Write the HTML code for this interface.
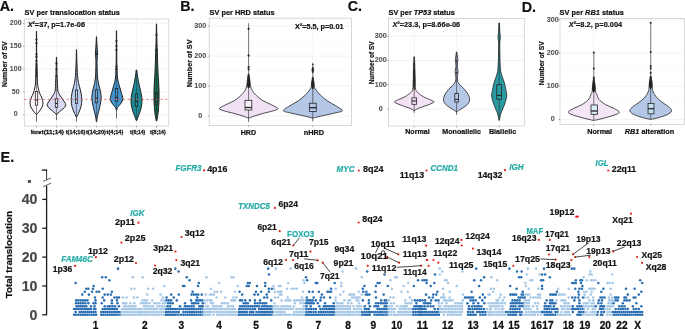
<!DOCTYPE html>
<html><head><meta charset="utf-8"><style>
html,body{margin:0;padding:0;background:#fff;width:685px;height:329px;overflow:hidden}
svg{display:block;font-family:"Liberation Sans",sans-serif;will-change:transform}
</style></head><body>
<svg width="685" height="329" viewBox="0 0 685 329">
<rect width="685" height="329" fill="#fff"/>
<text x="-0.30" y="11.40" font-size="14.3" font-weight="bold" fill="#111" stroke="#111" stroke-width="0.2" >A.</text>
<text x="180.30" y="10.90" font-size="14.3" font-weight="bold" fill="#111" stroke="#111" stroke-width="0.2" >B.</text>
<text x="347.80" y="10.90" font-size="14.3" font-weight="bold" fill="#111" stroke="#111" stroke-width="0.2" >C.</text>
<text x="521.80" y="11.50" font-size="14.3" font-weight="bold" fill="#111" stroke="#111" stroke-width="0.2" >D.</text>
<text x="0.60" y="162.00" font-size="14.3" font-weight="bold" fill="#111" stroke="#111" stroke-width="0.2" >E.</text>
<text x="24.60" y="14.70" font-size="7.3" font-weight="bold" fill="#111" stroke="#111" stroke-width="0.2" textLength="95.20" lengthAdjust="spacingAndGlyphs" >SV per translocation status</text>
<rect x="24.30" y="19.00" width="144.50" height="107.10" fill="#fff" stroke="none" stroke-width="1" />
<line x1="24.30" y1="103.29" x2="168.80" y2="103.29" stroke="#f4f4f4" stroke-width="0.4" />
<line x1="24.30" y1="80.46" x2="168.80" y2="80.46" stroke="#f4f4f4" stroke-width="0.4" />
<line x1="24.30" y1="57.64" x2="168.80" y2="57.64" stroke="#f4f4f4" stroke-width="0.4" />
<line x1="24.30" y1="34.81" x2="168.80" y2="34.81" stroke="#f4f4f4" stroke-width="0.4" />
<line x1="24.30" y1="114.70" x2="168.80" y2="114.70" stroke="#ebebeb" stroke-width="0.6" />
<line x1="24.30" y1="91.88" x2="168.80" y2="91.88" stroke="#ebebeb" stroke-width="0.6" />
<line x1="24.30" y1="69.05" x2="168.80" y2="69.05" stroke="#ebebeb" stroke-width="0.6" />
<line x1="24.30" y1="46.22" x2="168.80" y2="46.22" stroke="#ebebeb" stroke-width="0.6" />
<line x1="24.30" y1="23.40" x2="168.80" y2="23.40" stroke="#ebebeb" stroke-width="0.6" />
<line x1="36.50" y1="19.00" x2="36.50" y2="126.10" stroke="#ebebeb" stroke-width="0.6" />
<line x1="56.50" y1="19.00" x2="56.50" y2="126.10" stroke="#ebebeb" stroke-width="0.6" />
<line x1="76.50" y1="19.00" x2="76.50" y2="126.10" stroke="#ebebeb" stroke-width="0.6" />
<line x1="96.50" y1="19.00" x2="96.50" y2="126.10" stroke="#ebebeb" stroke-width="0.6" />
<line x1="116.50" y1="19.00" x2="116.50" y2="126.10" stroke="#ebebeb" stroke-width="0.6" />
<line x1="136.50" y1="19.00" x2="136.50" y2="126.10" stroke="#ebebeb" stroke-width="0.6" />
<line x1="156.50" y1="19.00" x2="156.50" y2="126.10" stroke="#ebebeb" stroke-width="0.6" />
<rect x="24.30" y="19.00" width="144.50" height="107.10" fill="none" stroke="#cfcfcf" stroke-width="0.8" />
<line x1="22.90" y1="114.70" x2="24.30" y2="114.70" stroke="#555" stroke-width="0.5" />
<text x="15.70" y="116.40" font-size="7.0" font-weight="bold" fill="#4d4d4d" stroke="#4d4d4d" stroke-width="0.05" text-anchor="middle" >0</text>
<line x1="22.90" y1="91.88" x2="24.30" y2="91.88" stroke="#555" stroke-width="0.5" />
<text x="15.70" y="93.58" font-size="7.0" font-weight="bold" fill="#4d4d4d" stroke="#4d4d4d" stroke-width="0.05" text-anchor="middle" >50</text>
<line x1="22.90" y1="69.05" x2="24.30" y2="69.05" stroke="#555" stroke-width="0.5" />
<text x="15.70" y="70.75" font-size="7.0" font-weight="bold" fill="#4d4d4d" stroke="#4d4d4d" stroke-width="0.05" text-anchor="middle" >100</text>
<line x1="22.90" y1="46.22" x2="24.30" y2="46.22" stroke="#555" stroke-width="0.5" />
<text x="15.70" y="47.92" font-size="7.0" font-weight="bold" fill="#4d4d4d" stroke="#4d4d4d" stroke-width="0.05" text-anchor="middle" >150</text>
<line x1="22.90" y1="23.40" x2="24.30" y2="23.40" stroke="#555" stroke-width="0.5" />
<text x="15.70" y="25.10" font-size="7.0" font-weight="bold" fill="#4d4d4d" stroke="#4d4d4d" stroke-width="0.05" text-anchor="middle" >200</text>
<line x1="36.50" y1="126.10" x2="36.50" y2="127.50" stroke="#555" stroke-width="0.5" />
<line x1="56.50" y1="126.10" x2="56.50" y2="127.50" stroke="#555" stroke-width="0.5" />
<line x1="76.50" y1="126.10" x2="76.50" y2="127.50" stroke="#555" stroke-width="0.5" />
<line x1="96.50" y1="126.10" x2="96.50" y2="127.50" stroke="#555" stroke-width="0.5" />
<line x1="116.50" y1="126.10" x2="116.50" y2="127.50" stroke="#555" stroke-width="0.5" />
<line x1="136.50" y1="126.10" x2="136.50" y2="127.50" stroke="#555" stroke-width="0.5" />
<line x1="156.50" y1="126.10" x2="156.50" y2="127.50" stroke="#555" stroke-width="0.5" />
<line x1="36.50" y1="113.30" x2="36.50" y2="121.60" stroke="#2b2b2b" stroke-width="0.7" />
<path d="M36.60,31.30 C36.62,36.08 36.63,53.55 36.70,60.00 C36.77,66.45 36.90,67.00 37.00,70.00 C37.10,73.00 37.20,75.67 37.30,78.00 C37.40,80.33 37.45,82.33 37.60,84.00 C37.75,85.67 37.87,86.50 38.20,88.00 C38.53,89.50 39.00,91.33 39.60,93.00 C40.20,94.67 41.23,96.37 41.80,98.00 C42.37,99.63 42.95,101.30 43.00,102.80 C43.05,104.30 42.68,105.63 42.10,107.00 C41.52,108.37 40.37,109.78 39.50,111.00 C38.63,112.22 37.33,113.75 36.90,114.30 L36.10,114.30 C35.67,113.75 34.37,112.22 33.50,111.00 C32.63,109.78 31.48,108.37 30.90,107.00 C30.32,105.63 29.95,104.30 30.00,102.80 C30.05,101.30 30.63,99.63 31.20,98.00 C31.77,96.37 32.80,94.67 33.40,93.00 C34.00,91.33 34.47,89.50 34.80,88.00 C35.13,86.50 35.25,85.67 35.40,84.00 C35.55,82.33 35.60,80.33 35.70,78.00 C35.80,75.67 35.90,73.00 36.00,70.00 C36.10,67.00 36.23,66.45 36.30,60.00 C36.37,53.55 36.38,36.08 36.40,31.30 Z" fill="#fdf6fd" stroke="#222" stroke-width="1.0" stroke-linejoin="round"/>
<line x1="36.50" y1="31.30" x2="36.50" y2="114.30" stroke="#2b2b2b" stroke-width="0.5" />
<rect x="35.30" y="91.50" width="2.40" height="13.70" fill="#fdf6fd" stroke="#262626" stroke-width="0.8" />
<line x1="35.30" y1="100.00" x2="37.70" y2="100.00" stroke="#262626" stroke-width="1.1" />
<line x1="56.50" y1="113.50" x2="56.50" y2="120.00" stroke="#2b2b2b" stroke-width="0.7" />
<path d="M56.60,57.00 C56.65,59.50 56.78,68.17 56.90,72.00 C57.02,75.83 57.18,77.60 57.30,80.00 C57.42,82.40 57.50,84.57 57.60,86.40 C57.70,88.23 57.65,89.73 57.90,91.00 C58.15,92.27 58.45,92.83 59.10,94.00 C59.75,95.17 60.90,96.67 61.80,98.00 C62.70,99.33 63.83,100.88 64.50,102.00 C65.17,103.12 65.80,103.78 65.80,104.70 C65.80,105.62 65.30,106.53 64.50,107.50 C63.70,108.47 62.08,109.58 61.00,110.50 C59.92,111.42 58.68,112.33 58.00,113.00 C57.32,113.67 57.08,114.25 56.90,114.50 L56.10,114.50 C55.92,114.25 55.68,113.67 55.00,113.00 C54.32,112.33 53.08,111.42 52.00,110.50 C50.92,109.58 49.30,108.47 48.50,107.50 C47.70,106.53 47.20,105.62 47.20,104.70 C47.20,103.78 47.83,103.12 48.50,102.00 C49.17,100.88 50.30,99.33 51.20,98.00 C52.10,96.67 53.25,95.17 53.90,94.00 C54.55,92.83 54.85,92.27 55.10,91.00 C55.35,89.73 55.30,88.23 55.40,86.40 C55.50,84.57 55.58,82.40 55.70,80.00 C55.82,77.60 55.98,75.83 56.10,72.00 C56.22,68.17 56.35,59.50 56.40,57.00 Z" fill="#d9d9f3" stroke="#222" stroke-width="1.0" stroke-linejoin="round"/>
<line x1="56.50" y1="57.00" x2="56.50" y2="114.50" stroke="#2b2b2b" stroke-width="0.5" />
<rect x="55.30" y="98.70" width="2.40" height="8.70" fill="#d9d9f3" stroke="#262626" stroke-width="0.8" />
<line x1="55.30" y1="103.40" x2="57.70" y2="103.40" stroke="#262626" stroke-width="1.1" />
<line x1="76.50" y1="115.80" x2="76.50" y2="121.50" stroke="#2b2b2b" stroke-width="0.7" />
<path d="M76.60,49.70 C76.63,51.42 76.70,56.62 76.80,60.00 C76.90,63.38 77.00,66.67 77.20,70.00 C77.40,73.33 77.62,77.22 78.00,80.00 C78.38,82.78 78.98,84.47 79.50,86.70 C80.02,88.93 80.72,91.18 81.10,93.40 C81.48,95.62 81.82,97.78 81.80,100.00 C81.78,102.22 81.47,104.70 81.00,106.70 C80.53,108.70 79.68,110.32 79.00,112.00 C78.32,113.68 77.25,116.00 76.90,116.80 L76.10,116.80 C75.75,116.00 74.68,113.68 74.00,112.00 C73.32,110.32 72.47,108.70 72.00,106.70 C71.53,104.70 71.22,102.22 71.20,100.00 C71.18,97.78 71.52,95.62 71.90,93.40 C72.28,91.18 72.98,88.93 73.50,86.70 C74.02,84.47 74.62,82.78 75.00,80.00 C75.38,77.22 75.60,73.33 75.80,70.00 C76.00,66.67 76.10,63.38 76.20,60.00 C76.30,56.62 76.37,51.42 76.40,49.70 Z" fill="#b8ccee" stroke="#222" stroke-width="1.0" stroke-linejoin="round"/>
<line x1="76.50" y1="49.70" x2="76.50" y2="116.80" stroke="#2b2b2b" stroke-width="0.5" />
<rect x="75.40" y="90.00" width="2.20" height="13.40" fill="#b8ccee" stroke="#262626" stroke-width="0.8" />
<line x1="75.40" y1="99.40" x2="77.60" y2="99.40" stroke="#262626" stroke-width="1.1" />
<path d="M96.60,36.70 C96.67,38.08 96.83,42.12 97.00,45.00 C97.17,47.88 97.58,51.50 97.60,54.00 C97.62,56.50 97.17,57.33 97.10,60.00 C97.03,62.67 97.12,67.00 97.20,70.00 C97.28,73.00 97.37,75.67 97.60,78.00 C97.83,80.33 98.18,82.00 98.60,84.00 C99.02,86.00 99.67,87.83 100.10,90.00 C100.53,92.17 101.13,94.83 101.20,97.00 C101.27,99.17 100.87,100.83 100.50,103.00 C100.13,105.17 99.50,107.83 99.00,110.00 C98.50,112.17 97.88,114.07 97.50,116.00 C97.12,117.93 96.83,120.67 96.70,121.60 L96.30,121.60 C96.17,120.67 95.88,117.93 95.50,116.00 C95.12,114.07 94.50,112.17 94.00,110.00 C93.50,107.83 92.87,105.17 92.50,103.00 C92.13,100.83 91.73,99.17 91.80,97.00 C91.87,94.83 92.47,92.17 92.90,90.00 C93.33,87.83 93.98,86.00 94.40,84.00 C94.82,82.00 95.17,80.33 95.40,78.00 C95.63,75.67 95.72,73.00 95.80,70.00 C95.88,67.00 95.97,62.67 95.90,60.00 C95.83,57.33 95.38,56.50 95.40,54.00 C95.42,51.50 95.83,47.88 96.00,45.00 C96.17,42.12 96.33,38.08 96.40,36.70 Z" fill="#6aa7da" stroke="#222" stroke-width="1.0" stroke-linejoin="round"/>
<line x1="96.50" y1="36.70" x2="96.50" y2="121.60" stroke="#2b2b2b" stroke-width="0.5" />
<rect x="95.30" y="89.70" width="2.40" height="13.10" fill="#6aa7da" stroke="#262626" stroke-width="0.8" />
<line x1="95.30" y1="98.00" x2="97.70" y2="98.00" stroke="#262626" stroke-width="1.1" />
<line x1="116.50" y1="109.00" x2="116.50" y2="118.40" stroke="#2b2b2b" stroke-width="0.7" />
<path d="M116.60,30.80 C116.63,35.67 116.72,53.47 116.80,60.00 C116.88,66.53 116.98,67.00 117.10,70.00 C117.22,73.00 117.17,75.50 117.50,78.00 C117.83,80.50 118.50,82.67 119.10,85.00 C119.70,87.33 120.48,89.72 121.10,92.00 C121.72,94.28 122.80,96.87 122.80,98.70 C122.80,100.53 121.98,101.50 121.10,103.00 C120.22,104.50 118.20,106.53 117.50,107.70 C116.80,108.87 117.00,109.62 116.90,110.00 L116.10,110.00 C116.00,109.62 116.20,108.87 115.50,107.70 C114.80,106.53 112.78,104.50 111.90,103.00 C111.02,101.50 110.20,100.53 110.20,98.70 C110.20,96.87 111.28,94.28 111.90,92.00 C112.52,89.72 113.30,87.33 113.90,85.00 C114.50,82.67 115.17,80.50 115.50,78.00 C115.83,75.50 115.78,73.00 115.90,70.00 C116.02,67.00 116.12,66.53 116.20,60.00 C116.28,53.47 116.37,35.67 116.40,30.80 Z" fill="#3f96cf" stroke="#222" stroke-width="1.0" stroke-linejoin="round"/>
<line x1="116.50" y1="30.80" x2="116.50" y2="110.00" stroke="#2b2b2b" stroke-width="0.5" />
<rect x="115.30" y="88.50" width="2.40" height="13.00" fill="#3f96cf" stroke="#262626" stroke-width="0.8" />
<line x1="115.30" y1="97.50" x2="117.70" y2="97.50" stroke="#262626" stroke-width="1.1" />
<path d="M136.80,70.00 C136.92,71.00 137.22,74.00 137.50,76.00 C137.78,78.00 138.10,80.00 138.50,82.00 C138.90,84.00 139.45,86.00 139.90,88.00 C140.35,90.00 140.85,92.00 141.20,94.00 C141.55,96.00 141.95,98.00 142.00,100.00 C142.05,102.00 141.85,104.00 141.50,106.00 C141.15,108.00 140.48,110.17 139.90,112.00 C139.32,113.83 138.52,115.58 138.00,117.00 C137.48,118.42 137.00,119.92 136.80,120.50 L136.20,120.50 C136.00,119.92 135.52,118.42 135.00,117.00 C134.48,115.58 133.68,113.83 133.10,112.00 C132.52,110.17 131.85,108.00 131.50,106.00 C131.15,104.00 130.95,102.00 131.00,100.00 C131.05,98.00 131.45,96.00 131.80,94.00 C132.15,92.00 132.65,90.00 133.10,88.00 C133.55,86.00 134.10,84.00 134.50,82.00 C134.90,80.00 135.22,78.00 135.50,76.00 C135.78,74.00 136.08,71.00 136.20,70.00 Z" fill="#1b8a96" stroke="#222" stroke-width="1.0" stroke-linejoin="round"/>
<line x1="136.50" y1="70.00" x2="136.50" y2="120.50" stroke="#2b2b2b" stroke-width="0.5" />
<rect x="135.30" y="94.00" width="2.40" height="12.50" fill="#1b8a96" stroke="#262626" stroke-width="0.8" />
<line x1="135.30" y1="101.50" x2="137.70" y2="101.50" stroke="#262626" stroke-width="1.1" />
<path d="M156.60,23.90 C156.65,26.58 156.77,34.82 156.90,40.00 C157.03,45.18 157.23,50.00 157.40,55.00 C157.57,60.00 157.72,65.83 157.90,70.00 C158.08,74.17 158.32,76.67 158.50,80.00 C158.68,83.33 158.92,86.67 159.00,90.00 C159.08,93.33 159.10,96.67 159.00,100.00 C158.90,103.33 158.65,107.17 158.40,110.00 C158.15,112.83 157.77,115.18 157.50,117.00 C157.23,118.82 156.92,120.25 156.80,120.90 L156.20,120.90 C156.08,120.25 155.77,118.82 155.50,117.00 C155.23,115.18 154.85,112.83 154.60,110.00 C154.35,107.17 154.10,103.33 154.00,100.00 C153.90,96.67 153.92,93.33 154.00,90.00 C154.08,86.67 154.32,83.33 154.50,80.00 C154.68,76.67 154.92,74.17 155.10,70.00 C155.28,65.83 155.43,60.00 155.60,55.00 C155.77,50.00 155.97,45.18 156.10,40.00 C156.23,34.82 156.35,26.58 156.40,23.90 Z" fill="#136b51" stroke="#222" stroke-width="1.0" stroke-linejoin="round"/>
<line x1="156.50" y1="23.90" x2="156.50" y2="120.90" stroke="#2b2b2b" stroke-width="0.5" />
<rect x="155.60" y="93.00" width="1.80" height="11.50" fill="#136b51" stroke="#262626" stroke-width="0.8" />
<line x1="155.60" y1="99.50" x2="157.40" y2="99.50" stroke="#262626" stroke-width="1.1" />
<circle cx="36.50" cy="39.60" r="1.1" fill="#222"/>
<circle cx="36.50" cy="43.20" r="1.1" fill="#222"/>
<circle cx="36.50" cy="54.30" r="1.1" fill="#222"/>
<circle cx="36.50" cy="56.80" r="1.1" fill="#222"/>
<circle cx="36.50" cy="61.10" r="1.1" fill="#222"/>
<circle cx="36.50" cy="64.00" r="1.1" fill="#222"/>
<circle cx="36.50" cy="66.00" r="1.1" fill="#222"/>
<circle cx="36.50" cy="68.00" r="1.1" fill="#222"/>
<circle cx="36.50" cy="70.00" r="1.1" fill="#222"/>
<circle cx="36.50" cy="72.00" r="1.1" fill="#222"/>
<circle cx="36.50" cy="74.00" r="1.1" fill="#222"/>
<circle cx="36.50" cy="76.00" r="1.1" fill="#222"/>
<circle cx="56.50" cy="63.40" r="1.1" fill="#222"/>
<circle cx="56.50" cy="69.30" r="1.1" fill="#222"/>
<circle cx="56.50" cy="76.00" r="1.1" fill="#222"/>
<circle cx="96.50" cy="54.20" r="1.1" fill="#222"/>
<circle cx="116.50" cy="41.10" r="1.1" fill="#222"/>
<circle cx="116.50" cy="46.00" r="1.1" fill="#222"/>
<circle cx="116.50" cy="50.00" r="1.1" fill="#222"/>
<circle cx="116.50" cy="66.50" r="1.1" fill="#222"/>
<circle cx="116.50" cy="69.00" r="1.1" fill="#222"/>
<circle cx="156.50" cy="35.00" r="1.1" fill="#222"/>
<circle cx="156.50" cy="50.00" r="1.1" fill="#222"/>
<line x1="24.30" y1="99.40" x2="168.60" y2="99.40" stroke="#e05050" stroke-width="0.8" stroke-dasharray="2.1,2.6"/>
<text x="27.70" y="27.00" font-size="7.3" font-weight="bold" fill="#111" stroke="#111" stroke-width="0.2" textLength="57.30" lengthAdjust="spacingAndGlyphs" ><tspan font-style="italic">X</tspan><tspan font-size="4" dy="-2.6">2</tspan><tspan dy="2.6">=37, p=1.7e-06</tspan></text>
<text x="30.80" y="134.30" font-size="5.7" font-weight="bold" fill="#1a1a1a" stroke="#1a1a1a" stroke-width="0.3" textLength="10.20" lengthAdjust="spacingAndGlyphs" >None</text>
<text x="41.60" y="134.30" font-size="5.7" font-weight="bold" fill="#1a1a1a" stroke="#1a1a1a" stroke-width="0.3" textLength="22.40" lengthAdjust="spacingAndGlyphs" >t(11;14)</text>
<text x="65.80" y="134.30" font-size="5.7" font-weight="bold" fill="#1a1a1a" stroke="#1a1a1a" stroke-width="0.3" textLength="19.50" lengthAdjust="spacingAndGlyphs" >t(14;16)</text>
<text x="86.00" y="134.30" font-size="5.7" font-weight="bold" fill="#1a1a1a" stroke="#1a1a1a" stroke-width="0.3" textLength="20.00" lengthAdjust="spacingAndGlyphs" >t(14;20)</text>
<text x="106.60" y="134.30" font-size="5.7" font-weight="bold" fill="#1a1a1a" stroke="#1a1a1a" stroke-width="0.3" textLength="16.70" lengthAdjust="spacingAndGlyphs" >t(4;14)</text>
<text x="130.10" y="134.30" font-size="5.7" font-weight="bold" fill="#1a1a1a" stroke="#1a1a1a" stroke-width="0.3" textLength="15.20" lengthAdjust="spacingAndGlyphs" >t(6;14)</text>
<text x="150.10" y="134.30" font-size="5.7" font-weight="bold" fill="#1a1a1a" stroke="#1a1a1a" stroke-width="0.3" textLength="15.60" lengthAdjust="spacingAndGlyphs" >t(8;14)</text>
<text transform="translate(6.80,64.25) rotate(-90)" x="-22.85" y="0" font-size="7.1" font-weight="bold" fill="#111" stroke="#111" stroke-width="0.2" textLength="45.70" lengthAdjust="spacingAndGlyphs">Number of SV</text>
<text x="209.60" y="14.70" font-size="7.3" font-weight="bold" fill="#111" stroke="#111" stroke-width="0.2" textLength="65.00" lengthAdjust="spacingAndGlyphs" >SV per HRD status</text>
<rect x="209.20" y="18.20" width="142.40" height="107.40" fill="#fff" stroke="none" stroke-width="1" />
<line x1="209.20" y1="101.10" x2="351.60" y2="101.10" stroke="#f4f4f4" stroke-width="0.4" />
<line x1="209.20" y1="71.10" x2="351.60" y2="71.10" stroke="#f4f4f4" stroke-width="0.4" />
<line x1="209.20" y1="41.10" x2="351.60" y2="41.10" stroke="#f4f4f4" stroke-width="0.4" />
<line x1="209.20" y1="116.10" x2="351.60" y2="116.10" stroke="#ebebeb" stroke-width="0.6" />
<line x1="209.20" y1="86.10" x2="351.60" y2="86.10" stroke="#ebebeb" stroke-width="0.6" />
<line x1="209.20" y1="56.10" x2="351.60" y2="56.10" stroke="#ebebeb" stroke-width="0.6" />
<line x1="209.20" y1="26.10" x2="351.60" y2="26.10" stroke="#ebebeb" stroke-width="0.6" />
<line x1="248.60" y1="18.20" x2="248.60" y2="125.60" stroke="#ebebeb" stroke-width="0.6" />
<line x1="312.80" y1="18.20" x2="312.80" y2="125.60" stroke="#ebebeb" stroke-width="0.6" />
<rect x="209.20" y="18.20" width="142.40" height="107.40" fill="none" stroke="#cfcfcf" stroke-width="0.8" />
<line x1="207.80" y1="116.10" x2="209.20" y2="116.10" stroke="#555" stroke-width="0.5" />
<text x="200.30" y="117.80" font-size="7.2" font-weight="bold" fill="#4d4d4d" stroke="#4d4d4d" stroke-width="0.05" text-anchor="middle" >0</text>
<line x1="207.80" y1="86.10" x2="209.20" y2="86.10" stroke="#555" stroke-width="0.5" />
<text x="200.30" y="87.80" font-size="7.2" font-weight="bold" fill="#4d4d4d" stroke="#4d4d4d" stroke-width="0.05" text-anchor="middle" >100</text>
<line x1="207.80" y1="56.10" x2="209.20" y2="56.10" stroke="#555" stroke-width="0.5" />
<text x="200.30" y="57.80" font-size="7.2" font-weight="bold" fill="#4d4d4d" stroke="#4d4d4d" stroke-width="0.05" text-anchor="middle" >200</text>
<line x1="207.80" y1="26.10" x2="209.20" y2="26.10" stroke="#555" stroke-width="0.5" />
<text x="200.30" y="27.80" font-size="7.2" font-weight="bold" fill="#4d4d4d" stroke="#4d4d4d" stroke-width="0.05" text-anchor="middle" >300</text>
<line x1="248.60" y1="125.60" x2="248.60" y2="127.00" stroke="#555" stroke-width="0.5" />
<line x1="312.80" y1="125.60" x2="312.80" y2="127.00" stroke="#555" stroke-width="0.5" />
<path d="M248.90,74.00 C249.02,74.67 249.35,76.08 249.60,78.00 C249.85,79.92 249.97,83.43 250.40,85.50 C250.83,87.57 251.30,88.82 252.20,90.40 C253.10,91.98 254.02,93.28 255.80,95.00 C257.58,96.72 260.27,99.07 262.90,100.70 C265.53,102.33 269.10,103.48 271.60,104.80 C274.10,106.12 277.73,107.57 277.90,108.60 C278.07,109.63 274.98,110.22 272.60,111.00 C270.22,111.78 266.52,112.50 263.60,113.30 C260.68,114.10 257.47,115.03 255.10,115.80 C252.73,116.57 250.35,117.55 249.40,117.90 L247.80,117.90 C246.85,117.55 244.47,116.57 242.10,115.80 C239.73,115.03 236.52,114.10 233.60,113.30 C230.68,112.50 226.98,111.78 224.60,111.00 C222.22,110.22 219.13,109.63 219.30,108.60 C219.47,107.57 223.10,106.12 225.60,104.80 C228.10,103.48 231.67,102.33 234.30,100.70 C236.93,99.07 239.62,96.72 241.40,95.00 C243.18,93.28 244.10,91.98 245.00,90.40 C245.90,88.82 246.37,87.57 246.80,85.50 C247.23,83.43 247.35,79.92 247.60,78.00 C247.85,76.08 248.18,74.67 248.30,74.00 Z" fill="#f0e2f4" stroke="#222" stroke-width="0.8" stroke-linejoin="round"/>
<line x1="248.60" y1="117.00" x2="248.60" y2="121.90" stroke="#2b2b2b" stroke-width="0.7" />
<line x1="248.60" y1="23.30" x2="248.60" y2="117.00" stroke="#333" stroke-width="0.65" />
<path d="M248.90,74.00 C249.02,74.83 249.38,77.17 249.60,79.00 C249.82,80.83 250.27,83.50 250.20,85.00 C250.13,86.50 249.37,87.50 249.20,88.00 L248.00,88.00 C247.83,87.50 247.07,86.50 247.00,85.00 C246.93,83.50 247.38,80.83 247.60,79.00 C247.82,77.17 248.18,74.83 248.30,74.00 Z" fill="#222" stroke="#222" stroke-width="0.3" stroke-linejoin="round"/>
<rect x="245.00" y="100.30" width="6.80" height="9.70" fill="#f5eff7" stroke="#262626" stroke-width="0.8" />
<line x1="245.00" y1="107.50" x2="251.80" y2="107.50" stroke="#262626" stroke-width="1.3" />
<circle cx="248.60" cy="28.80" r="1.1" fill="#222"/>
<circle cx="248.60" cy="55.60" r="1.1" fill="#222"/>
<circle cx="248.60" cy="67.00" r="1.1" fill="#222"/>
<circle cx="248.60" cy="69.30" r="1.1" fill="#222"/>
<path d="M313.10,77.00 C313.20,77.83 313.47,80.28 313.70,82.00 C313.93,83.72 314.05,85.90 314.50,87.30 C314.95,88.70 315.43,89.12 316.40,90.40 C317.37,91.68 318.52,93.28 320.30,95.00 C322.08,96.72 324.52,98.90 327.10,100.70 C329.68,102.50 333.27,104.15 335.80,105.80 C338.33,107.45 342.30,109.43 342.30,110.60 C342.30,111.77 338.38,112.10 335.80,112.80 C333.22,113.50 329.72,114.15 326.80,114.80 C323.88,115.45 320.50,116.17 318.30,116.70 C316.10,117.23 314.38,117.78 313.60,118.00 L312.00,118.00 C311.22,117.78 309.50,117.23 307.30,116.70 C305.10,116.17 301.72,115.45 298.80,114.80 C295.88,114.15 292.38,113.50 289.80,112.80 C287.22,112.10 283.30,111.77 283.30,110.60 C283.30,109.43 287.27,107.45 289.80,105.80 C292.33,104.15 295.92,102.50 298.50,100.70 C301.08,98.90 303.52,96.72 305.30,95.00 C307.08,93.28 308.23,91.68 309.20,90.40 C310.17,89.12 310.65,88.70 311.10,87.30 C311.55,85.90 311.67,83.72 311.90,82.00 C312.13,80.28 312.40,77.83 312.50,77.00 Z" fill="#b4c7e7" stroke="#222" stroke-width="0.8" stroke-linejoin="round"/>
<line x1="312.80" y1="117.00" x2="312.80" y2="121.40" stroke="#2b2b2b" stroke-width="0.7" />
<line x1="312.80" y1="62.70" x2="312.80" y2="117.00" stroke="#333" stroke-width="0.65" />
<path d="M313.10,67.00 C313.22,67.50 313.80,69.00 313.80,70.00 C313.80,71.00 313.22,72.50 313.10,73.00 L312.50,73.00 C312.38,72.50 311.80,71.00 311.80,70.00 C311.80,69.00 312.38,67.50 312.50,67.00 Z" fill="#222" stroke="#222" stroke-width="0.4" stroke-linejoin="round"/>
<path d="M313.10,78.00 C313.28,79.00 314.17,82.17 314.20,84.00 C314.23,85.83 313.45,88.17 313.30,89.00 L312.30,89.00 C312.15,88.17 311.37,85.83 311.40,84.00 C311.43,82.17 312.32,79.00 312.50,78.00 Z" fill="#222" stroke="#222" stroke-width="0.4" stroke-linejoin="round"/>
<rect x="309.35" y="103.20" width="6.90" height="8.30" fill="#b4c7e7" stroke="#262626" stroke-width="0.8" />
<line x1="309.35" y1="107.70" x2="316.25" y2="107.70" stroke="#262626" stroke-width="1.3" />
<circle cx="312.80" cy="64.50" r="0.8" fill="#222"/>
<text x="295.10" y="28.50" font-size="7.3" font-weight="bold" fill="#111" stroke="#111" stroke-width="0.2" textLength="48.40" lengthAdjust="spacingAndGlyphs" >X<tspan font-size="4" dy="-2.6">2</tspan><tspan dy="2.6">=5.5, p=0.01</tspan></text>
<text x="240.70" y="134.80" font-size="7.1" font-weight="bold" fill="#111" stroke="#111" stroke-width="0.2" textLength="15.40" lengthAdjust="spacingAndGlyphs" >HRD</text>
<text x="303.70" y="134.80" font-size="7.1" font-weight="bold" fill="#111" stroke="#111" stroke-width="0.2" textLength="20.40" lengthAdjust="spacingAndGlyphs" >nHRD</text>
<text transform="translate(192.30,63.40) rotate(-90)" x="-23.90" y="0" font-size="7.5" font-weight="bold" fill="#111" stroke="#111" stroke-width="0.2" textLength="47.80" lengthAdjust="spacingAndGlyphs">Number of SV</text>
<text x="388.60" y="14.50" font-size="7.3" font-weight="bold" fill="#111" stroke="#111" stroke-width="0.2" textLength="66.20" lengthAdjust="spacingAndGlyphs" >SV per <tspan font-style="italic">TP53</tspan> status</text>
<rect x="388.50" y="18.40" width="135.80" height="107.60" fill="#fff" stroke="none" stroke-width="1" />
<line x1="388.50" y1="121.25" x2="524.30" y2="121.25" stroke="#f4f4f4" stroke-width="0.4" />
<line x1="388.50" y1="96.95" x2="524.30" y2="96.95" stroke="#f4f4f4" stroke-width="0.4" />
<line x1="388.50" y1="72.65" x2="524.30" y2="72.65" stroke="#f4f4f4" stroke-width="0.4" />
<line x1="388.50" y1="48.35" x2="524.30" y2="48.35" stroke="#f4f4f4" stroke-width="0.4" />
<line x1="388.50" y1="24.05" x2="524.30" y2="24.05" stroke="#f4f4f4" stroke-width="0.4" />
<line x1="388.50" y1="109.10" x2="524.30" y2="109.10" stroke="#ebebeb" stroke-width="0.6" />
<line x1="388.50" y1="84.80" x2="524.30" y2="84.80" stroke="#ebebeb" stroke-width="0.6" />
<line x1="388.50" y1="60.50" x2="524.30" y2="60.50" stroke="#ebebeb" stroke-width="0.6" />
<line x1="388.50" y1="36.20" x2="524.30" y2="36.20" stroke="#ebebeb" stroke-width="0.6" />
<line x1="414.20" y1="18.40" x2="414.20" y2="126.00" stroke="#ebebeb" stroke-width="0.6" />
<line x1="456.50" y1="18.40" x2="456.50" y2="126.00" stroke="#ebebeb" stroke-width="0.6" />
<line x1="499.20" y1="18.40" x2="499.20" y2="126.00" stroke="#ebebeb" stroke-width="0.6" />
<rect x="388.50" y="18.40" width="135.80" height="107.60" fill="none" stroke="#cfcfcf" stroke-width="0.8" />
<line x1="387.10" y1="109.10" x2="388.50" y2="109.10" stroke="#555" stroke-width="0.5" />
<text x="380.80" y="110.80" font-size="7.2" font-weight="bold" fill="#4d4d4d" stroke="#4d4d4d" stroke-width="0.05" text-anchor="middle" >0</text>
<line x1="387.10" y1="84.80" x2="388.50" y2="84.80" stroke="#555" stroke-width="0.5" />
<text x="380.80" y="86.50" font-size="7.2" font-weight="bold" fill="#4d4d4d" stroke="#4d4d4d" stroke-width="0.05" text-anchor="middle" >100</text>
<line x1="387.10" y1="60.50" x2="388.50" y2="60.50" stroke="#555" stroke-width="0.5" />
<text x="380.80" y="62.20" font-size="7.2" font-weight="bold" fill="#4d4d4d" stroke="#4d4d4d" stroke-width="0.05" text-anchor="middle" >200</text>
<line x1="387.10" y1="36.20" x2="388.50" y2="36.20" stroke="#555" stroke-width="0.5" />
<text x="380.80" y="37.90" font-size="7.2" font-weight="bold" fill="#4d4d4d" stroke="#4d4d4d" stroke-width="0.05" text-anchor="middle" >300</text>
<line x1="414.20" y1="126.00" x2="414.20" y2="127.40" stroke="#555" stroke-width="0.5" />
<line x1="456.50" y1="126.00" x2="456.50" y2="127.40" stroke="#555" stroke-width="0.5" />
<line x1="499.20" y1="126.00" x2="499.20" y2="127.40" stroke="#555" stroke-width="0.5" />
<path d="M414.50,70.00 C414.58,71.67 414.80,76.77 415.00,80.00 C415.20,83.23 415.25,87.30 415.70,89.40 C416.15,91.50 416.40,91.37 417.70,92.60 C419.00,93.83 421.25,95.53 423.50,96.80 C425.75,98.07 429.50,99.28 431.20,100.20 C432.90,101.12 434.58,101.38 433.70,102.30 C432.82,103.22 428.53,104.67 425.90,105.70 C423.27,106.73 419.77,107.72 417.90,108.50 C416.03,109.28 415.23,110.08 414.70,110.40 L413.70,110.40 C413.17,110.08 412.37,109.28 410.50,108.50 C408.63,107.72 405.13,106.73 402.50,105.70 C399.87,104.67 395.58,103.22 394.70,102.30 C393.82,101.38 395.50,101.12 397.20,100.20 C398.90,99.28 402.65,98.07 404.90,96.80 C407.15,95.53 409.40,93.83 410.70,92.60 C412.00,91.37 412.25,91.50 412.70,89.40 C413.15,87.30 413.20,83.23 413.40,80.00 C413.60,76.77 413.82,71.67 413.90,70.00 Z" fill="#f3e2f5" stroke="#222" stroke-width="0.8" stroke-linejoin="round"/>
<path d="M414.50,58.00 C414.58,59.00 414.87,60.33 415.00,64.00 C415.13,67.67 415.35,75.77 415.30,80.00 C415.25,84.23 414.80,87.83 414.70,89.40 L413.70,89.40 C413.60,87.83 413.15,84.23 413.10,80.00 C413.05,75.77 413.27,67.67 413.40,64.00 C413.53,60.33 413.82,59.00 413.90,58.00 Z" fill="#222" stroke="#222" stroke-width="0.3" stroke-linejoin="round"/>
<line x1="414.20" y1="110.00" x2="414.20" y2="112.80" stroke="#2b2b2b" stroke-width="0.7" />
<line x1="414.20" y1="56.10" x2="414.20" y2="111.00" stroke="#333" stroke-width="0.65" />
<rect x="411.90" y="97.90" width="4.70" height="6.40" fill="#f3e2f5" stroke="#262626" stroke-width="0.8" />
<line x1="411.90" y1="101.00" x2="416.60" y2="101.00" stroke="#262626" stroke-width="1.1" />
<circle cx="414.20" cy="58.00" r="0.9" fill="#2b2b2b"/>
<circle cx="414.20" cy="64.00" r="0.9" fill="#2b2b2b"/>
<circle cx="414.20" cy="70.00" r="0.9" fill="#2b2b2b"/>
<circle cx="414.20" cy="74.00" r="0.9" fill="#2b2b2b"/>
<circle cx="414.20" cy="78.00" r="0.9" fill="#2b2b2b"/>
<circle cx="414.20" cy="82.00" r="0.9" fill="#2b2b2b"/>
<circle cx="414.20" cy="85.00" r="0.9" fill="#2b2b2b"/>
<path d="M456.90,52.00 C456.97,52.67 457.13,54.73 457.30,56.00 C457.47,57.27 457.92,57.93 457.90,59.60 C457.88,61.27 457.17,64.05 457.20,66.00 C457.23,67.95 458.08,69.35 458.10,71.30 C458.12,73.25 457.33,75.93 457.30,77.70 C457.27,79.47 457.43,80.67 457.90,81.90 C458.37,83.13 458.98,83.85 460.10,85.10 C461.22,86.35 463.23,87.80 464.60,89.40 C465.97,91.00 467.45,92.93 468.30,94.70 C469.15,96.47 469.82,98.40 469.70,100.00 C469.58,101.60 468.62,103.07 467.60,104.30 C466.58,105.53 465.10,106.35 463.60,107.40 C462.10,108.45 459.70,109.87 458.60,110.60 C457.50,111.33 457.27,111.60 457.00,111.80 L456.20,111.80 C455.93,111.60 455.70,111.33 454.60,110.60 C453.50,109.87 451.10,108.45 449.60,107.40 C448.10,106.35 446.62,105.53 445.60,104.30 C444.58,103.07 443.62,101.60 443.50,100.00 C443.38,98.40 444.05,96.47 444.90,94.70 C445.75,92.93 447.23,91.00 448.60,89.40 C449.97,87.80 451.98,86.35 453.10,85.10 C454.22,83.85 454.83,83.13 455.30,81.90 C455.77,80.67 455.93,79.47 455.90,77.70 C455.87,75.93 455.08,73.25 455.10,71.30 C455.12,69.35 455.97,67.95 456.00,66.00 C456.03,64.05 455.32,61.27 455.30,59.60 C455.28,57.93 455.73,57.27 455.90,56.00 C456.07,54.73 456.23,52.67 456.30,52.00 Z" fill="#b4c7e7" stroke="#222" stroke-width="0.8" stroke-linejoin="round"/>
<line x1="456.60" y1="111.00" x2="456.60" y2="114.90" stroke="#2b2b2b" stroke-width="0.7" />
<line x1="456.60" y1="52.00" x2="456.60" y2="111.00" stroke="#2b2b2b" stroke-width="0.6" />
<rect x="454.80" y="93.60" width="3.80" height="8.50" fill="#b4c7e7" stroke="#262626" stroke-width="0.8" />
<line x1="454.80" y1="99.40" x2="458.60" y2="99.40" stroke="#262626" stroke-width="1.1" />
<circle cx="456.50" cy="60.80" r="0.9" fill="#2b2b2b"/>
<circle cx="456.50" cy="72.90" r="0.9" fill="#2b2b2b"/>
<path d="M499.50,23.00 C499.55,24.50 499.65,29.58 499.80,32.00 C499.95,34.42 500.40,35.67 500.40,37.50 C500.40,39.33 499.88,40.08 499.80,43.00 C499.72,45.92 499.83,51.33 499.90,55.00 C499.97,58.67 500.05,62.22 500.20,65.00 C500.35,67.78 500.47,69.78 500.80,71.70 C501.13,73.62 501.60,74.62 502.20,76.50 C502.80,78.38 503.73,80.55 504.40,83.00 C505.07,85.45 505.82,89.03 506.20,91.20 C506.58,93.37 506.87,94.10 506.70,96.00 C506.53,97.90 505.87,100.43 505.20,102.60 C504.53,104.77 503.45,107.10 502.70,109.00 C501.95,110.90 501.25,112.10 500.70,114.00 C500.15,115.90 499.62,119.33 499.40,120.40 L499.00,120.40 C498.78,119.33 498.25,115.90 497.70,114.00 C497.15,112.10 496.45,110.90 495.70,109.00 C494.95,107.10 493.87,104.77 493.20,102.60 C492.53,100.43 491.87,97.90 491.70,96.00 C491.53,94.10 491.82,93.37 492.20,91.20 C492.58,89.03 493.33,85.45 494.00,83.00 C494.67,80.55 495.60,78.38 496.20,76.50 C496.80,74.62 497.27,73.62 497.60,71.70 C497.93,69.78 498.05,67.78 498.20,65.00 C498.35,62.22 498.43,58.67 498.50,55.00 C498.57,51.33 498.68,45.92 498.60,43.00 C498.52,40.08 498.00,39.33 498.00,37.50 C498.00,35.67 498.45,34.42 498.60,32.00 C498.75,29.58 498.85,24.50 498.90,23.00 Z" fill="#2a9aa2" stroke="#222" stroke-width="0.8" stroke-linejoin="round"/>
<line x1="499.20" y1="23.20" x2="499.20" y2="119.00" stroke="#2b2b2b" stroke-width="0.6" />
<rect x="496.80" y="84.70" width="4.60" height="14.60" fill="#2a9aa2" stroke="#262626" stroke-width="0.8" />
<line x1="496.80" y1="95.40" x2="501.40" y2="95.40" stroke="#262626" stroke-width="1.1" />
<text x="392.60" y="26.80" font-size="7.3" font-weight="bold" fill="#111" stroke="#111" stroke-width="0.15" textLength="67.60" lengthAdjust="spacingAndGlyphs" ><tspan font-style="italic">X</tspan><tspan font-size="4" dy="-2.6">2</tspan><tspan dy="2.6">=23.3, p=8.66e-06</tspan></text>
<ellipse cx="448.0" cy="25.0" rx="2.3" ry="2.0" fill="#6a6a6a"/>
<text x="405.20" y="134.20" font-size="7.1" font-weight="bold" fill="#111" stroke="#111" stroke-width="0.2" textLength="24.50" lengthAdjust="spacingAndGlyphs" >Normal</text>
<text x="442.30" y="134.20" font-size="7.1" font-weight="bold" fill="#111" stroke="#111" stroke-width="0.2" textLength="38.70" lengthAdjust="spacingAndGlyphs" >Monoallelic</text>
<text x="488.90" y="134.20" font-size="7.1" font-weight="bold" fill="#111" stroke="#111" stroke-width="0.2" textLength="27.30" lengthAdjust="spacingAndGlyphs" >Biallelic</text>
<text transform="translate(373.80,62.90) rotate(-90)" x="-21.45" y="0" font-size="7.0" font-weight="bold" fill="#111" stroke="#111" stroke-width="0.2" textLength="42.90" lengthAdjust="spacingAndGlyphs">Number of SV</text>
<text x="559.60" y="14.70" font-size="7.3" font-weight="bold" fill="#111" stroke="#111" stroke-width="0.2" textLength="64.20" lengthAdjust="spacingAndGlyphs" >SV per <tspan font-style="italic">RB1</tspan> status</text>
<rect x="560.00" y="18.40" width="124.40" height="106.00" fill="#fff" stroke="none" stroke-width="1" />
<line x1="560.00" y1="102.89" x2="684.40" y2="102.89" stroke="#f4f4f4" stroke-width="0.4" />
<line x1="560.00" y1="69.66" x2="684.40" y2="69.66" stroke="#f4f4f4" stroke-width="0.4" />
<line x1="560.00" y1="36.42" x2="684.40" y2="36.42" stroke="#f4f4f4" stroke-width="0.4" />
<line x1="560.00" y1="119.50" x2="684.40" y2="119.50" stroke="#ebebeb" stroke-width="0.6" />
<line x1="560.00" y1="86.27" x2="684.40" y2="86.27" stroke="#ebebeb" stroke-width="0.6" />
<line x1="560.00" y1="53.04" x2="684.40" y2="53.04" stroke="#ebebeb" stroke-width="0.6" />
<line x1="560.00" y1="19.81" x2="684.40" y2="19.81" stroke="#ebebeb" stroke-width="0.6" />
<line x1="593.60" y1="18.40" x2="593.60" y2="124.40" stroke="#ebebeb" stroke-width="0.6" />
<line x1="650.80" y1="18.40" x2="650.80" y2="124.40" stroke="#ebebeb" stroke-width="0.6" />
<rect x="560.00" y="18.40" width="124.40" height="106.00" fill="none" stroke="#cfcfcf" stroke-width="0.8" />
<line x1="558.60" y1="119.50" x2="560.00" y2="119.50" stroke="#555" stroke-width="0.5" />
<text x="552.80" y="121.20" font-size="7.2" font-weight="bold" fill="#4d4d4d" stroke="#4d4d4d" stroke-width="0.05" text-anchor="middle" >0</text>
<line x1="558.60" y1="86.27" x2="560.00" y2="86.27" stroke="#555" stroke-width="0.5" />
<text x="552.80" y="87.97" font-size="7.2" font-weight="bold" fill="#4d4d4d" stroke="#4d4d4d" stroke-width="0.05" text-anchor="middle" >100</text>
<line x1="558.60" y1="53.04" x2="560.00" y2="53.04" stroke="#555" stroke-width="0.5" />
<text x="552.80" y="54.74" font-size="7.2" font-weight="bold" fill="#4d4d4d" stroke="#4d4d4d" stroke-width="0.05" text-anchor="middle" >200</text>
<line x1="558.60" y1="19.81" x2="560.00" y2="19.81" stroke="#555" stroke-width="0.5" />
<text x="552.80" y="21.51" font-size="7.2" font-weight="bold" fill="#4d4d4d" stroke="#4d4d4d" stroke-width="0.05" text-anchor="middle" >300</text>
<line x1="593.60" y1="124.40" x2="593.60" y2="125.80" stroke="#555" stroke-width="0.5" />
<line x1="650.80" y1="124.40" x2="650.80" y2="125.80" stroke="#555" stroke-width="0.5" />
<path d="M594.10,78.00 C594.22,79.00 594.57,81.68 594.80,84.00 C595.03,86.32 595.22,90.28 595.50,91.90 C595.78,93.52 595.95,92.48 596.50,93.70 C597.05,94.92 597.27,97.37 598.80,99.20 C600.33,101.03 603.20,103.18 605.70,104.70 C608.20,106.22 611.53,107.03 613.80,108.30 C616.07,109.57 619.47,111.08 619.30,112.30 C619.13,113.52 615.88,114.50 612.80,115.60 C609.72,116.70 603.83,118.12 600.80,118.90 C597.77,119.68 595.63,120.07 594.60,120.30 L593.00,120.30 C591.97,120.07 589.83,119.68 586.80,118.90 C583.77,118.12 577.88,116.70 574.80,115.60 C571.72,114.50 568.47,113.52 568.30,112.30 C568.13,111.08 571.53,109.57 573.80,108.30 C576.07,107.03 579.40,106.22 581.90,104.70 C584.40,103.18 587.27,101.03 588.80,99.20 C590.33,97.37 590.55,94.92 591.10,93.70 C591.65,92.48 591.82,93.52 592.10,91.90 C592.38,90.28 592.57,86.32 592.80,84.00 C593.03,81.68 593.38,79.00 593.50,78.00 Z" fill="#f3e4f6" stroke="#222" stroke-width="0.8" stroke-linejoin="round"/>
<line x1="593.80" y1="52.80" x2="593.80" y2="120.00" stroke="#333" stroke-width="0.65" />
<path d="M594.10,78.50 C594.23,79.42 594.67,82.25 594.90,84.00 C595.13,85.75 595.58,87.67 595.50,89.00 C595.42,90.33 594.58,91.50 594.40,92.00 L593.20,92.00 C593.02,91.50 592.18,90.33 592.10,89.00 C592.02,87.67 592.47,85.75 592.70,84.00 C592.93,82.25 593.37,79.42 593.50,78.50 Z" fill="#222" stroke="#222" stroke-width="0.3" stroke-linejoin="round"/>
<rect x="591.00" y="105.00" width="6.40" height="9.30" fill="#d6ecf6" stroke="#262626" stroke-width="0.8" />
<line x1="591.00" y1="111.00" x2="597.40" y2="111.00" stroke="#262626" stroke-width="1.3" />
<circle cx="593.80" cy="52.60" r="1.0" fill="#222"/>
<circle cx="593.80" cy="68.50" r="1.0" fill="#222"/>
<circle cx="593.80" cy="77.50" r="1.0" fill="#222"/>
<path d="M651.00,76.00 C651.12,76.83 651.47,78.97 651.70,81.00 C651.93,83.03 652.15,86.38 652.40,88.20 C652.65,90.02 652.50,90.37 653.20,91.90 C653.90,93.43 654.97,95.58 656.60,97.40 C658.23,99.22 660.87,101.13 663.00,102.80 C665.13,104.47 667.97,106.02 669.40,107.40 C670.83,108.78 671.98,109.88 671.60,111.10 C671.22,112.32 669.37,113.58 667.10,114.70 C664.83,115.82 660.60,117.03 658.00,117.80 C655.40,118.57 652.58,119.05 651.50,119.30 L649.90,119.30 C648.82,119.05 646.00,118.57 643.40,117.80 C640.80,117.03 636.57,115.82 634.30,114.70 C632.03,113.58 630.18,112.32 629.80,111.10 C629.42,109.88 630.57,108.78 632.00,107.40 C633.43,106.02 636.27,104.47 638.40,102.80 C640.53,101.13 643.17,99.22 644.80,97.40 C646.43,95.58 647.50,93.43 648.20,91.90 C648.90,90.37 648.75,90.02 649.00,88.20 C649.25,86.38 649.47,83.03 649.70,81.00 C649.93,78.97 650.28,76.83 650.40,76.00 Z" fill="#b4c7e7" stroke="#222" stroke-width="0.8" stroke-linejoin="round"/>
<line x1="650.70" y1="22.70" x2="650.70" y2="119.00" stroke="#333" stroke-width="0.65" />
<path d="M651.00,76.00 C651.12,76.67 651.47,78.50 651.70,80.00 C651.93,81.50 652.47,83.58 652.40,85.00 C652.33,86.42 651.48,87.92 651.30,88.50 L650.10,88.50 C649.92,87.92 649.07,86.42 649.00,85.00 C648.93,83.58 649.47,81.50 649.70,80.00 C649.93,78.50 650.28,76.67 650.40,76.00 Z" fill="#222" stroke="#222" stroke-width="0.3" stroke-linejoin="round"/>
<rect x="648.05" y="103.40" width="5.90" height="10.40" fill="#c2e1ef" stroke="#262626" stroke-width="0.8" />
<line x1="648.05" y1="108.70" x2="653.95" y2="108.70" stroke="#262626" stroke-width="1.3" />
<circle cx="650.70" cy="22.70" r="1.0" fill="#222"/>
<circle cx="650.70" cy="52.00" r="1.0" fill="#222"/>
<circle cx="650.70" cy="66.00" r="1.0" fill="#222"/>
<circle cx="650.70" cy="68.30" r="1.0" fill="#222"/>
<circle cx="650.70" cy="73.00" r="1.0" fill="#222"/>
<text x="568.80" y="26.50" font-size="7.3" font-weight="bold" fill="#111" stroke="#111" stroke-width="0.15" textLength="53.40" lengthAdjust="spacingAndGlyphs" ><tspan font-style="italic">X</tspan><tspan font-size="4" dy="-2.6">2</tspan><tspan dy="2.6">=8.2, p=0.004</tspan></text>
<text x="587.20" y="133.70" font-size="7.2" font-weight="bold" fill="#111" stroke="#111" stroke-width="0.2" textLength="24.90" lengthAdjust="spacingAndGlyphs" >Normal</text>
<text x="624.80" y="133.70" font-size="7.2" font-weight="bold" fill="#111" stroke="#111" stroke-width="0.2" textLength="49.40" lengthAdjust="spacingAndGlyphs" ><tspan font-style="italic">RB1</tspan> alteration</text>
<text transform="translate(543.80,63.30) rotate(-90)" x="-21.90" y="0" font-size="7.0" font-weight="bold" fill="#111" stroke="#111" stroke-width="0.2" textLength="43.80" lengthAdjust="spacingAndGlyphs">Number of SV</text>
<line x1="46.60" y1="185.70" x2="46.60" y2="315.20" stroke="#1a1a1a" stroke-width="1.3" />
<line x1="46.60" y1="169.50" x2="46.60" y2="179.70" stroke="#1a1a1a" stroke-width="0.9" />
<line x1="41.90" y1="170.10" x2="47.10" y2="170.10" stroke="#1a1a1a" stroke-width="1.3" />
<line x1="43.10" y1="181.40" x2="51.10" y2="178.00" stroke="#1a1a1a" stroke-width="0.7" />
<line x1="43.10" y1="186.80" x2="51.10" y2="183.10" stroke="#1a1a1a" stroke-width="0.7" />
<rect x="27.80" y="180.00" width="3.20" height="2.90" fill="#555" stroke="none" stroke-width="1" />
<line x1="42.30" y1="314.80" x2="46.60" y2="314.80" stroke="#1a1a1a" stroke-width="1.3" />
<text x="37.50" y="319.70" font-size="14.2" font-weight="bold" fill="#484848" stroke="#484848" stroke-width="0.2" text-anchor="end" >0</text>
<line x1="42.30" y1="285.95" x2="46.60" y2="285.95" stroke="#1a1a1a" stroke-width="1.3" />
<text x="37.50" y="290.85" font-size="14.2" font-weight="bold" fill="#484848" stroke="#484848" stroke-width="0.2" text-anchor="end" >10</text>
<line x1="42.30" y1="257.10" x2="46.60" y2="257.10" stroke="#1a1a1a" stroke-width="1.3" />
<text x="37.50" y="262.00" font-size="14.2" font-weight="bold" fill="#484848" stroke="#484848" stroke-width="0.2" text-anchor="end" >20</text>
<line x1="42.30" y1="228.25" x2="46.60" y2="228.25" stroke="#1a1a1a" stroke-width="1.3" />
<text x="37.50" y="233.15" font-size="14.2" font-weight="bold" fill="#484848" stroke="#484848" stroke-width="0.2" text-anchor="end" >30</text>
<line x1="42.30" y1="199.40" x2="46.60" y2="199.40" stroke="#1a1a1a" stroke-width="1.3" />
<text x="37.50" y="204.30" font-size="14.2" font-weight="bold" fill="#484848" stroke="#484848" stroke-width="0.2" text-anchor="end" >40</text>
<text transform="translate(12.40,254.60) rotate(-90)" x="-43.60" y="0" font-size="9.8" font-weight="bold" fill="#111" stroke="#111" stroke-width="0.2" textLength="87.20" lengthAdjust="spacingAndGlyphs">Total translocation</text>
<circle cx="74.10" cy="314.80" r="1.27" fill="#2a6eb2"/>
<circle cx="76.30" cy="314.80" r="1.27" fill="#2a6eb2"/>
<circle cx="78.50" cy="314.80" r="1.27" fill="#2a6eb2"/>
<circle cx="80.70" cy="314.80" r="1.27" fill="#2a6eb2"/>
<circle cx="82.90" cy="314.80" r="1.27" fill="#2a6eb2"/>
<circle cx="85.10" cy="314.80" r="1.27" fill="#2a6eb2"/>
<circle cx="87.30" cy="314.80" r="1.27" fill="#2a6eb2"/>
<circle cx="89.50" cy="314.80" r="1.27" fill="#2a6eb2"/>
<circle cx="91.70" cy="314.80" r="1.27" fill="#2a6eb2"/>
<circle cx="93.90" cy="314.80" r="1.27" fill="#2a6eb2"/>
<circle cx="96.10" cy="314.80" r="1.27" fill="#2a6eb2"/>
<circle cx="101.20" cy="314.80" r="1.27" fill="#2a6eb2"/>
<circle cx="103.36" cy="314.80" r="1.27" fill="#2a6eb2"/>
<circle cx="105.51" cy="314.80" r="1.27" fill="#2a6eb2"/>
<circle cx="107.67" cy="314.80" r="1.27" fill="#2a6eb2"/>
<circle cx="109.82" cy="314.80" r="1.27" fill="#2a6eb2"/>
<circle cx="111.98" cy="314.80" r="1.27" fill="#2a6eb2"/>
<circle cx="114.13" cy="314.80" r="1.27" fill="#2a6eb2"/>
<circle cx="116.29" cy="314.80" r="1.27" fill="#2a6eb2"/>
<circle cx="118.44" cy="314.80" r="1.27" fill="#2a6eb2"/>
<circle cx="120.60" cy="314.80" r="1.27" fill="#2a6eb2"/>
<circle cx="121.50" cy="314.80" r="1.27" fill="#a6c8e6"/>
<circle cx="123.56" cy="314.80" r="1.27" fill="#a6c8e6"/>
<circle cx="125.61" cy="314.80" r="1.27" fill="#a6c8e6"/>
<circle cx="127.67" cy="314.80" r="1.27" fill="#a6c8e6"/>
<circle cx="129.72" cy="314.80" r="1.27" fill="#a6c8e6"/>
<circle cx="131.78" cy="314.80" r="1.27" fill="#a6c8e6"/>
<circle cx="133.83" cy="314.80" r="1.27" fill="#a6c8e6"/>
<circle cx="135.89" cy="314.80" r="1.27" fill="#a6c8e6"/>
<circle cx="137.94" cy="314.80" r="1.27" fill="#a6c8e6"/>
<circle cx="140.00" cy="314.80" r="1.27" fill="#a6c8e6"/>
<circle cx="75.60" cy="311.92" r="1.27" fill="#2a6eb2"/>
<circle cx="79.70" cy="311.92" r="1.27" fill="#2a6eb2"/>
<circle cx="81.67" cy="311.92" r="1.27" fill="#2a6eb2"/>
<circle cx="83.65" cy="311.92" r="1.27" fill="#2a6eb2"/>
<circle cx="85.62" cy="311.92" r="1.27" fill="#2a6eb2"/>
<circle cx="87.60" cy="311.92" r="1.27" fill="#2a6eb2"/>
<circle cx="89.58" cy="311.92" r="1.27" fill="#2a6eb2"/>
<circle cx="91.55" cy="311.92" r="1.27" fill="#2a6eb2"/>
<circle cx="93.53" cy="311.92" r="1.27" fill="#2a6eb2"/>
<circle cx="95.50" cy="311.92" r="1.27" fill="#2a6eb2"/>
<circle cx="101.20" cy="311.92" r="1.27" fill="#2a6eb2"/>
<circle cx="103.29" cy="311.92" r="1.27" fill="#2a6eb2"/>
<circle cx="105.38" cy="311.92" r="1.27" fill="#2a6eb2"/>
<circle cx="107.47" cy="311.92" r="1.27" fill="#2a6eb2"/>
<circle cx="109.56" cy="311.92" r="1.27" fill="#2a6eb2"/>
<circle cx="111.64" cy="311.92" r="1.27" fill="#2a6eb2"/>
<circle cx="113.73" cy="311.92" r="1.27" fill="#2a6eb2"/>
<circle cx="115.82" cy="311.92" r="1.27" fill="#2a6eb2"/>
<circle cx="117.91" cy="311.92" r="1.27" fill="#2a6eb2"/>
<circle cx="120.00" cy="311.92" r="1.27" fill="#2a6eb2"/>
<circle cx="121.50" cy="311.92" r="1.27" fill="#a6c8e6"/>
<circle cx="123.56" cy="311.92" r="1.27" fill="#a6c8e6"/>
<circle cx="125.61" cy="311.92" r="1.27" fill="#a6c8e6"/>
<circle cx="127.67" cy="311.92" r="1.27" fill="#a6c8e6"/>
<circle cx="129.72" cy="311.92" r="1.27" fill="#a6c8e6"/>
<circle cx="131.78" cy="311.92" r="1.27" fill="#a6c8e6"/>
<circle cx="133.83" cy="311.92" r="1.27" fill="#a6c8e6"/>
<circle cx="135.89" cy="311.92" r="1.27" fill="#a6c8e6"/>
<circle cx="137.94" cy="311.92" r="1.27" fill="#a6c8e6"/>
<circle cx="140.00" cy="311.92" r="1.27" fill="#a6c8e6"/>
<circle cx="74.10" cy="309.03" r="1.27" fill="#2a6eb2"/>
<circle cx="76.14" cy="309.03" r="1.27" fill="#2a6eb2"/>
<circle cx="78.18" cy="309.03" r="1.27" fill="#2a6eb2"/>
<circle cx="80.22" cy="309.03" r="1.27" fill="#2a6eb2"/>
<circle cx="82.26" cy="309.03" r="1.27" fill="#2a6eb2"/>
<circle cx="84.30" cy="309.03" r="1.27" fill="#2a6eb2"/>
<circle cx="85.80" cy="309.03" r="1.27" fill="#2a6eb2"/>
<circle cx="87.90" cy="309.03" r="1.27" fill="#2a6eb2"/>
<circle cx="89.40" cy="309.03" r="1.27" fill="#2a6eb2"/>
<circle cx="91.00" cy="309.03" r="1.27" fill="#2a6eb2"/>
<circle cx="94.00" cy="309.03" r="1.27" fill="#2a6eb2"/>
<circle cx="95.50" cy="309.03" r="1.27" fill="#2a6eb2"/>
<circle cx="102.70" cy="309.03" r="1.27" fill="#2a6eb2"/>
<circle cx="104.74" cy="309.03" r="1.27" fill="#2a6eb2"/>
<circle cx="106.79" cy="309.03" r="1.27" fill="#2a6eb2"/>
<circle cx="108.83" cy="309.03" r="1.27" fill="#2a6eb2"/>
<circle cx="110.87" cy="309.03" r="1.27" fill="#2a6eb2"/>
<circle cx="112.91" cy="309.03" r="1.27" fill="#2a6eb2"/>
<circle cx="114.96" cy="309.03" r="1.27" fill="#2a6eb2"/>
<circle cx="117.00" cy="309.03" r="1.27" fill="#2a6eb2"/>
<circle cx="122.00" cy="309.03" r="1.27" fill="#a6c8e6"/>
<circle cx="124.00" cy="309.03" r="1.27" fill="#a6c8e6"/>
<circle cx="126.00" cy="309.03" r="1.27" fill="#a6c8e6"/>
<circle cx="128.00" cy="309.03" r="1.27" fill="#a6c8e6"/>
<circle cx="130.00" cy="309.03" r="1.27" fill="#a6c8e6"/>
<circle cx="132.00" cy="309.03" r="1.27" fill="#a6c8e6"/>
<circle cx="134.00" cy="309.03" r="1.27" fill="#a6c8e6"/>
<circle cx="136.00" cy="309.03" r="1.27" fill="#a6c8e6"/>
<circle cx="138.00" cy="309.03" r="1.27" fill="#a6c8e6"/>
<circle cx="140.00" cy="309.03" r="1.27" fill="#a6c8e6"/>
<circle cx="76.60" cy="306.15" r="1.27" fill="#2a6eb2"/>
<circle cx="78.54" cy="306.15" r="1.27" fill="#2a6eb2"/>
<circle cx="80.48" cy="306.15" r="1.27" fill="#2a6eb2"/>
<circle cx="82.42" cy="306.15" r="1.27" fill="#2a6eb2"/>
<circle cx="84.36" cy="306.15" r="1.27" fill="#2a6eb2"/>
<circle cx="86.30" cy="306.15" r="1.27" fill="#2a6eb2"/>
<circle cx="91.00" cy="306.15" r="1.27" fill="#2a6eb2"/>
<circle cx="94.50" cy="306.15" r="1.27" fill="#2a6eb2"/>
<circle cx="104.70" cy="306.15" r="1.27" fill="#2a6eb2"/>
<circle cx="107.80" cy="306.15" r="1.27" fill="#2a6eb2"/>
<circle cx="109.90" cy="306.15" r="1.27" fill="#2a6eb2"/>
<circle cx="112.45" cy="306.15" r="1.27" fill="#2a6eb2"/>
<circle cx="115.00" cy="306.15" r="1.27" fill="#2a6eb2"/>
<circle cx="119.00" cy="306.15" r="1.27" fill="#2a6eb2"/>
<circle cx="124.20" cy="306.15" r="1.27" fill="#a6c8e6"/>
<circle cx="126.44" cy="306.15" r="1.27" fill="#a6c8e6"/>
<circle cx="128.68" cy="306.15" r="1.27" fill="#a6c8e6"/>
<circle cx="130.92" cy="306.15" r="1.27" fill="#a6c8e6"/>
<circle cx="133.16" cy="306.15" r="1.27" fill="#a6c8e6"/>
<circle cx="135.40" cy="306.15" r="1.27" fill="#a6c8e6"/>
<circle cx="76.00" cy="303.26" r="1.27" fill="#2a6eb2"/>
<circle cx="78.33" cy="303.26" r="1.27" fill="#2a6eb2"/>
<circle cx="80.65" cy="303.26" r="1.27" fill="#2a6eb2"/>
<circle cx="82.97" cy="303.26" r="1.27" fill="#2a6eb2"/>
<circle cx="85.30" cy="303.26" r="1.27" fill="#2a6eb2"/>
<circle cx="88.40" cy="303.26" r="1.27" fill="#2a6eb2"/>
<circle cx="93.50" cy="303.26" r="1.27" fill="#2a6eb2"/>
<circle cx="95.50" cy="303.26" r="1.27" fill="#2a6eb2"/>
<circle cx="101.70" cy="303.26" r="1.27" fill="#2a6eb2"/>
<circle cx="111.90" cy="303.26" r="1.27" fill="#2a6eb2"/>
<circle cx="117.50" cy="303.26" r="1.27" fill="#2a6eb2"/>
<circle cx="123.00" cy="303.26" r="1.27" fill="#a6c8e6"/>
<circle cx="124.60" cy="303.26" r="1.27" fill="#a6c8e6"/>
<circle cx="126.20" cy="303.26" r="1.27" fill="#a6c8e6"/>
<circle cx="130.30" cy="303.26" r="1.27" fill="#a6c8e6"/>
<circle cx="134.40" cy="303.26" r="1.27" fill="#a6c8e6"/>
<circle cx="76.10" cy="300.38" r="1.27" fill="#2a6eb2"/>
<circle cx="78.36" cy="300.38" r="1.27" fill="#2a6eb2"/>
<circle cx="80.62" cy="300.38" r="1.27" fill="#2a6eb2"/>
<circle cx="82.88" cy="300.38" r="1.27" fill="#2a6eb2"/>
<circle cx="85.14" cy="300.38" r="1.27" fill="#2a6eb2"/>
<circle cx="87.40" cy="300.38" r="1.27" fill="#2a6eb2"/>
<circle cx="95.50" cy="300.38" r="1.27" fill="#2a6eb2"/>
<circle cx="104.20" cy="300.38" r="1.27" fill="#2a6eb2"/>
<circle cx="111.90" cy="300.38" r="1.27" fill="#2a6eb2"/>
<circle cx="117.00" cy="300.38" r="1.27" fill="#2a6eb2"/>
<circle cx="95.00" cy="297.49" r="1.27" fill="#2a6eb2"/>
<circle cx="102.70" cy="297.49" r="1.27" fill="#2a6eb2"/>
<circle cx="114.50" cy="297.49" r="1.27" fill="#2a6eb2"/>
<circle cx="117.00" cy="297.49" r="1.27" fill="#2a6eb2"/>
<circle cx="119.00" cy="297.49" r="1.27" fill="#2a6eb2"/>
<circle cx="123.10" cy="297.49" r="1.27" fill="#a6c8e6"/>
<circle cx="126.70" cy="297.49" r="1.27" fill="#a6c8e6"/>
<circle cx="133.90" cy="297.49" r="1.27" fill="#a6c8e6"/>
<circle cx="137.40" cy="297.49" r="1.27" fill="#a6c8e6"/>
<circle cx="82.30" cy="294.61" r="1.27" fill="#2a6eb2"/>
<circle cx="88.90" cy="294.61" r="1.27" fill="#2a6eb2"/>
<circle cx="104.70" cy="294.61" r="1.27" fill="#2a6eb2"/>
<circle cx="107.80" cy="294.61" r="1.27" fill="#2a6eb2"/>
<circle cx="110.90" cy="294.61" r="1.27" fill="#2a6eb2"/>
<circle cx="84.80" cy="291.72" r="1.27" fill="#2a6eb2"/>
<circle cx="92.00" cy="291.72" r="1.27" fill="#2a6eb2"/>
<circle cx="96.60" cy="291.72" r="1.27" fill="#2a6eb2"/>
<circle cx="99.10" cy="291.72" r="1.27" fill="#2a6eb2"/>
<circle cx="111.90" cy="291.72" r="1.27" fill="#2a6eb2"/>
<circle cx="86.30" cy="288.84" r="1.27" fill="#2a6eb2"/>
<circle cx="88.40" cy="288.84" r="1.27" fill="#2a6eb2"/>
<circle cx="93.00" cy="288.84" r="1.27" fill="#2a6eb2"/>
<circle cx="102.70" cy="288.84" r="1.27" fill="#2a6eb2"/>
<circle cx="131.30" cy="288.84" r="1.27" fill="#a6c8e6"/>
<circle cx="134.40" cy="288.84" r="1.27" fill="#a6c8e6"/>
<circle cx="93.70" cy="285.95" r="1.27" fill="#2a6eb2"/>
<circle cx="75.60" cy="283.06" r="1.27" fill="#2a6eb2"/>
<circle cx="109.30" cy="280.18" r="1.27" fill="#2a6eb2"/>
<circle cx="102.20" cy="277.30" r="1.27" fill="#2a6eb2"/>
<circle cx="105.80" cy="277.30" r="1.27" fill="#2a6eb2"/>
<circle cx="132.80" cy="277.30" r="1.27" fill="#a6c8e6"/>
<circle cx="118.00" cy="268.64" r="1.27" fill="#2a6eb2"/>
<circle cx="140.00" cy="314.80" r="1.27" fill="#a6c8e6"/>
<circle cx="142.12" cy="314.80" r="1.27" fill="#a6c8e6"/>
<circle cx="144.25" cy="314.80" r="1.27" fill="#a6c8e6"/>
<circle cx="146.38" cy="314.80" r="1.27" fill="#a6c8e6"/>
<circle cx="148.50" cy="314.80" r="1.27" fill="#a6c8e6"/>
<circle cx="150.62" cy="314.80" r="1.27" fill="#a6c8e6"/>
<circle cx="152.75" cy="314.80" r="1.27" fill="#a6c8e6"/>
<circle cx="154.88" cy="314.80" r="1.27" fill="#a6c8e6"/>
<circle cx="157.00" cy="314.80" r="1.27" fill="#a6c8e6"/>
<circle cx="159.12" cy="314.80" r="1.27" fill="#a6c8e6"/>
<circle cx="161.25" cy="314.80" r="1.27" fill="#a6c8e6"/>
<circle cx="163.38" cy="314.80" r="1.27" fill="#a6c8e6"/>
<circle cx="165.50" cy="314.80" r="1.27" fill="#a6c8e6"/>
<circle cx="166.00" cy="314.80" r="1.27" fill="#2a6eb2"/>
<circle cx="167.96" cy="314.80" r="1.27" fill="#2a6eb2"/>
<circle cx="169.92" cy="314.80" r="1.27" fill="#2a6eb2"/>
<circle cx="171.88" cy="314.80" r="1.27" fill="#2a6eb2"/>
<circle cx="173.84" cy="314.80" r="1.27" fill="#2a6eb2"/>
<circle cx="175.80" cy="314.80" r="1.27" fill="#2a6eb2"/>
<circle cx="178.30" cy="314.80" r="1.27" fill="#2a6eb2"/>
<circle cx="180.90" cy="314.80" r="1.27" fill="#2a6eb2"/>
<circle cx="183.40" cy="314.80" r="1.27" fill="#2a6eb2"/>
<circle cx="185.56" cy="314.80" r="1.27" fill="#2a6eb2"/>
<circle cx="187.71" cy="314.80" r="1.27" fill="#2a6eb2"/>
<circle cx="189.87" cy="314.80" r="1.27" fill="#2a6eb2"/>
<circle cx="192.02" cy="314.80" r="1.27" fill="#2a6eb2"/>
<circle cx="194.18" cy="314.80" r="1.27" fill="#2a6eb2"/>
<circle cx="196.33" cy="314.80" r="1.27" fill="#2a6eb2"/>
<circle cx="198.49" cy="314.80" r="1.27" fill="#2a6eb2"/>
<circle cx="200.64" cy="314.80" r="1.27" fill="#2a6eb2"/>
<circle cx="202.80" cy="314.80" r="1.27" fill="#2a6eb2"/>
<circle cx="203.80" cy="314.80" r="1.27" fill="#a6c8e6"/>
<circle cx="205.87" cy="314.80" r="1.27" fill="#a6c8e6"/>
<circle cx="207.93" cy="314.80" r="1.27" fill="#a6c8e6"/>
<circle cx="210.00" cy="314.80" r="1.27" fill="#a6c8e6"/>
<circle cx="140.00" cy="311.92" r="1.27" fill="#a6c8e6"/>
<circle cx="142.00" cy="311.92" r="1.27" fill="#a6c8e6"/>
<circle cx="144.00" cy="311.92" r="1.27" fill="#a6c8e6"/>
<circle cx="146.00" cy="311.92" r="1.27" fill="#a6c8e6"/>
<circle cx="148.00" cy="311.92" r="1.27" fill="#a6c8e6"/>
<circle cx="150.19" cy="311.92" r="1.27" fill="#a6c8e6"/>
<circle cx="152.38" cy="311.92" r="1.27" fill="#a6c8e6"/>
<circle cx="154.56" cy="311.92" r="1.27" fill="#a6c8e6"/>
<circle cx="156.75" cy="311.92" r="1.27" fill="#a6c8e6"/>
<circle cx="158.94" cy="311.92" r="1.27" fill="#a6c8e6"/>
<circle cx="161.12" cy="311.92" r="1.27" fill="#a6c8e6"/>
<circle cx="163.31" cy="311.92" r="1.27" fill="#a6c8e6"/>
<circle cx="165.50" cy="311.92" r="1.27" fill="#a6c8e6"/>
<circle cx="166.00" cy="311.92" r="1.27" fill="#2a6eb2"/>
<circle cx="168.13" cy="311.92" r="1.27" fill="#2a6eb2"/>
<circle cx="170.27" cy="311.92" r="1.27" fill="#2a6eb2"/>
<circle cx="172.40" cy="311.92" r="1.27" fill="#2a6eb2"/>
<circle cx="174.53" cy="311.92" r="1.27" fill="#2a6eb2"/>
<circle cx="176.67" cy="311.92" r="1.27" fill="#2a6eb2"/>
<circle cx="178.80" cy="311.92" r="1.27" fill="#2a6eb2"/>
<circle cx="183.40" cy="311.92" r="1.27" fill="#2a6eb2"/>
<circle cx="185.56" cy="311.92" r="1.27" fill="#2a6eb2"/>
<circle cx="187.71" cy="311.92" r="1.27" fill="#2a6eb2"/>
<circle cx="189.87" cy="311.92" r="1.27" fill="#2a6eb2"/>
<circle cx="192.02" cy="311.92" r="1.27" fill="#2a6eb2"/>
<circle cx="194.18" cy="311.92" r="1.27" fill="#2a6eb2"/>
<circle cx="196.33" cy="311.92" r="1.27" fill="#2a6eb2"/>
<circle cx="198.49" cy="311.92" r="1.27" fill="#2a6eb2"/>
<circle cx="200.64" cy="311.92" r="1.27" fill="#2a6eb2"/>
<circle cx="202.80" cy="311.92" r="1.27" fill="#2a6eb2"/>
<circle cx="203.80" cy="311.92" r="1.27" fill="#a6c8e6"/>
<circle cx="205.87" cy="311.92" r="1.27" fill="#a6c8e6"/>
<circle cx="207.93" cy="311.92" r="1.27" fill="#a6c8e6"/>
<circle cx="210.00" cy="311.92" r="1.27" fill="#a6c8e6"/>
<circle cx="140.00" cy="309.03" r="1.27" fill="#a6c8e6"/>
<circle cx="142.33" cy="309.03" r="1.27" fill="#a6c8e6"/>
<circle cx="144.67" cy="309.03" r="1.27" fill="#a6c8e6"/>
<circle cx="147.00" cy="309.03" r="1.27" fill="#a6c8e6"/>
<circle cx="149.00" cy="309.03" r="1.27" fill="#a6c8e6"/>
<circle cx="151.00" cy="309.03" r="1.27" fill="#a6c8e6"/>
<circle cx="153.00" cy="309.03" r="1.27" fill="#a6c8e6"/>
<circle cx="155.00" cy="309.03" r="1.27" fill="#a6c8e6"/>
<circle cx="157.00" cy="309.03" r="1.27" fill="#a6c8e6"/>
<circle cx="160.00" cy="309.03" r="1.27" fill="#a6c8e6"/>
<circle cx="161.83" cy="309.03" r="1.27" fill="#a6c8e6"/>
<circle cx="163.67" cy="309.03" r="1.27" fill="#a6c8e6"/>
<circle cx="165.50" cy="309.03" r="1.27" fill="#a6c8e6"/>
<circle cx="166.60" cy="309.03" r="1.27" fill="#2a6eb2"/>
<circle cx="168.73" cy="309.03" r="1.27" fill="#2a6eb2"/>
<circle cx="170.86" cy="309.03" r="1.27" fill="#2a6eb2"/>
<circle cx="172.99" cy="309.03" r="1.27" fill="#2a6eb2"/>
<circle cx="175.12" cy="309.03" r="1.27" fill="#2a6eb2"/>
<circle cx="177.25" cy="309.03" r="1.27" fill="#2a6eb2"/>
<circle cx="179.38" cy="309.03" r="1.27" fill="#2a6eb2"/>
<circle cx="181.51" cy="309.03" r="1.27" fill="#2a6eb2"/>
<circle cx="183.64" cy="309.03" r="1.27" fill="#2a6eb2"/>
<circle cx="185.76" cy="309.03" r="1.27" fill="#2a6eb2"/>
<circle cx="187.89" cy="309.03" r="1.27" fill="#2a6eb2"/>
<circle cx="190.02" cy="309.03" r="1.27" fill="#2a6eb2"/>
<circle cx="192.15" cy="309.03" r="1.27" fill="#2a6eb2"/>
<circle cx="194.28" cy="309.03" r="1.27" fill="#2a6eb2"/>
<circle cx="196.41" cy="309.03" r="1.27" fill="#2a6eb2"/>
<circle cx="198.54" cy="309.03" r="1.27" fill="#2a6eb2"/>
<circle cx="200.67" cy="309.03" r="1.27" fill="#2a6eb2"/>
<circle cx="202.80" cy="309.03" r="1.27" fill="#2a6eb2"/>
<circle cx="203.80" cy="309.03" r="1.27" fill="#a6c8e6"/>
<circle cx="205.87" cy="309.03" r="1.27" fill="#a6c8e6"/>
<circle cx="207.93" cy="309.03" r="1.27" fill="#a6c8e6"/>
<circle cx="210.00" cy="309.03" r="1.27" fill="#a6c8e6"/>
<circle cx="144.00" cy="306.15" r="1.27" fill="#a6c8e6"/>
<circle cx="146.25" cy="306.15" r="1.27" fill="#a6c8e6"/>
<circle cx="148.50" cy="306.15" r="1.27" fill="#a6c8e6"/>
<circle cx="150.75" cy="306.15" r="1.27" fill="#a6c8e6"/>
<circle cx="153.00" cy="306.15" r="1.27" fill="#a6c8e6"/>
<circle cx="157.40" cy="306.15" r="1.27" fill="#a6c8e6"/>
<circle cx="159.77" cy="306.15" r="1.27" fill="#a6c8e6"/>
<circle cx="162.13" cy="306.15" r="1.27" fill="#a6c8e6"/>
<circle cx="164.50" cy="306.15" r="1.27" fill="#a6c8e6"/>
<circle cx="167.60" cy="306.15" r="1.27" fill="#2a6eb2"/>
<circle cx="170.10" cy="306.15" r="1.27" fill="#2a6eb2"/>
<circle cx="180.00" cy="306.15" r="1.27" fill="#2a6eb2"/>
<circle cx="185.00" cy="306.15" r="1.27" fill="#2a6eb2"/>
<circle cx="187.15" cy="306.15" r="1.27" fill="#2a6eb2"/>
<circle cx="189.30" cy="306.15" r="1.27" fill="#2a6eb2"/>
<circle cx="191.45" cy="306.15" r="1.27" fill="#2a6eb2"/>
<circle cx="193.60" cy="306.15" r="1.27" fill="#2a6eb2"/>
<circle cx="199.30" cy="306.15" r="1.27" fill="#2a6eb2"/>
<circle cx="201.05" cy="306.15" r="1.27" fill="#2a6eb2"/>
<circle cx="202.80" cy="306.15" r="1.27" fill="#2a6eb2"/>
<circle cx="206.40" cy="306.15" r="1.27" fill="#a6c8e6"/>
<circle cx="208.00" cy="306.15" r="1.27" fill="#a6c8e6"/>
<circle cx="141.00" cy="303.26" r="1.27" fill="#a6c8e6"/>
<circle cx="143.00" cy="303.26" r="1.27" fill="#a6c8e6"/>
<circle cx="145.00" cy="303.26" r="1.27" fill="#a6c8e6"/>
<circle cx="147.00" cy="303.26" r="1.27" fill="#a6c8e6"/>
<circle cx="149.70" cy="303.26" r="1.27" fill="#a6c8e6"/>
<circle cx="154.30" cy="303.26" r="1.27" fill="#a6c8e6"/>
<circle cx="156.85" cy="303.26" r="1.27" fill="#a6c8e6"/>
<circle cx="159.40" cy="303.26" r="1.27" fill="#a6c8e6"/>
<circle cx="163.00" cy="303.26" r="1.27" fill="#a6c8e6"/>
<circle cx="165.00" cy="303.26" r="1.27" fill="#a6c8e6"/>
<circle cx="168.10" cy="303.26" r="1.27" fill="#2a6eb2"/>
<circle cx="170.40" cy="303.26" r="1.27" fill="#2a6eb2"/>
<circle cx="172.70" cy="303.26" r="1.27" fill="#2a6eb2"/>
<circle cx="185.00" cy="303.26" r="1.27" fill="#2a6eb2"/>
<circle cx="192.10" cy="303.26" r="1.27" fill="#2a6eb2"/>
<circle cx="193.90" cy="303.26" r="1.27" fill="#2a6eb2"/>
<circle cx="195.70" cy="303.26" r="1.27" fill="#2a6eb2"/>
<circle cx="198.20" cy="303.26" r="1.27" fill="#2a6eb2"/>
<circle cx="202.80" cy="303.26" r="1.27" fill="#2a6eb2"/>
<circle cx="205.40" cy="303.26" r="1.27" fill="#a6c8e6"/>
<circle cx="142.60" cy="300.38" r="1.27" fill="#a6c8e6"/>
<circle cx="144.90" cy="300.38" r="1.27" fill="#a6c8e6"/>
<circle cx="147.20" cy="300.38" r="1.27" fill="#a6c8e6"/>
<circle cx="152.30" cy="300.38" r="1.27" fill="#a6c8e6"/>
<circle cx="161.50" cy="300.38" r="1.27" fill="#a6c8e6"/>
<circle cx="164.50" cy="300.38" r="1.27" fill="#a6c8e6"/>
<circle cx="166.60" cy="300.38" r="1.27" fill="#2a6eb2"/>
<circle cx="168.90" cy="300.38" r="1.27" fill="#2a6eb2"/>
<circle cx="171.20" cy="300.38" r="1.27" fill="#2a6eb2"/>
<circle cx="176.80" cy="300.38" r="1.27" fill="#2a6eb2"/>
<circle cx="191.10" cy="300.38" r="1.27" fill="#2a6eb2"/>
<circle cx="196.20" cy="300.38" r="1.27" fill="#2a6eb2"/>
<circle cx="198.23" cy="300.38" r="1.27" fill="#2a6eb2"/>
<circle cx="200.27" cy="300.38" r="1.27" fill="#2a6eb2"/>
<circle cx="202.30" cy="300.38" r="1.27" fill="#2a6eb2"/>
<circle cx="204.40" cy="300.38" r="1.27" fill="#a6c8e6"/>
<circle cx="207.40" cy="300.38" r="1.27" fill="#a6c8e6"/>
<circle cx="163.00" cy="297.49" r="1.27" fill="#a6c8e6"/>
<circle cx="166.60" cy="297.49" r="1.27" fill="#2a6eb2"/>
<circle cx="173.70" cy="297.49" r="1.27" fill="#2a6eb2"/>
<circle cx="197.20" cy="297.49" r="1.27" fill="#2a6eb2"/>
<circle cx="147.20" cy="294.61" r="1.27" fill="#a6c8e6"/>
<circle cx="160.50" cy="294.61" r="1.27" fill="#a6c8e6"/>
<circle cx="171.20" cy="294.61" r="1.27" fill="#2a6eb2"/>
<circle cx="178.80" cy="294.61" r="1.27" fill="#2a6eb2"/>
<circle cx="191.60" cy="294.61" r="1.27" fill="#2a6eb2"/>
<circle cx="193.80" cy="294.61" r="1.27" fill="#2a6eb2"/>
<circle cx="196.00" cy="294.61" r="1.27" fill="#2a6eb2"/>
<circle cx="198.20" cy="294.61" r="1.27" fill="#2a6eb2"/>
<circle cx="201.80" cy="294.61" r="1.27" fill="#2a6eb2"/>
<circle cx="205.90" cy="294.61" r="1.27" fill="#a6c8e6"/>
<circle cx="192.60" cy="291.72" r="1.27" fill="#2a6eb2"/>
<circle cx="148.20" cy="288.84" r="1.27" fill="#a6c8e6"/>
<circle cx="153.10" cy="288.84" r="1.27" fill="#a6c8e6"/>
<circle cx="164.30" cy="285.95" r="1.27" fill="#a6c8e6"/>
<circle cx="175.30" cy="268.64" r="1.27" fill="#2a6eb2"/>
<circle cx="178.60" cy="271.53" r="1.27" fill="#2a6eb2"/>
<circle cx="186.80" cy="277.30" r="1.27" fill="#2a6eb2"/>
<circle cx="189.60" cy="280.18" r="1.27" fill="#2a6eb2"/>
<circle cx="183.00" cy="285.95" r="1.27" fill="#2a6eb2"/>
<circle cx="184.50" cy="285.95" r="1.27" fill="#2a6eb2"/>
<circle cx="198.00" cy="285.95" r="1.27" fill="#2a6eb2"/>
<circle cx="198.80" cy="283.06" r="1.27" fill="#2a6eb2"/>
<circle cx="142.60" cy="277.30" r="1.27" fill="#a6c8e6"/>
<circle cx="206.40" cy="277.30" r="1.27" fill="#a6c8e6"/>
<circle cx="213.50" cy="314.80" r="1.27" fill="#a6c8e6"/>
<circle cx="217.20" cy="314.80" r="1.27" fill="#a6c8e6"/>
<circle cx="219.29" cy="314.80" r="1.27" fill="#a6c8e6"/>
<circle cx="221.38" cy="314.80" r="1.27" fill="#a6c8e6"/>
<circle cx="223.47" cy="314.80" r="1.27" fill="#a6c8e6"/>
<circle cx="225.56" cy="314.80" r="1.27" fill="#a6c8e6"/>
<circle cx="227.65" cy="314.80" r="1.27" fill="#a6c8e6"/>
<circle cx="229.74" cy="314.80" r="1.27" fill="#a6c8e6"/>
<circle cx="231.83" cy="314.80" r="1.27" fill="#a6c8e6"/>
<circle cx="233.92" cy="314.80" r="1.27" fill="#a6c8e6"/>
<circle cx="236.01" cy="314.80" r="1.27" fill="#a6c8e6"/>
<circle cx="238.10" cy="314.80" r="1.27" fill="#a6c8e6"/>
<circle cx="239.10" cy="314.80" r="1.27" fill="#2a6eb2"/>
<circle cx="241.17" cy="314.80" r="1.27" fill="#2a6eb2"/>
<circle cx="243.25" cy="314.80" r="1.27" fill="#2a6eb2"/>
<circle cx="245.32" cy="314.80" r="1.27" fill="#2a6eb2"/>
<circle cx="247.40" cy="314.80" r="1.27" fill="#2a6eb2"/>
<circle cx="249.47" cy="314.80" r="1.27" fill="#2a6eb2"/>
<circle cx="251.55" cy="314.80" r="1.27" fill="#2a6eb2"/>
<circle cx="253.62" cy="314.80" r="1.27" fill="#2a6eb2"/>
<circle cx="255.70" cy="314.80" r="1.27" fill="#2a6eb2"/>
<circle cx="257.77" cy="314.80" r="1.27" fill="#2a6eb2"/>
<circle cx="259.85" cy="314.80" r="1.27" fill="#2a6eb2"/>
<circle cx="261.93" cy="314.80" r="1.27" fill="#2a6eb2"/>
<circle cx="264.00" cy="314.80" r="1.27" fill="#2a6eb2"/>
<circle cx="266.07" cy="314.80" r="1.27" fill="#2a6eb2"/>
<circle cx="268.15" cy="314.80" r="1.27" fill="#2a6eb2"/>
<circle cx="270.23" cy="314.80" r="1.27" fill="#2a6eb2"/>
<circle cx="272.30" cy="314.80" r="1.27" fill="#2a6eb2"/>
<circle cx="273.30" cy="314.80" r="1.27" fill="#a6c8e6"/>
<circle cx="275.53" cy="314.80" r="1.27" fill="#a6c8e6"/>
<circle cx="277.77" cy="314.80" r="1.27" fill="#a6c8e6"/>
<circle cx="280.00" cy="314.80" r="1.27" fill="#a6c8e6"/>
<circle cx="210.00" cy="311.92" r="1.27" fill="#a6c8e6"/>
<circle cx="212.30" cy="311.92" r="1.27" fill="#a6c8e6"/>
<circle cx="214.60" cy="311.92" r="1.27" fill="#a6c8e6"/>
<circle cx="217.20" cy="311.92" r="1.27" fill="#a6c8e6"/>
<circle cx="219.34" cy="311.92" r="1.27" fill="#a6c8e6"/>
<circle cx="221.48" cy="311.92" r="1.27" fill="#a6c8e6"/>
<circle cx="223.62" cy="311.92" r="1.27" fill="#a6c8e6"/>
<circle cx="225.76" cy="311.92" r="1.27" fill="#a6c8e6"/>
<circle cx="227.90" cy="311.92" r="1.27" fill="#a6c8e6"/>
<circle cx="230.04" cy="311.92" r="1.27" fill="#a6c8e6"/>
<circle cx="232.18" cy="311.92" r="1.27" fill="#a6c8e6"/>
<circle cx="234.32" cy="311.92" r="1.27" fill="#a6c8e6"/>
<circle cx="236.46" cy="311.92" r="1.27" fill="#a6c8e6"/>
<circle cx="238.60" cy="311.92" r="1.27" fill="#a6c8e6"/>
<circle cx="239.10" cy="311.92" r="1.27" fill="#2a6eb2"/>
<circle cx="241.03" cy="311.92" r="1.27" fill="#2a6eb2"/>
<circle cx="242.95" cy="311.92" r="1.27" fill="#2a6eb2"/>
<circle cx="244.88" cy="311.92" r="1.27" fill="#2a6eb2"/>
<circle cx="246.80" cy="311.92" r="1.27" fill="#2a6eb2"/>
<circle cx="249.90" cy="311.92" r="1.27" fill="#2a6eb2"/>
<circle cx="251.65" cy="311.92" r="1.27" fill="#2a6eb2"/>
<circle cx="253.40" cy="311.92" r="1.27" fill="#2a6eb2"/>
<circle cx="256.50" cy="311.92" r="1.27" fill="#2a6eb2"/>
<circle cx="258.63" cy="311.92" r="1.27" fill="#2a6eb2"/>
<circle cx="260.77" cy="311.92" r="1.27" fill="#2a6eb2"/>
<circle cx="262.90" cy="311.92" r="1.27" fill="#2a6eb2"/>
<circle cx="265.03" cy="311.92" r="1.27" fill="#2a6eb2"/>
<circle cx="267.17" cy="311.92" r="1.27" fill="#2a6eb2"/>
<circle cx="269.30" cy="311.92" r="1.27" fill="#2a6eb2"/>
<circle cx="270.30" cy="311.92" r="1.27" fill="#2a6eb2"/>
<circle cx="272.30" cy="311.92" r="1.27" fill="#2a6eb2"/>
<circle cx="275.40" cy="311.92" r="1.27" fill="#a6c8e6"/>
<circle cx="277.70" cy="311.92" r="1.27" fill="#a6c8e6"/>
<circle cx="280.00" cy="311.92" r="1.27" fill="#a6c8e6"/>
<circle cx="211.50" cy="309.03" r="1.27" fill="#a6c8e6"/>
<circle cx="213.80" cy="309.03" r="1.27" fill="#a6c8e6"/>
<circle cx="216.10" cy="309.03" r="1.27" fill="#a6c8e6"/>
<circle cx="218.40" cy="309.03" r="1.27" fill="#a6c8e6"/>
<circle cx="220.70" cy="309.03" r="1.27" fill="#a6c8e6"/>
<circle cx="222.30" cy="309.03" r="1.27" fill="#a6c8e6"/>
<circle cx="224.42" cy="309.03" r="1.27" fill="#a6c8e6"/>
<circle cx="226.53" cy="309.03" r="1.27" fill="#a6c8e6"/>
<circle cx="228.65" cy="309.03" r="1.27" fill="#a6c8e6"/>
<circle cx="230.77" cy="309.03" r="1.27" fill="#a6c8e6"/>
<circle cx="232.88" cy="309.03" r="1.27" fill="#a6c8e6"/>
<circle cx="235.00" cy="309.03" r="1.27" fill="#a6c8e6"/>
<circle cx="239.10" cy="309.03" r="1.27" fill="#2a6eb2"/>
<circle cx="241.28" cy="309.03" r="1.27" fill="#2a6eb2"/>
<circle cx="243.45" cy="309.03" r="1.27" fill="#2a6eb2"/>
<circle cx="245.62" cy="309.03" r="1.27" fill="#2a6eb2"/>
<circle cx="247.80" cy="309.03" r="1.27" fill="#2a6eb2"/>
<circle cx="250.40" cy="309.03" r="1.27" fill="#2a6eb2"/>
<circle cx="252.70" cy="309.03" r="1.27" fill="#2a6eb2"/>
<circle cx="255.00" cy="309.03" r="1.27" fill="#2a6eb2"/>
<circle cx="259.00" cy="309.03" r="1.27" fill="#2a6eb2"/>
<circle cx="260.96" cy="309.03" r="1.27" fill="#2a6eb2"/>
<circle cx="262.92" cy="309.03" r="1.27" fill="#2a6eb2"/>
<circle cx="264.88" cy="309.03" r="1.27" fill="#2a6eb2"/>
<circle cx="266.84" cy="309.03" r="1.27" fill="#2a6eb2"/>
<circle cx="268.80" cy="309.03" r="1.27" fill="#2a6eb2"/>
<circle cx="270.80" cy="309.03" r="1.27" fill="#2a6eb2"/>
<circle cx="272.30" cy="309.03" r="1.27" fill="#2a6eb2"/>
<circle cx="273.30" cy="309.03" r="1.27" fill="#a6c8e6"/>
<circle cx="275.53" cy="309.03" r="1.27" fill="#a6c8e6"/>
<circle cx="277.77" cy="309.03" r="1.27" fill="#a6c8e6"/>
<circle cx="280.00" cy="309.03" r="1.27" fill="#a6c8e6"/>
<circle cx="213.00" cy="306.15" r="1.27" fill="#a6c8e6"/>
<circle cx="214.60" cy="306.15" r="1.27" fill="#a6c8e6"/>
<circle cx="216.60" cy="306.15" r="1.27" fill="#a6c8e6"/>
<circle cx="218.90" cy="306.15" r="1.27" fill="#a6c8e6"/>
<circle cx="221.20" cy="306.15" r="1.27" fill="#a6c8e6"/>
<circle cx="227.90" cy="306.15" r="1.27" fill="#a6c8e6"/>
<circle cx="230.45" cy="306.15" r="1.27" fill="#a6c8e6"/>
<circle cx="233.00" cy="306.15" r="1.27" fill="#a6c8e6"/>
<circle cx="240.10" cy="306.15" r="1.27" fill="#2a6eb2"/>
<circle cx="242.20" cy="306.15" r="1.27" fill="#2a6eb2"/>
<circle cx="244.30" cy="306.15" r="1.27" fill="#2a6eb2"/>
<circle cx="246.40" cy="306.15" r="1.27" fill="#2a6eb2"/>
<circle cx="248.50" cy="306.15" r="1.27" fill="#2a6eb2"/>
<circle cx="250.60" cy="306.15" r="1.27" fill="#2a6eb2"/>
<circle cx="252.70" cy="306.15" r="1.27" fill="#2a6eb2"/>
<circle cx="254.80" cy="306.15" r="1.27" fill="#2a6eb2"/>
<circle cx="256.90" cy="306.15" r="1.27" fill="#2a6eb2"/>
<circle cx="259.00" cy="306.15" r="1.27" fill="#2a6eb2"/>
<circle cx="262.10" cy="306.15" r="1.27" fill="#2a6eb2"/>
<circle cx="264.14" cy="306.15" r="1.27" fill="#2a6eb2"/>
<circle cx="266.18" cy="306.15" r="1.27" fill="#2a6eb2"/>
<circle cx="268.22" cy="306.15" r="1.27" fill="#2a6eb2"/>
<circle cx="270.26" cy="306.15" r="1.27" fill="#2a6eb2"/>
<circle cx="272.30" cy="306.15" r="1.27" fill="#2a6eb2"/>
<circle cx="273.40" cy="306.15" r="1.27" fill="#a6c8e6"/>
<circle cx="275.40" cy="306.15" r="1.27" fill="#a6c8e6"/>
<circle cx="278.00" cy="306.15" r="1.27" fill="#a6c8e6"/>
<circle cx="211.00" cy="303.26" r="1.27" fill="#a6c8e6"/>
<circle cx="213.00" cy="303.26" r="1.27" fill="#a6c8e6"/>
<circle cx="221.80" cy="303.26" r="1.27" fill="#a6c8e6"/>
<circle cx="223.55" cy="303.26" r="1.27" fill="#a6c8e6"/>
<circle cx="225.30" cy="303.26" r="1.27" fill="#a6c8e6"/>
<circle cx="227.90" cy="303.26" r="1.27" fill="#a6c8e6"/>
<circle cx="243.70" cy="303.26" r="1.27" fill="#2a6eb2"/>
<circle cx="245.75" cy="303.26" r="1.27" fill="#2a6eb2"/>
<circle cx="247.80" cy="303.26" r="1.27" fill="#2a6eb2"/>
<circle cx="255.00" cy="303.26" r="1.27" fill="#2a6eb2"/>
<circle cx="257.50" cy="303.26" r="1.27" fill="#2a6eb2"/>
<circle cx="260.00" cy="303.26" r="1.27" fill="#2a6eb2"/>
<circle cx="262.60" cy="303.26" r="1.27" fill="#2a6eb2"/>
<circle cx="264.40" cy="303.26" r="1.27" fill="#2a6eb2"/>
<circle cx="266.20" cy="303.26" r="1.27" fill="#2a6eb2"/>
<circle cx="274.40" cy="303.26" r="1.27" fill="#a6c8e6"/>
<circle cx="210.00" cy="300.38" r="1.27" fill="#a6c8e6"/>
<circle cx="211.50" cy="300.38" r="1.27" fill="#a6c8e6"/>
<circle cx="231.50" cy="300.38" r="1.27" fill="#a6c8e6"/>
<circle cx="233.25" cy="300.38" r="1.27" fill="#a6c8e6"/>
<circle cx="235.00" cy="300.38" r="1.27" fill="#a6c8e6"/>
<circle cx="240.10" cy="300.38" r="1.27" fill="#2a6eb2"/>
<circle cx="242.20" cy="300.38" r="1.27" fill="#2a6eb2"/>
<circle cx="245.30" cy="300.38" r="1.27" fill="#2a6eb2"/>
<circle cx="249.90" cy="300.38" r="1.27" fill="#2a6eb2"/>
<circle cx="255.00" cy="300.38" r="1.27" fill="#2a6eb2"/>
<circle cx="260.00" cy="300.38" r="1.27" fill="#2a6eb2"/>
<circle cx="271.30" cy="300.38" r="1.27" fill="#2a6eb2"/>
<circle cx="216.60" cy="297.49" r="1.27" fill="#a6c8e6"/>
<circle cx="225.30" cy="297.49" r="1.27" fill="#a6c8e6"/>
<circle cx="233.50" cy="297.49" r="1.27" fill="#a6c8e6"/>
<circle cx="236.60" cy="297.49" r="1.27" fill="#a6c8e6"/>
<circle cx="264.20" cy="297.49" r="1.27" fill="#2a6eb2"/>
<circle cx="267.20" cy="297.49" r="1.27" fill="#2a6eb2"/>
<circle cx="274.90" cy="297.49" r="1.27" fill="#a6c8e6"/>
<circle cx="278.00" cy="297.49" r="1.27" fill="#a6c8e6"/>
<circle cx="210.00" cy="294.61" r="1.27" fill="#a6c8e6"/>
<circle cx="212.00" cy="294.61" r="1.27" fill="#a6c8e6"/>
<circle cx="214.00" cy="294.61" r="1.27" fill="#a6c8e6"/>
<circle cx="242.20" cy="294.61" r="1.27" fill="#2a6eb2"/>
<circle cx="254.50" cy="294.61" r="1.27" fill="#2a6eb2"/>
<circle cx="258.00" cy="294.61" r="1.27" fill="#2a6eb2"/>
<circle cx="266.70" cy="294.61" r="1.27" fill="#2a6eb2"/>
<circle cx="214.60" cy="291.72" r="1.27" fill="#a6c8e6"/>
<circle cx="217.20" cy="291.72" r="1.27" fill="#a6c8e6"/>
<circle cx="221.20" cy="291.72" r="1.27" fill="#a6c8e6"/>
<circle cx="235.00" cy="291.72" r="1.27" fill="#a6c8e6"/>
<circle cx="239.60" cy="291.72" r="1.27" fill="#2a6eb2"/>
<circle cx="256.00" cy="291.72" r="1.27" fill="#2a6eb2"/>
<circle cx="261.10" cy="291.72" r="1.27" fill="#2a6eb2"/>
<circle cx="268.80" cy="291.72" r="1.27" fill="#2a6eb2"/>
<circle cx="274.90" cy="291.72" r="1.27" fill="#a6c8e6"/>
<circle cx="278.00" cy="291.72" r="1.27" fill="#a6c8e6"/>
<circle cx="211.00" cy="288.84" r="1.27" fill="#a6c8e6"/>
<circle cx="273.90" cy="288.84" r="1.27" fill="#a6c8e6"/>
<circle cx="219.20" cy="283.06" r="1.27" fill="#a6c8e6"/>
<circle cx="231.50" cy="277.30" r="1.27" fill="#a6c8e6"/>
<circle cx="233.50" cy="277.30" r="1.27" fill="#a6c8e6"/>
<circle cx="237.80" cy="285.95" r="1.27" fill="#a6c8e6"/>
<circle cx="273.40" cy="285.95" r="1.27" fill="#a6c8e6"/>
<circle cx="279.00" cy="285.95" r="1.27" fill="#a6c8e6"/>
<circle cx="247.80" cy="283.06" r="1.27" fill="#2a6eb2"/>
<circle cx="249.80" cy="283.06" r="1.27" fill="#2a6eb2"/>
<circle cx="265.20" cy="283.06" r="1.27" fill="#2a6eb2"/>
<circle cx="246.80" cy="285.95" r="1.27" fill="#2a6eb2"/>
<circle cx="248.80" cy="285.95" r="1.27" fill="#2a6eb2"/>
<circle cx="257.00" cy="285.95" r="1.27" fill="#2a6eb2"/>
<circle cx="265.20" cy="285.95" r="1.27" fill="#2a6eb2"/>
<circle cx="268.80" cy="288.84" r="1.27" fill="#2a6eb2"/>
<circle cx="271.80" cy="288.84" r="1.27" fill="#2a6eb2"/>
<circle cx="268.20" cy="268.64" r="1.27" fill="#2a6eb2"/>
<circle cx="269.00" cy="274.41" r="1.27" fill="#2a6eb2"/>
<circle cx="275.90" cy="268.64" r="1.27" fill="#a6c8e6"/>
<circle cx="280.00" cy="314.80" r="1.27" fill="#a6c8e6"/>
<circle cx="282.04" cy="314.80" r="1.27" fill="#a6c8e6"/>
<circle cx="284.08" cy="314.80" r="1.27" fill="#a6c8e6"/>
<circle cx="286.12" cy="314.80" r="1.27" fill="#a6c8e6"/>
<circle cx="288.16" cy="314.80" r="1.27" fill="#a6c8e6"/>
<circle cx="290.20" cy="314.80" r="1.27" fill="#a6c8e6"/>
<circle cx="292.80" cy="314.80" r="1.27" fill="#a6c8e6"/>
<circle cx="294.83" cy="314.80" r="1.27" fill="#a6c8e6"/>
<circle cx="296.87" cy="314.80" r="1.27" fill="#a6c8e6"/>
<circle cx="298.90" cy="314.80" r="1.27" fill="#a6c8e6"/>
<circle cx="300.93" cy="314.80" r="1.27" fill="#a6c8e6"/>
<circle cx="302.97" cy="314.80" r="1.27" fill="#a6c8e6"/>
<circle cx="305.00" cy="314.80" r="1.27" fill="#a6c8e6"/>
<circle cx="306.00" cy="314.80" r="1.27" fill="#2a6eb2"/>
<circle cx="307.96" cy="314.80" r="1.27" fill="#2a6eb2"/>
<circle cx="309.92" cy="314.80" r="1.27" fill="#2a6eb2"/>
<circle cx="311.88" cy="314.80" r="1.27" fill="#2a6eb2"/>
<circle cx="313.84" cy="314.80" r="1.27" fill="#2a6eb2"/>
<circle cx="315.80" cy="314.80" r="1.27" fill="#2a6eb2"/>
<circle cx="317.80" cy="314.80" r="1.27" fill="#2a6eb2"/>
<circle cx="319.98" cy="314.80" r="1.27" fill="#2a6eb2"/>
<circle cx="322.15" cy="314.80" r="1.27" fill="#2a6eb2"/>
<circle cx="324.32" cy="314.80" r="1.27" fill="#2a6eb2"/>
<circle cx="326.50" cy="314.80" r="1.27" fill="#2a6eb2"/>
<circle cx="328.68" cy="314.80" r="1.27" fill="#2a6eb2"/>
<circle cx="330.85" cy="314.80" r="1.27" fill="#2a6eb2"/>
<circle cx="333.02" cy="314.80" r="1.27" fill="#2a6eb2"/>
<circle cx="335.20" cy="314.80" r="1.27" fill="#2a6eb2"/>
<circle cx="335.70" cy="314.80" r="1.27" fill="#a6c8e6"/>
<circle cx="338.00" cy="314.80" r="1.27" fill="#a6c8e6"/>
<circle cx="340.30" cy="314.80" r="1.27" fill="#a6c8e6"/>
<circle cx="342.30" cy="314.80" r="1.27" fill="#a6c8e6"/>
<circle cx="344.23" cy="314.80" r="1.27" fill="#a6c8e6"/>
<circle cx="346.15" cy="314.80" r="1.27" fill="#a6c8e6"/>
<circle cx="348.07" cy="314.80" r="1.27" fill="#a6c8e6"/>
<circle cx="350.00" cy="314.80" r="1.27" fill="#a6c8e6"/>
<circle cx="280.00" cy="311.92" r="1.27" fill="#a6c8e6"/>
<circle cx="282.30" cy="311.92" r="1.27" fill="#a6c8e6"/>
<circle cx="284.60" cy="311.92" r="1.27" fill="#a6c8e6"/>
<circle cx="294.30" cy="311.92" r="1.27" fill="#a6c8e6"/>
<circle cx="296.44" cy="311.92" r="1.27" fill="#a6c8e6"/>
<circle cx="298.58" cy="311.92" r="1.27" fill="#a6c8e6"/>
<circle cx="300.72" cy="311.92" r="1.27" fill="#a6c8e6"/>
<circle cx="302.86" cy="311.92" r="1.27" fill="#a6c8e6"/>
<circle cx="305.00" cy="311.92" r="1.27" fill="#a6c8e6"/>
<circle cx="306.60" cy="311.92" r="1.27" fill="#2a6eb2"/>
<circle cx="308.90" cy="311.92" r="1.27" fill="#2a6eb2"/>
<circle cx="311.20" cy="311.92" r="1.27" fill="#2a6eb2"/>
<circle cx="313.50" cy="311.92" r="1.27" fill="#2a6eb2"/>
<circle cx="315.80" cy="311.92" r="1.27" fill="#2a6eb2"/>
<circle cx="318.80" cy="311.92" r="1.27" fill="#2a6eb2"/>
<circle cx="321.00" cy="311.92" r="1.27" fill="#2a6eb2"/>
<circle cx="323.20" cy="311.92" r="1.27" fill="#2a6eb2"/>
<circle cx="325.40" cy="311.92" r="1.27" fill="#2a6eb2"/>
<circle cx="327.60" cy="311.92" r="1.27" fill="#2a6eb2"/>
<circle cx="329.80" cy="311.92" r="1.27" fill="#2a6eb2"/>
<circle cx="332.00" cy="311.92" r="1.27" fill="#2a6eb2"/>
<circle cx="334.20" cy="311.92" r="1.27" fill="#2a6eb2"/>
<circle cx="337.20" cy="311.92" r="1.27" fill="#a6c8e6"/>
<circle cx="339.33" cy="311.92" r="1.27" fill="#a6c8e6"/>
<circle cx="341.47" cy="311.92" r="1.27" fill="#a6c8e6"/>
<circle cx="343.60" cy="311.92" r="1.27" fill="#a6c8e6"/>
<circle cx="345.73" cy="311.92" r="1.27" fill="#a6c8e6"/>
<circle cx="347.87" cy="311.92" r="1.27" fill="#a6c8e6"/>
<circle cx="350.00" cy="311.92" r="1.27" fill="#a6c8e6"/>
<circle cx="280.00" cy="309.03" r="1.27" fill="#a6c8e6"/>
<circle cx="282.13" cy="309.03" r="1.27" fill="#a6c8e6"/>
<circle cx="284.27" cy="309.03" r="1.27" fill="#a6c8e6"/>
<circle cx="286.40" cy="309.03" r="1.27" fill="#a6c8e6"/>
<circle cx="288.53" cy="309.03" r="1.27" fill="#a6c8e6"/>
<circle cx="290.67" cy="309.03" r="1.27" fill="#a6c8e6"/>
<circle cx="292.80" cy="309.03" r="1.27" fill="#a6c8e6"/>
<circle cx="296.30" cy="309.03" r="1.27" fill="#a6c8e6"/>
<circle cx="298.48" cy="309.03" r="1.27" fill="#a6c8e6"/>
<circle cx="300.65" cy="309.03" r="1.27" fill="#a6c8e6"/>
<circle cx="302.82" cy="309.03" r="1.27" fill="#a6c8e6"/>
<circle cx="305.00" cy="309.03" r="1.27" fill="#a6c8e6"/>
<circle cx="306.60" cy="309.03" r="1.27" fill="#2a6eb2"/>
<circle cx="308.90" cy="309.03" r="1.27" fill="#2a6eb2"/>
<circle cx="311.20" cy="309.03" r="1.27" fill="#2a6eb2"/>
<circle cx="313.50" cy="309.03" r="1.27" fill="#2a6eb2"/>
<circle cx="315.80" cy="309.03" r="1.27" fill="#2a6eb2"/>
<circle cx="320.40" cy="309.03" r="1.27" fill="#2a6eb2"/>
<circle cx="322.51" cy="309.03" r="1.27" fill="#2a6eb2"/>
<circle cx="324.63" cy="309.03" r="1.27" fill="#2a6eb2"/>
<circle cx="326.74" cy="309.03" r="1.27" fill="#2a6eb2"/>
<circle cx="328.86" cy="309.03" r="1.27" fill="#2a6eb2"/>
<circle cx="330.97" cy="309.03" r="1.27" fill="#2a6eb2"/>
<circle cx="333.09" cy="309.03" r="1.27" fill="#2a6eb2"/>
<circle cx="335.20" cy="309.03" r="1.27" fill="#2a6eb2"/>
<circle cx="336.20" cy="309.03" r="1.27" fill="#a6c8e6"/>
<circle cx="338.17" cy="309.03" r="1.27" fill="#a6c8e6"/>
<circle cx="340.14" cy="309.03" r="1.27" fill="#a6c8e6"/>
<circle cx="342.11" cy="309.03" r="1.27" fill="#a6c8e6"/>
<circle cx="344.09" cy="309.03" r="1.27" fill="#a6c8e6"/>
<circle cx="346.06" cy="309.03" r="1.27" fill="#a6c8e6"/>
<circle cx="348.03" cy="309.03" r="1.27" fill="#a6c8e6"/>
<circle cx="350.00" cy="309.03" r="1.27" fill="#a6c8e6"/>
<circle cx="281.50" cy="306.15" r="1.27" fill="#a6c8e6"/>
<circle cx="283.68" cy="306.15" r="1.27" fill="#a6c8e6"/>
<circle cx="285.85" cy="306.15" r="1.27" fill="#a6c8e6"/>
<circle cx="288.02" cy="306.15" r="1.27" fill="#a6c8e6"/>
<circle cx="290.20" cy="306.15" r="1.27" fill="#a6c8e6"/>
<circle cx="293.80" cy="306.15" r="1.27" fill="#a6c8e6"/>
<circle cx="303.50" cy="306.15" r="1.27" fill="#a6c8e6"/>
<circle cx="305.00" cy="306.15" r="1.27" fill="#a6c8e6"/>
<circle cx="306.60" cy="306.15" r="1.27" fill="#2a6eb2"/>
<circle cx="310.70" cy="306.15" r="1.27" fill="#2a6eb2"/>
<circle cx="319.30" cy="306.15" r="1.27" fill="#2a6eb2"/>
<circle cx="323.90" cy="306.15" r="1.27" fill="#2a6eb2"/>
<circle cx="325.96" cy="306.15" r="1.27" fill="#2a6eb2"/>
<circle cx="328.02" cy="306.15" r="1.27" fill="#2a6eb2"/>
<circle cx="330.08" cy="306.15" r="1.27" fill="#2a6eb2"/>
<circle cx="332.14" cy="306.15" r="1.27" fill="#2a6eb2"/>
<circle cx="334.20" cy="306.15" r="1.27" fill="#2a6eb2"/>
<circle cx="336.70" cy="306.15" r="1.27" fill="#a6c8e6"/>
<circle cx="338.92" cy="306.15" r="1.27" fill="#a6c8e6"/>
<circle cx="341.13" cy="306.15" r="1.27" fill="#a6c8e6"/>
<circle cx="343.35" cy="306.15" r="1.27" fill="#a6c8e6"/>
<circle cx="345.57" cy="306.15" r="1.27" fill="#a6c8e6"/>
<circle cx="347.78" cy="306.15" r="1.27" fill="#a6c8e6"/>
<circle cx="350.00" cy="306.15" r="1.27" fill="#a6c8e6"/>
<circle cx="294.80" cy="303.26" r="1.27" fill="#a6c8e6"/>
<circle cx="300.40" cy="303.26" r="1.27" fill="#a6c8e6"/>
<circle cx="303.50" cy="303.26" r="1.27" fill="#a6c8e6"/>
<circle cx="306.00" cy="303.26" r="1.27" fill="#2a6eb2"/>
<circle cx="307.93" cy="303.26" r="1.27" fill="#2a6eb2"/>
<circle cx="309.85" cy="303.26" r="1.27" fill="#2a6eb2"/>
<circle cx="311.77" cy="303.26" r="1.27" fill="#2a6eb2"/>
<circle cx="313.70" cy="303.26" r="1.27" fill="#2a6eb2"/>
<circle cx="317.80" cy="303.26" r="1.27" fill="#2a6eb2"/>
<circle cx="325.00" cy="303.26" r="1.27" fill="#2a6eb2"/>
<circle cx="333.60" cy="303.26" r="1.27" fill="#2a6eb2"/>
<circle cx="336.70" cy="303.26" r="1.27" fill="#a6c8e6"/>
<circle cx="338.57" cy="303.26" r="1.27" fill="#a6c8e6"/>
<circle cx="340.43" cy="303.26" r="1.27" fill="#a6c8e6"/>
<circle cx="342.30" cy="303.26" r="1.27" fill="#a6c8e6"/>
<circle cx="348.00" cy="303.26" r="1.27" fill="#a6c8e6"/>
<circle cx="281.50" cy="300.38" r="1.27" fill="#a6c8e6"/>
<circle cx="285.60" cy="300.38" r="1.27" fill="#a6c8e6"/>
<circle cx="287.90" cy="300.38" r="1.27" fill="#a6c8e6"/>
<circle cx="290.20" cy="300.38" r="1.27" fill="#a6c8e6"/>
<circle cx="294.30" cy="300.38" r="1.27" fill="#a6c8e6"/>
<circle cx="296.54" cy="300.38" r="1.27" fill="#a6c8e6"/>
<circle cx="298.78" cy="300.38" r="1.27" fill="#a6c8e6"/>
<circle cx="301.02" cy="300.38" r="1.27" fill="#a6c8e6"/>
<circle cx="303.26" cy="300.38" r="1.27" fill="#a6c8e6"/>
<circle cx="305.50" cy="300.38" r="1.27" fill="#a6c8e6"/>
<circle cx="307.10" cy="300.38" r="1.27" fill="#2a6eb2"/>
<circle cx="308.97" cy="300.38" r="1.27" fill="#2a6eb2"/>
<circle cx="310.83" cy="300.38" r="1.27" fill="#2a6eb2"/>
<circle cx="312.70" cy="300.38" r="1.27" fill="#2a6eb2"/>
<circle cx="315.80" cy="300.38" r="1.27" fill="#2a6eb2"/>
<circle cx="320.40" cy="300.38" r="1.27" fill="#2a6eb2"/>
<circle cx="335.70" cy="300.38" r="1.27" fill="#a6c8e6"/>
<circle cx="344.40" cy="300.38" r="1.27" fill="#a6c8e6"/>
<circle cx="348.50" cy="300.38" r="1.27" fill="#a6c8e6"/>
<circle cx="287.70" cy="297.49" r="1.27" fill="#a6c8e6"/>
<circle cx="302.00" cy="297.49" r="1.27" fill="#a6c8e6"/>
<circle cx="306.80" cy="297.49" r="1.27" fill="#2a6eb2"/>
<circle cx="313.70" cy="297.49" r="1.27" fill="#2a6eb2"/>
<circle cx="320.90" cy="297.49" r="1.27" fill="#2a6eb2"/>
<circle cx="323.90" cy="297.49" r="1.27" fill="#2a6eb2"/>
<circle cx="330.10" cy="297.49" r="1.27" fill="#2a6eb2"/>
<circle cx="335.70" cy="297.49" r="1.27" fill="#a6c8e6"/>
<circle cx="280.00" cy="294.61" r="1.27" fill="#a6c8e6"/>
<circle cx="281.50" cy="294.61" r="1.27" fill="#a6c8e6"/>
<circle cx="321.90" cy="294.61" r="1.27" fill="#2a6eb2"/>
<circle cx="340.30" cy="294.61" r="1.27" fill="#a6c8e6"/>
<circle cx="349.50" cy="294.61" r="1.27" fill="#a6c8e6"/>
<circle cx="280.00" cy="291.72" r="1.27" fill="#a6c8e6"/>
<circle cx="281.50" cy="291.72" r="1.27" fill="#a6c8e6"/>
<circle cx="303.00" cy="291.72" r="1.27" fill="#a6c8e6"/>
<circle cx="309.10" cy="291.72" r="1.27" fill="#2a6eb2"/>
<circle cx="312.70" cy="291.72" r="1.27" fill="#2a6eb2"/>
<circle cx="318.80" cy="291.72" r="1.27" fill="#2a6eb2"/>
<circle cx="327.50" cy="291.72" r="1.27" fill="#2a6eb2"/>
<circle cx="329.30" cy="291.72" r="1.27" fill="#2a6eb2"/>
<circle cx="331.10" cy="291.72" r="1.27" fill="#2a6eb2"/>
<circle cx="343.40" cy="291.72" r="1.27" fill="#a6c8e6"/>
<circle cx="290.70" cy="268.64" r="1.27" fill="#a6c8e6"/>
<circle cx="288.20" cy="283.06" r="1.27" fill="#a6c8e6"/>
<circle cx="304.50" cy="283.06" r="1.27" fill="#a6c8e6"/>
<circle cx="341.30" cy="283.06" r="1.27" fill="#a6c8e6"/>
<circle cx="280.50" cy="285.95" r="1.27" fill="#a6c8e6"/>
<circle cx="341.30" cy="285.95" r="1.27" fill="#a6c8e6"/>
<circle cx="287.20" cy="288.84" r="1.27" fill="#a6c8e6"/>
<circle cx="291.80" cy="288.84" r="1.27" fill="#a6c8e6"/>
<circle cx="294.35" cy="288.84" r="1.27" fill="#a6c8e6"/>
<circle cx="296.90" cy="288.84" r="1.27" fill="#a6c8e6"/>
<circle cx="335.70" cy="288.84" r="1.27" fill="#a6c8e6"/>
<circle cx="306.00" cy="277.30" r="1.27" fill="#2a6eb2"/>
<circle cx="307.10" cy="280.18" r="1.27" fill="#2a6eb2"/>
<circle cx="303.50" cy="280.18" r="1.27" fill="#a6c8e6"/>
<circle cx="315.80" cy="283.06" r="1.27" fill="#2a6eb2"/>
<circle cx="317.30" cy="283.06" r="1.27" fill="#2a6eb2"/>
<circle cx="334.70" cy="283.06" r="1.27" fill="#2a6eb2"/>
<circle cx="331.10" cy="288.84" r="1.27" fill="#2a6eb2"/>
<circle cx="342.30" cy="271.53" r="1.27" fill="#a6c8e6"/>
<circle cx="350.00" cy="314.80" r="1.27" fill="#a6c8e6"/>
<circle cx="352.24" cy="314.80" r="1.27" fill="#a6c8e6"/>
<circle cx="354.48" cy="314.80" r="1.27" fill="#a6c8e6"/>
<circle cx="356.72" cy="314.80" r="1.27" fill="#a6c8e6"/>
<circle cx="358.96" cy="314.80" r="1.27" fill="#a6c8e6"/>
<circle cx="361.20" cy="314.80" r="1.27" fill="#a6c8e6"/>
<circle cx="362.30" cy="314.80" r="1.27" fill="#2a6eb2"/>
<circle cx="364.20" cy="314.80" r="1.27" fill="#2a6eb2"/>
<circle cx="366.10" cy="314.80" r="1.27" fill="#2a6eb2"/>
<circle cx="368.00" cy="314.80" r="1.27" fill="#2a6eb2"/>
<circle cx="369.90" cy="314.80" r="1.27" fill="#2a6eb2"/>
<circle cx="374.50" cy="314.80" r="1.27" fill="#2a6eb2"/>
<circle cx="376.72" cy="314.80" r="1.27" fill="#2a6eb2"/>
<circle cx="378.93" cy="314.80" r="1.27" fill="#2a6eb2"/>
<circle cx="381.15" cy="314.80" r="1.27" fill="#2a6eb2"/>
<circle cx="383.37" cy="314.80" r="1.27" fill="#2a6eb2"/>
<circle cx="385.58" cy="314.80" r="1.27" fill="#2a6eb2"/>
<circle cx="387.80" cy="314.80" r="1.27" fill="#2a6eb2"/>
<circle cx="388.80" cy="314.80" r="1.27" fill="#a6c8e6"/>
<circle cx="391.40" cy="314.80" r="1.27" fill="#a6c8e6"/>
<circle cx="394.00" cy="314.80" r="1.27" fill="#a6c8e6"/>
<circle cx="396.00" cy="314.80" r="1.27" fill="#a6c8e6"/>
<circle cx="398.10" cy="314.80" r="1.27" fill="#a6c8e6"/>
<circle cx="400.20" cy="314.80" r="1.27" fill="#a6c8e6"/>
<circle cx="402.30" cy="314.80" r="1.27" fill="#a6c8e6"/>
<circle cx="404.40" cy="314.80" r="1.27" fill="#a6c8e6"/>
<circle cx="406.50" cy="314.80" r="1.27" fill="#a6c8e6"/>
<circle cx="408.60" cy="314.80" r="1.27" fill="#a6c8e6"/>
<circle cx="410.70" cy="314.80" r="1.27" fill="#a6c8e6"/>
<circle cx="412.80" cy="314.80" r="1.27" fill="#a6c8e6"/>
<circle cx="413.40" cy="314.80" r="1.27" fill="#2a6eb2"/>
<circle cx="415.60" cy="314.80" r="1.27" fill="#2a6eb2"/>
<circle cx="417.80" cy="314.80" r="1.27" fill="#2a6eb2"/>
<circle cx="420.00" cy="314.80" r="1.27" fill="#2a6eb2"/>
<circle cx="350.00" cy="311.92" r="1.27" fill="#a6c8e6"/>
<circle cx="352.24" cy="311.92" r="1.27" fill="#a6c8e6"/>
<circle cx="354.48" cy="311.92" r="1.27" fill="#a6c8e6"/>
<circle cx="356.72" cy="311.92" r="1.27" fill="#a6c8e6"/>
<circle cx="358.96" cy="311.92" r="1.27" fill="#a6c8e6"/>
<circle cx="361.20" cy="311.92" r="1.27" fill="#a6c8e6"/>
<circle cx="362.30" cy="311.92" r="1.27" fill="#2a6eb2"/>
<circle cx="364.50" cy="311.92" r="1.27" fill="#2a6eb2"/>
<circle cx="366.70" cy="311.92" r="1.27" fill="#2a6eb2"/>
<circle cx="368.90" cy="311.92" r="1.27" fill="#2a6eb2"/>
<circle cx="371.10" cy="311.92" r="1.27" fill="#2a6eb2"/>
<circle cx="373.30" cy="311.92" r="1.27" fill="#2a6eb2"/>
<circle cx="375.50" cy="311.92" r="1.27" fill="#2a6eb2"/>
<circle cx="377.60" cy="311.92" r="1.27" fill="#2a6eb2"/>
<circle cx="379.90" cy="311.92" r="1.27" fill="#2a6eb2"/>
<circle cx="382.20" cy="311.92" r="1.27" fill="#2a6eb2"/>
<circle cx="384.50" cy="311.92" r="1.27" fill="#2a6eb2"/>
<circle cx="386.80" cy="311.92" r="1.27" fill="#2a6eb2"/>
<circle cx="388.80" cy="311.92" r="1.27" fill="#a6c8e6"/>
<circle cx="391.40" cy="311.92" r="1.27" fill="#a6c8e6"/>
<circle cx="394.00" cy="311.92" r="1.27" fill="#a6c8e6"/>
<circle cx="398.00" cy="311.92" r="1.27" fill="#a6c8e6"/>
<circle cx="400.04" cy="311.92" r="1.27" fill="#a6c8e6"/>
<circle cx="402.09" cy="311.92" r="1.27" fill="#a6c8e6"/>
<circle cx="404.13" cy="311.92" r="1.27" fill="#a6c8e6"/>
<circle cx="406.17" cy="311.92" r="1.27" fill="#a6c8e6"/>
<circle cx="408.21" cy="311.92" r="1.27" fill="#a6c8e6"/>
<circle cx="410.26" cy="311.92" r="1.27" fill="#a6c8e6"/>
<circle cx="412.30" cy="311.92" r="1.27" fill="#a6c8e6"/>
<circle cx="413.40" cy="311.92" r="1.27" fill="#2a6eb2"/>
<circle cx="415.60" cy="311.92" r="1.27" fill="#2a6eb2"/>
<circle cx="417.80" cy="311.92" r="1.27" fill="#2a6eb2"/>
<circle cx="420.00" cy="311.92" r="1.27" fill="#2a6eb2"/>
<circle cx="354.00" cy="309.03" r="1.27" fill="#a6c8e6"/>
<circle cx="356.40" cy="309.03" r="1.27" fill="#a6c8e6"/>
<circle cx="358.80" cy="309.03" r="1.27" fill="#a6c8e6"/>
<circle cx="361.20" cy="309.03" r="1.27" fill="#a6c8e6"/>
<circle cx="364.80" cy="309.03" r="1.27" fill="#2a6eb2"/>
<circle cx="366.85" cy="309.03" r="1.27" fill="#2a6eb2"/>
<circle cx="368.90" cy="309.03" r="1.27" fill="#2a6eb2"/>
<circle cx="377.60" cy="309.03" r="1.27" fill="#2a6eb2"/>
<circle cx="379.64" cy="309.03" r="1.27" fill="#2a6eb2"/>
<circle cx="381.68" cy="309.03" r="1.27" fill="#2a6eb2"/>
<circle cx="383.72" cy="309.03" r="1.27" fill="#2a6eb2"/>
<circle cx="385.76" cy="309.03" r="1.27" fill="#2a6eb2"/>
<circle cx="387.80" cy="309.03" r="1.27" fill="#2a6eb2"/>
<circle cx="388.80" cy="309.03" r="1.27" fill="#a6c8e6"/>
<circle cx="390.87" cy="309.03" r="1.27" fill="#a6c8e6"/>
<circle cx="392.93" cy="309.03" r="1.27" fill="#a6c8e6"/>
<circle cx="395.00" cy="309.03" r="1.27" fill="#a6c8e6"/>
<circle cx="399.60" cy="309.03" r="1.27" fill="#a6c8e6"/>
<circle cx="401.90" cy="309.03" r="1.27" fill="#a6c8e6"/>
<circle cx="404.20" cy="309.03" r="1.27" fill="#a6c8e6"/>
<circle cx="406.50" cy="309.03" r="1.27" fill="#a6c8e6"/>
<circle cx="408.80" cy="309.03" r="1.27" fill="#a6c8e6"/>
<circle cx="410.80" cy="309.03" r="1.27" fill="#a6c8e6"/>
<circle cx="412.30" cy="309.03" r="1.27" fill="#a6c8e6"/>
<circle cx="413.40" cy="309.03" r="1.27" fill="#2a6eb2"/>
<circle cx="415.60" cy="309.03" r="1.27" fill="#2a6eb2"/>
<circle cx="417.80" cy="309.03" r="1.27" fill="#2a6eb2"/>
<circle cx="420.00" cy="309.03" r="1.27" fill="#2a6eb2"/>
<circle cx="353.50" cy="306.15" r="1.27" fill="#a6c8e6"/>
<circle cx="357.20" cy="306.15" r="1.27" fill="#a6c8e6"/>
<circle cx="359.20" cy="306.15" r="1.27" fill="#a6c8e6"/>
<circle cx="361.20" cy="306.15" r="1.27" fill="#a6c8e6"/>
<circle cx="364.80" cy="306.15" r="1.27" fill="#2a6eb2"/>
<circle cx="369.90" cy="306.15" r="1.27" fill="#2a6eb2"/>
<circle cx="374.50" cy="306.15" r="1.27" fill="#2a6eb2"/>
<circle cx="376.30" cy="306.15" r="1.27" fill="#2a6eb2"/>
<circle cx="378.10" cy="306.15" r="1.27" fill="#2a6eb2"/>
<circle cx="384.70" cy="306.15" r="1.27" fill="#2a6eb2"/>
<circle cx="386.30" cy="306.15" r="1.27" fill="#2a6eb2"/>
<circle cx="389.30" cy="306.15" r="1.27" fill="#a6c8e6"/>
<circle cx="391.90" cy="306.15" r="1.27" fill="#a6c8e6"/>
<circle cx="397.00" cy="306.15" r="1.27" fill="#a6c8e6"/>
<circle cx="400.60" cy="306.15" r="1.27" fill="#a6c8e6"/>
<circle cx="403.10" cy="306.15" r="1.27" fill="#a6c8e6"/>
<circle cx="405.20" cy="306.15" r="1.27" fill="#a6c8e6"/>
<circle cx="406.70" cy="306.15" r="1.27" fill="#a6c8e6"/>
<circle cx="414.40" cy="306.15" r="1.27" fill="#2a6eb2"/>
<circle cx="416.27" cy="306.15" r="1.27" fill="#2a6eb2"/>
<circle cx="418.13" cy="306.15" r="1.27" fill="#2a6eb2"/>
<circle cx="420.00" cy="306.15" r="1.27" fill="#2a6eb2"/>
<circle cx="351.50" cy="303.26" r="1.27" fill="#a6c8e6"/>
<circle cx="359.20" cy="303.26" r="1.27" fill="#a6c8e6"/>
<circle cx="368.90" cy="303.26" r="1.27" fill="#2a6eb2"/>
<circle cx="376.00" cy="303.26" r="1.27" fill="#2a6eb2"/>
<circle cx="378.35" cy="303.26" r="1.27" fill="#2a6eb2"/>
<circle cx="380.70" cy="303.26" r="1.27" fill="#2a6eb2"/>
<circle cx="382.70" cy="303.26" r="1.27" fill="#2a6eb2"/>
<circle cx="384.75" cy="303.26" r="1.27" fill="#2a6eb2"/>
<circle cx="386.80" cy="303.26" r="1.27" fill="#2a6eb2"/>
<circle cx="390.90" cy="303.26" r="1.27" fill="#a6c8e6"/>
<circle cx="394.00" cy="303.26" r="1.27" fill="#a6c8e6"/>
<circle cx="405.70" cy="303.26" r="1.27" fill="#a6c8e6"/>
<circle cx="407.57" cy="303.26" r="1.27" fill="#a6c8e6"/>
<circle cx="409.43" cy="303.26" r="1.27" fill="#a6c8e6"/>
<circle cx="411.30" cy="303.26" r="1.27" fill="#a6c8e6"/>
<circle cx="416.40" cy="303.26" r="1.27" fill="#2a6eb2"/>
<circle cx="350.00" cy="300.38" r="1.27" fill="#a6c8e6"/>
<circle cx="356.60" cy="300.38" r="1.27" fill="#a6c8e6"/>
<circle cx="358.20" cy="300.38" r="1.27" fill="#a6c8e6"/>
<circle cx="362.80" cy="300.38" r="1.27" fill="#2a6eb2"/>
<circle cx="368.90" cy="300.38" r="1.27" fill="#2a6eb2"/>
<circle cx="381.20" cy="300.38" r="1.27" fill="#2a6eb2"/>
<circle cx="384.70" cy="300.38" r="1.27" fill="#2a6eb2"/>
<circle cx="386.30" cy="300.38" r="1.27" fill="#2a6eb2"/>
<circle cx="388.80" cy="300.38" r="1.27" fill="#a6c8e6"/>
<circle cx="405.20" cy="300.38" r="1.27" fill="#a6c8e6"/>
<circle cx="411.80" cy="300.38" r="1.27" fill="#a6c8e6"/>
<circle cx="414.90" cy="300.38" r="1.27" fill="#2a6eb2"/>
<circle cx="417.45" cy="300.38" r="1.27" fill="#2a6eb2"/>
<circle cx="420.00" cy="300.38" r="1.27" fill="#2a6eb2"/>
<circle cx="352.00" cy="297.49" r="1.27" fill="#a6c8e6"/>
<circle cx="353.93" cy="297.49" r="1.27" fill="#a6c8e6"/>
<circle cx="355.85" cy="297.49" r="1.27" fill="#a6c8e6"/>
<circle cx="357.77" cy="297.49" r="1.27" fill="#a6c8e6"/>
<circle cx="359.70" cy="297.49" r="1.27" fill="#a6c8e6"/>
<circle cx="376.00" cy="297.49" r="1.27" fill="#2a6eb2"/>
<circle cx="390.40" cy="297.49" r="1.27" fill="#a6c8e6"/>
<circle cx="393.40" cy="297.49" r="1.27" fill="#a6c8e6"/>
<circle cx="409.80" cy="297.49" r="1.27" fill="#a6c8e6"/>
<circle cx="350.00" cy="294.61" r="1.27" fill="#a6c8e6"/>
<circle cx="352.00" cy="294.61" r="1.27" fill="#a6c8e6"/>
<circle cx="354.00" cy="294.61" r="1.27" fill="#a6c8e6"/>
<circle cx="361.80" cy="294.61" r="1.27" fill="#a6c8e6"/>
<circle cx="365.80" cy="294.61" r="1.27" fill="#2a6eb2"/>
<circle cx="367.60" cy="294.61" r="1.27" fill="#2a6eb2"/>
<circle cx="369.40" cy="294.61" r="1.27" fill="#2a6eb2"/>
<circle cx="383.70" cy="294.61" r="1.27" fill="#2a6eb2"/>
<circle cx="358.70" cy="291.72" r="1.27" fill="#a6c8e6"/>
<circle cx="363.30" cy="291.72" r="1.27" fill="#2a6eb2"/>
<circle cx="366.40" cy="291.72" r="1.27" fill="#2a6eb2"/>
<circle cx="375.50" cy="291.72" r="1.27" fill="#2a6eb2"/>
<circle cx="401.60" cy="291.72" r="1.27" fill="#a6c8e6"/>
<circle cx="407.70" cy="291.72" r="1.27" fill="#a6c8e6"/>
<circle cx="356.10" cy="268.64" r="1.27" fill="#a6c8e6"/>
<circle cx="367.20" cy="271.53" r="1.27" fill="#2a6eb2"/>
<circle cx="361.80" cy="277.30" r="1.27" fill="#a6c8e6"/>
<circle cx="395.00" cy="277.30" r="1.27" fill="#a6c8e6"/>
<circle cx="397.00" cy="277.30" r="1.27" fill="#a6c8e6"/>
<circle cx="384.50" cy="274.41" r="1.27" fill="#2a6eb2"/>
<circle cx="390.40" cy="280.18" r="1.27" fill="#a6c8e6"/>
<circle cx="377.60" cy="283.06" r="1.27" fill="#2a6eb2"/>
<circle cx="379.60" cy="283.06" r="1.27" fill="#2a6eb2"/>
<circle cx="364.50" cy="285.95" r="1.27" fill="#2a6eb2"/>
<circle cx="376.00" cy="285.95" r="1.27" fill="#2a6eb2"/>
<circle cx="387.80" cy="285.95" r="1.27" fill="#2a6eb2"/>
<circle cx="413.90" cy="285.95" r="1.27" fill="#2a6eb2"/>
<circle cx="362.80" cy="288.84" r="1.27" fill="#2a6eb2"/>
<circle cx="391.90" cy="288.84" r="1.27" fill="#a6c8e6"/>
<circle cx="403.60" cy="285.95" r="1.27" fill="#a6c8e6"/>
<circle cx="408.20" cy="283.06" r="1.27" fill="#a6c8e6"/>
<circle cx="418.00" cy="280.18" r="1.27" fill="#2a6eb2"/>
<circle cx="420.00" cy="314.80" r="1.27" fill="#2a6eb2"/>
<circle cx="421.93" cy="314.80" r="1.27" fill="#2a6eb2"/>
<circle cx="423.85" cy="314.80" r="1.27" fill="#2a6eb2"/>
<circle cx="425.77" cy="314.80" r="1.27" fill="#2a6eb2"/>
<circle cx="427.70" cy="314.80" r="1.27" fill="#2a6eb2"/>
<circle cx="429.20" cy="314.80" r="1.27" fill="#2a6eb2"/>
<circle cx="431.14" cy="314.80" r="1.27" fill="#2a6eb2"/>
<circle cx="433.08" cy="314.80" r="1.27" fill="#2a6eb2"/>
<circle cx="435.02" cy="314.80" r="1.27" fill="#2a6eb2"/>
<circle cx="436.96" cy="314.80" r="1.27" fill="#2a6eb2"/>
<circle cx="438.90" cy="314.80" r="1.27" fill="#2a6eb2"/>
<circle cx="444.00" cy="314.80" r="1.27" fill="#a6c8e6"/>
<circle cx="447.60" cy="314.80" r="1.27" fill="#a6c8e6"/>
<circle cx="449.82" cy="314.80" r="1.27" fill="#a6c8e6"/>
<circle cx="452.03" cy="314.80" r="1.27" fill="#a6c8e6"/>
<circle cx="454.25" cy="314.80" r="1.27" fill="#a6c8e6"/>
<circle cx="456.47" cy="314.80" r="1.27" fill="#a6c8e6"/>
<circle cx="458.68" cy="314.80" r="1.27" fill="#a6c8e6"/>
<circle cx="460.90" cy="314.80" r="1.27" fill="#a6c8e6"/>
<circle cx="468.00" cy="314.80" r="1.27" fill="#2a6eb2"/>
<circle cx="469.93" cy="314.80" r="1.27" fill="#2a6eb2"/>
<circle cx="471.85" cy="314.80" r="1.27" fill="#2a6eb2"/>
<circle cx="473.77" cy="314.80" r="1.27" fill="#2a6eb2"/>
<circle cx="475.70" cy="314.80" r="1.27" fill="#2a6eb2"/>
<circle cx="480.30" cy="314.80" r="1.27" fill="#2a6eb2"/>
<circle cx="482.85" cy="314.80" r="1.27" fill="#2a6eb2"/>
<circle cx="485.40" cy="314.80" r="1.27" fill="#2a6eb2"/>
<circle cx="488.50" cy="314.80" r="1.27" fill="#a6c8e6"/>
<circle cx="490.00" cy="314.80" r="1.27" fill="#a6c8e6"/>
<circle cx="420.00" cy="311.92" r="1.27" fill="#2a6eb2"/>
<circle cx="422.10" cy="311.92" r="1.27" fill="#2a6eb2"/>
<circle cx="424.20" cy="311.92" r="1.27" fill="#2a6eb2"/>
<circle cx="426.30" cy="311.92" r="1.27" fill="#2a6eb2"/>
<circle cx="428.40" cy="311.92" r="1.27" fill="#2a6eb2"/>
<circle cx="430.50" cy="311.92" r="1.27" fill="#2a6eb2"/>
<circle cx="432.60" cy="311.92" r="1.27" fill="#2a6eb2"/>
<circle cx="434.70" cy="311.92" r="1.27" fill="#2a6eb2"/>
<circle cx="436.80" cy="311.92" r="1.27" fill="#2a6eb2"/>
<circle cx="438.90" cy="311.92" r="1.27" fill="#2a6eb2"/>
<circle cx="440.00" cy="311.92" r="1.27" fill="#a6c8e6"/>
<circle cx="442.19" cy="311.92" r="1.27" fill="#a6c8e6"/>
<circle cx="444.38" cy="311.92" r="1.27" fill="#a6c8e6"/>
<circle cx="446.57" cy="311.92" r="1.27" fill="#a6c8e6"/>
<circle cx="448.76" cy="311.92" r="1.27" fill="#a6c8e6"/>
<circle cx="450.95" cy="311.92" r="1.27" fill="#a6c8e6"/>
<circle cx="453.14" cy="311.92" r="1.27" fill="#a6c8e6"/>
<circle cx="455.33" cy="311.92" r="1.27" fill="#a6c8e6"/>
<circle cx="457.52" cy="311.92" r="1.27" fill="#a6c8e6"/>
<circle cx="459.71" cy="311.92" r="1.27" fill="#a6c8e6"/>
<circle cx="461.90" cy="311.92" r="1.27" fill="#a6c8e6"/>
<circle cx="468.00" cy="311.92" r="1.27" fill="#2a6eb2"/>
<circle cx="470.55" cy="311.92" r="1.27" fill="#2a6eb2"/>
<circle cx="473.10" cy="311.92" r="1.27" fill="#2a6eb2"/>
<circle cx="477.20" cy="311.92" r="1.27" fill="#2a6eb2"/>
<circle cx="479.25" cy="311.92" r="1.27" fill="#2a6eb2"/>
<circle cx="481.30" cy="311.92" r="1.27" fill="#2a6eb2"/>
<circle cx="483.35" cy="311.92" r="1.27" fill="#2a6eb2"/>
<circle cx="485.40" cy="311.92" r="1.27" fill="#2a6eb2"/>
<circle cx="488.00" cy="311.92" r="1.27" fill="#a6c8e6"/>
<circle cx="490.00" cy="311.92" r="1.27" fill="#a6c8e6"/>
<circle cx="420.00" cy="309.03" r="1.27" fill="#2a6eb2"/>
<circle cx="421.87" cy="309.03" r="1.27" fill="#2a6eb2"/>
<circle cx="423.73" cy="309.03" r="1.27" fill="#2a6eb2"/>
<circle cx="425.60" cy="309.03" r="1.27" fill="#2a6eb2"/>
<circle cx="434.80" cy="309.03" r="1.27" fill="#2a6eb2"/>
<circle cx="437.90" cy="309.03" r="1.27" fill="#2a6eb2"/>
<circle cx="440.00" cy="309.03" r="1.27" fill="#a6c8e6"/>
<circle cx="442.12" cy="309.03" r="1.27" fill="#a6c8e6"/>
<circle cx="444.23" cy="309.03" r="1.27" fill="#a6c8e6"/>
<circle cx="446.35" cy="309.03" r="1.27" fill="#a6c8e6"/>
<circle cx="448.47" cy="309.03" r="1.27" fill="#a6c8e6"/>
<circle cx="450.58" cy="309.03" r="1.27" fill="#a6c8e6"/>
<circle cx="452.70" cy="309.03" r="1.27" fill="#a6c8e6"/>
<circle cx="455.30" cy="309.03" r="1.27" fill="#a6c8e6"/>
<circle cx="457.50" cy="309.03" r="1.27" fill="#a6c8e6"/>
<circle cx="459.70" cy="309.03" r="1.27" fill="#a6c8e6"/>
<circle cx="461.90" cy="309.03" r="1.27" fill="#a6c8e6"/>
<circle cx="468.50" cy="309.03" r="1.27" fill="#2a6eb2"/>
<circle cx="470.10" cy="309.03" r="1.27" fill="#2a6eb2"/>
<circle cx="472.60" cy="309.03" r="1.27" fill="#2a6eb2"/>
<circle cx="474.83" cy="309.03" r="1.27" fill="#2a6eb2"/>
<circle cx="477.07" cy="309.03" r="1.27" fill="#2a6eb2"/>
<circle cx="479.30" cy="309.03" r="1.27" fill="#2a6eb2"/>
<circle cx="481.30" cy="309.03" r="1.27" fill="#2a6eb2"/>
<circle cx="483.90" cy="309.03" r="1.27" fill="#2a6eb2"/>
<circle cx="487.00" cy="309.03" r="1.27" fill="#a6c8e6"/>
<circle cx="490.00" cy="309.03" r="1.27" fill="#a6c8e6"/>
<circle cx="420.00" cy="306.15" r="1.27" fill="#2a6eb2"/>
<circle cx="422.00" cy="306.15" r="1.27" fill="#2a6eb2"/>
<circle cx="424.60" cy="306.15" r="1.27" fill="#2a6eb2"/>
<circle cx="427.70" cy="306.15" r="1.27" fill="#2a6eb2"/>
<circle cx="430.70" cy="306.15" r="1.27" fill="#2a6eb2"/>
<circle cx="433.30" cy="306.15" r="1.27" fill="#2a6eb2"/>
<circle cx="438.90" cy="306.15" r="1.27" fill="#a6c8e6"/>
<circle cx="440.40" cy="306.15" r="1.27" fill="#a6c8e6"/>
<circle cx="444.50" cy="306.15" r="1.27" fill="#a6c8e6"/>
<circle cx="446.68" cy="306.15" r="1.27" fill="#a6c8e6"/>
<circle cx="448.85" cy="306.15" r="1.27" fill="#a6c8e6"/>
<circle cx="451.02" cy="306.15" r="1.27" fill="#a6c8e6"/>
<circle cx="453.20" cy="306.15" r="1.27" fill="#a6c8e6"/>
<circle cx="455.38" cy="306.15" r="1.27" fill="#a6c8e6"/>
<circle cx="457.55" cy="306.15" r="1.27" fill="#a6c8e6"/>
<circle cx="459.72" cy="306.15" r="1.27" fill="#a6c8e6"/>
<circle cx="461.90" cy="306.15" r="1.27" fill="#a6c8e6"/>
<circle cx="469.00" cy="306.15" r="1.27" fill="#2a6eb2"/>
<circle cx="472.10" cy="306.15" r="1.27" fill="#2a6eb2"/>
<circle cx="474.70" cy="306.15" r="1.27" fill="#2a6eb2"/>
<circle cx="476.90" cy="306.15" r="1.27" fill="#2a6eb2"/>
<circle cx="479.10" cy="306.15" r="1.27" fill="#2a6eb2"/>
<circle cx="481.30" cy="306.15" r="1.27" fill="#2a6eb2"/>
<circle cx="424.10" cy="303.26" r="1.27" fill="#2a6eb2"/>
<circle cx="426.13" cy="303.26" r="1.27" fill="#2a6eb2"/>
<circle cx="428.17" cy="303.26" r="1.27" fill="#2a6eb2"/>
<circle cx="430.20" cy="303.26" r="1.27" fill="#2a6eb2"/>
<circle cx="438.90" cy="303.26" r="1.27" fill="#a6c8e6"/>
<circle cx="442.00" cy="303.26" r="1.27" fill="#a6c8e6"/>
<circle cx="446.60" cy="303.26" r="1.27" fill="#a6c8e6"/>
<circle cx="455.30" cy="303.26" r="1.27" fill="#a6c8e6"/>
<circle cx="457.50" cy="303.26" r="1.27" fill="#a6c8e6"/>
<circle cx="459.70" cy="303.26" r="1.27" fill="#a6c8e6"/>
<circle cx="461.90" cy="303.26" r="1.27" fill="#a6c8e6"/>
<circle cx="467.50" cy="303.26" r="1.27" fill="#2a6eb2"/>
<circle cx="473.60" cy="303.26" r="1.27" fill="#2a6eb2"/>
<circle cx="478.20" cy="303.26" r="1.27" fill="#2a6eb2"/>
<circle cx="484.40" cy="303.26" r="1.27" fill="#2a6eb2"/>
<circle cx="488.50" cy="303.26" r="1.27" fill="#a6c8e6"/>
<circle cx="420.00" cy="300.38" r="1.27" fill="#2a6eb2"/>
<circle cx="422.55" cy="300.38" r="1.27" fill="#2a6eb2"/>
<circle cx="425.10" cy="300.38" r="1.27" fill="#2a6eb2"/>
<circle cx="431.20" cy="300.38" r="1.27" fill="#2a6eb2"/>
<circle cx="435.80" cy="300.38" r="1.27" fill="#2a6eb2"/>
<circle cx="438.40" cy="300.38" r="1.27" fill="#2a6eb2"/>
<circle cx="444.00" cy="300.38" r="1.27" fill="#a6c8e6"/>
<circle cx="446.18" cy="300.38" r="1.27" fill="#a6c8e6"/>
<circle cx="448.35" cy="300.38" r="1.27" fill="#a6c8e6"/>
<circle cx="450.52" cy="300.38" r="1.27" fill="#a6c8e6"/>
<circle cx="452.70" cy="300.38" r="1.27" fill="#a6c8e6"/>
<circle cx="462.90" cy="300.38" r="1.27" fill="#a6c8e6"/>
<circle cx="470.60" cy="300.38" r="1.27" fill="#2a6eb2"/>
<circle cx="473.15" cy="300.38" r="1.27" fill="#2a6eb2"/>
<circle cx="475.70" cy="300.38" r="1.27" fill="#2a6eb2"/>
<circle cx="482.30" cy="300.38" r="1.27" fill="#2a6eb2"/>
<circle cx="429.20" cy="297.49" r="1.27" fill="#2a6eb2"/>
<circle cx="432.80" cy="297.49" r="1.27" fill="#2a6eb2"/>
<circle cx="441.00" cy="297.49" r="1.27" fill="#a6c8e6"/>
<circle cx="442.75" cy="297.49" r="1.27" fill="#a6c8e6"/>
<circle cx="444.50" cy="297.49" r="1.27" fill="#a6c8e6"/>
<circle cx="449.60" cy="297.49" r="1.27" fill="#a6c8e6"/>
<circle cx="465.00" cy="297.49" r="1.27" fill="#2a6eb2"/>
<circle cx="467.02" cy="297.49" r="1.27" fill="#2a6eb2"/>
<circle cx="469.05" cy="297.49" r="1.27" fill="#2a6eb2"/>
<circle cx="471.08" cy="297.49" r="1.27" fill="#2a6eb2"/>
<circle cx="473.10" cy="297.49" r="1.27" fill="#2a6eb2"/>
<circle cx="479.80" cy="297.49" r="1.27" fill="#2a6eb2"/>
<circle cx="484.90" cy="297.49" r="1.27" fill="#2a6eb2"/>
<circle cx="426.10" cy="294.61" r="1.27" fill="#2a6eb2"/>
<circle cx="433.30" cy="294.61" r="1.27" fill="#2a6eb2"/>
<circle cx="436.30" cy="294.61" r="1.27" fill="#2a6eb2"/>
<circle cx="443.50" cy="294.61" r="1.27" fill="#a6c8e6"/>
<circle cx="462.90" cy="294.61" r="1.27" fill="#a6c8e6"/>
<circle cx="482.80" cy="294.61" r="1.27" fill="#2a6eb2"/>
<circle cx="488.50" cy="294.61" r="1.27" fill="#a6c8e6"/>
<circle cx="437.40" cy="291.72" r="1.27" fill="#2a6eb2"/>
<circle cx="449.60" cy="291.72" r="1.27" fill="#a6c8e6"/>
<circle cx="471.60" cy="291.72" r="1.27" fill="#2a6eb2"/>
<circle cx="439.60" cy="268.64" r="1.27" fill="#a6c8e6"/>
<circle cx="442.30" cy="271.53" r="1.27" fill="#a6c8e6"/>
<circle cx="462.40" cy="271.53" r="1.27" fill="#a6c8e6"/>
<circle cx="439.90" cy="274.41" r="1.27" fill="#a6c8e6"/>
<circle cx="435.00" cy="274.41" r="1.27" fill="#2a6eb2"/>
<circle cx="476.20" cy="268.64" r="1.27" fill="#2a6eb2"/>
<circle cx="422.60" cy="280.18" r="1.27" fill="#2a6eb2"/>
<circle cx="424.60" cy="280.18" r="1.27" fill="#2a6eb2"/>
<circle cx="426.60" cy="280.18" r="1.27" fill="#2a6eb2"/>
<circle cx="474.20" cy="280.18" r="1.27" fill="#2a6eb2"/>
<circle cx="481.00" cy="280.18" r="1.27" fill="#2a6eb2"/>
<circle cx="426.60" cy="283.06" r="1.27" fill="#2a6eb2"/>
<circle cx="434.30" cy="283.06" r="1.27" fill="#2a6eb2"/>
<circle cx="430.70" cy="285.95" r="1.27" fill="#2a6eb2"/>
<circle cx="479.10" cy="285.95" r="1.27" fill="#2a6eb2"/>
<circle cx="445.00" cy="280.18" r="1.27" fill="#a6c8e6"/>
<circle cx="446.60" cy="280.18" r="1.27" fill="#a6c8e6"/>
<circle cx="448.10" cy="283.06" r="1.27" fill="#a6c8e6"/>
<circle cx="456.80" cy="285.95" r="1.27" fill="#a6c8e6"/>
<circle cx="443.00" cy="288.84" r="1.27" fill="#a6c8e6"/>
<circle cx="484.10" cy="277.30" r="1.27" fill="#2a6eb2"/>
<circle cx="490.00" cy="314.80" r="1.27" fill="#a6c8e6"/>
<circle cx="492.19" cy="314.80" r="1.27" fill="#a6c8e6"/>
<circle cx="494.37" cy="314.80" r="1.27" fill="#a6c8e6"/>
<circle cx="496.56" cy="314.80" r="1.27" fill="#a6c8e6"/>
<circle cx="498.74" cy="314.80" r="1.27" fill="#a6c8e6"/>
<circle cx="500.93" cy="314.80" r="1.27" fill="#a6c8e6"/>
<circle cx="503.11" cy="314.80" r="1.27" fill="#a6c8e6"/>
<circle cx="505.30" cy="314.80" r="1.27" fill="#a6c8e6"/>
<circle cx="508.40" cy="314.80" r="1.27" fill="#2a6eb2"/>
<circle cx="510.32" cy="314.80" r="1.27" fill="#2a6eb2"/>
<circle cx="512.25" cy="314.80" r="1.27" fill="#2a6eb2"/>
<circle cx="514.17" cy="314.80" r="1.27" fill="#2a6eb2"/>
<circle cx="516.10" cy="314.80" r="1.27" fill="#2a6eb2"/>
<circle cx="520.10" cy="314.80" r="1.27" fill="#2a6eb2"/>
<circle cx="521.20" cy="314.80" r="1.27" fill="#2a6eb2"/>
<circle cx="523.70" cy="314.80" r="1.27" fill="#a6c8e6"/>
<circle cx="526.10" cy="314.80" r="1.27" fill="#a6c8e6"/>
<circle cx="528.50" cy="314.80" r="1.27" fill="#a6c8e6"/>
<circle cx="530.90" cy="314.80" r="1.27" fill="#a6c8e6"/>
<circle cx="532.90" cy="314.80" r="1.27" fill="#a6c8e6"/>
<circle cx="535.00" cy="314.80" r="1.27" fill="#a6c8e6"/>
<circle cx="538.00" cy="314.80" r="1.27" fill="#a6c8e6"/>
<circle cx="541.10" cy="314.80" r="1.27" fill="#a6c8e6"/>
<circle cx="544.70" cy="314.80" r="1.27" fill="#2a6eb2"/>
<circle cx="547.00" cy="314.80" r="1.27" fill="#2a6eb2"/>
<circle cx="549.30" cy="314.80" r="1.27" fill="#2a6eb2"/>
<circle cx="550.80" cy="314.80" r="1.27" fill="#2a6eb2"/>
<circle cx="553.10" cy="314.80" r="1.27" fill="#2a6eb2"/>
<circle cx="555.40" cy="314.80" r="1.27" fill="#2a6eb2"/>
<circle cx="557.50" cy="314.80" r="1.27" fill="#a6c8e6"/>
<circle cx="560.00" cy="314.80" r="1.27" fill="#a6c8e6"/>
<circle cx="490.00" cy="311.92" r="1.27" fill="#a6c8e6"/>
<circle cx="492.19" cy="311.92" r="1.27" fill="#a6c8e6"/>
<circle cx="494.37" cy="311.92" r="1.27" fill="#a6c8e6"/>
<circle cx="496.56" cy="311.92" r="1.27" fill="#a6c8e6"/>
<circle cx="498.74" cy="311.92" r="1.27" fill="#a6c8e6"/>
<circle cx="500.93" cy="311.92" r="1.27" fill="#a6c8e6"/>
<circle cx="503.11" cy="311.92" r="1.27" fill="#a6c8e6"/>
<circle cx="505.30" cy="311.92" r="1.27" fill="#a6c8e6"/>
<circle cx="506.30" cy="311.92" r="1.27" fill="#2a6eb2"/>
<circle cx="508.50" cy="311.92" r="1.27" fill="#2a6eb2"/>
<circle cx="510.70" cy="311.92" r="1.27" fill="#2a6eb2"/>
<circle cx="512.90" cy="311.92" r="1.27" fill="#2a6eb2"/>
<circle cx="515.10" cy="311.92" r="1.27" fill="#2a6eb2"/>
<circle cx="517.30" cy="311.92" r="1.27" fill="#2a6eb2"/>
<circle cx="519.50" cy="311.92" r="1.27" fill="#2a6eb2"/>
<circle cx="521.70" cy="311.92" r="1.27" fill="#2a6eb2"/>
<circle cx="525.80" cy="311.92" r="1.27" fill="#a6c8e6"/>
<circle cx="528.35" cy="311.92" r="1.27" fill="#a6c8e6"/>
<circle cx="530.90" cy="311.92" r="1.27" fill="#a6c8e6"/>
<circle cx="532.90" cy="311.92" r="1.27" fill="#a6c8e6"/>
<circle cx="534.95" cy="311.92" r="1.27" fill="#a6c8e6"/>
<circle cx="537.00" cy="311.92" r="1.27" fill="#a6c8e6"/>
<circle cx="539.05" cy="311.92" r="1.27" fill="#a6c8e6"/>
<circle cx="541.10" cy="311.92" r="1.27" fill="#a6c8e6"/>
<circle cx="542.10" cy="311.92" r="1.27" fill="#2a6eb2"/>
<circle cx="543.60" cy="311.92" r="1.27" fill="#2a6eb2"/>
<circle cx="545.70" cy="311.92" r="1.27" fill="#2a6eb2"/>
<circle cx="547.57" cy="311.92" r="1.27" fill="#2a6eb2"/>
<circle cx="549.43" cy="311.92" r="1.27" fill="#2a6eb2"/>
<circle cx="551.30" cy="311.92" r="1.27" fill="#2a6eb2"/>
<circle cx="555.40" cy="311.92" r="1.27" fill="#2a6eb2"/>
<circle cx="557.40" cy="311.92" r="1.27" fill="#2a6eb2"/>
<circle cx="491.00" cy="309.03" r="1.27" fill="#a6c8e6"/>
<circle cx="495.60" cy="309.03" r="1.27" fill="#a6c8e6"/>
<circle cx="498.70" cy="309.03" r="1.27" fill="#a6c8e6"/>
<circle cx="501.80" cy="309.03" r="1.27" fill="#a6c8e6"/>
<circle cx="503.30" cy="309.03" r="1.27" fill="#a6c8e6"/>
<circle cx="510.40" cy="309.03" r="1.27" fill="#2a6eb2"/>
<circle cx="512.70" cy="309.03" r="1.27" fill="#2a6eb2"/>
<circle cx="515.00" cy="309.03" r="1.27" fill="#2a6eb2"/>
<circle cx="517.30" cy="309.03" r="1.27" fill="#2a6eb2"/>
<circle cx="519.60" cy="309.03" r="1.27" fill="#2a6eb2"/>
<circle cx="524.20" cy="309.03" r="1.27" fill="#a6c8e6"/>
<circle cx="526.27" cy="309.03" r="1.27" fill="#a6c8e6"/>
<circle cx="528.33" cy="309.03" r="1.27" fill="#a6c8e6"/>
<circle cx="530.40" cy="309.03" r="1.27" fill="#a6c8e6"/>
<circle cx="537.50" cy="309.03" r="1.27" fill="#a6c8e6"/>
<circle cx="544.70" cy="309.03" r="1.27" fill="#2a6eb2"/>
<circle cx="547.00" cy="309.03" r="1.27" fill="#2a6eb2"/>
<circle cx="549.30" cy="309.03" r="1.27" fill="#2a6eb2"/>
<circle cx="551.80" cy="309.03" r="1.27" fill="#2a6eb2"/>
<circle cx="553.67" cy="309.03" r="1.27" fill="#2a6eb2"/>
<circle cx="555.53" cy="309.03" r="1.27" fill="#2a6eb2"/>
<circle cx="557.40" cy="309.03" r="1.27" fill="#2a6eb2"/>
<circle cx="490.00" cy="306.15" r="1.27" fill="#a6c8e6"/>
<circle cx="492.30" cy="306.15" r="1.27" fill="#a6c8e6"/>
<circle cx="494.60" cy="306.15" r="1.27" fill="#a6c8e6"/>
<circle cx="496.90" cy="306.15" r="1.27" fill="#a6c8e6"/>
<circle cx="499.20" cy="306.15" r="1.27" fill="#a6c8e6"/>
<circle cx="502.30" cy="306.15" r="1.27" fill="#a6c8e6"/>
<circle cx="511.00" cy="306.15" r="1.27" fill="#2a6eb2"/>
<circle cx="513.25" cy="306.15" r="1.27" fill="#2a6eb2"/>
<circle cx="515.50" cy="306.15" r="1.27" fill="#2a6eb2"/>
<circle cx="519.10" cy="306.15" r="1.27" fill="#2a6eb2"/>
<circle cx="521.15" cy="306.15" r="1.27" fill="#2a6eb2"/>
<circle cx="523.20" cy="306.15" r="1.27" fill="#2a6eb2"/>
<circle cx="524.70" cy="306.15" r="1.27" fill="#a6c8e6"/>
<circle cx="526.75" cy="306.15" r="1.27" fill="#a6c8e6"/>
<circle cx="528.80" cy="306.15" r="1.27" fill="#a6c8e6"/>
<circle cx="532.90" cy="306.15" r="1.27" fill="#a6c8e6"/>
<circle cx="537.00" cy="306.15" r="1.27" fill="#a6c8e6"/>
<circle cx="544.70" cy="306.15" r="1.27" fill="#2a6eb2"/>
<circle cx="546.57" cy="306.15" r="1.27" fill="#2a6eb2"/>
<circle cx="548.43" cy="306.15" r="1.27" fill="#2a6eb2"/>
<circle cx="550.30" cy="306.15" r="1.27" fill="#2a6eb2"/>
<circle cx="553.90" cy="306.15" r="1.27" fill="#2a6eb2"/>
<circle cx="491.00" cy="303.26" r="1.27" fill="#a6c8e6"/>
<circle cx="493.07" cy="303.26" r="1.27" fill="#a6c8e6"/>
<circle cx="495.13" cy="303.26" r="1.27" fill="#a6c8e6"/>
<circle cx="497.20" cy="303.26" r="1.27" fill="#a6c8e6"/>
<circle cx="499.70" cy="303.26" r="1.27" fill="#a6c8e6"/>
<circle cx="502.25" cy="303.26" r="1.27" fill="#a6c8e6"/>
<circle cx="504.80" cy="303.26" r="1.27" fill="#a6c8e6"/>
<circle cx="511.00" cy="303.26" r="1.27" fill="#2a6eb2"/>
<circle cx="513.03" cy="303.26" r="1.27" fill="#2a6eb2"/>
<circle cx="515.07" cy="303.26" r="1.27" fill="#2a6eb2"/>
<circle cx="517.10" cy="303.26" r="1.27" fill="#2a6eb2"/>
<circle cx="519.13" cy="303.26" r="1.27" fill="#2a6eb2"/>
<circle cx="521.17" cy="303.26" r="1.27" fill="#2a6eb2"/>
<circle cx="523.20" cy="303.26" r="1.27" fill="#2a6eb2"/>
<circle cx="524.70" cy="303.26" r="1.27" fill="#a6c8e6"/>
<circle cx="526.75" cy="303.26" r="1.27" fill="#a6c8e6"/>
<circle cx="528.80" cy="303.26" r="1.27" fill="#a6c8e6"/>
<circle cx="535.00" cy="303.26" r="1.27" fill="#a6c8e6"/>
<circle cx="538.00" cy="303.26" r="1.27" fill="#a6c8e6"/>
<circle cx="545.20" cy="303.26" r="1.27" fill="#2a6eb2"/>
<circle cx="549.80" cy="303.26" r="1.27" fill="#2a6eb2"/>
<circle cx="551.67" cy="303.26" r="1.27" fill="#2a6eb2"/>
<circle cx="553.53" cy="303.26" r="1.27" fill="#2a6eb2"/>
<circle cx="555.40" cy="303.26" r="1.27" fill="#2a6eb2"/>
<circle cx="496.60" cy="300.38" r="1.27" fill="#a6c8e6"/>
<circle cx="498.20" cy="300.38" r="1.27" fill="#a6c8e6"/>
<circle cx="502.80" cy="300.38" r="1.27" fill="#a6c8e6"/>
<circle cx="512.50" cy="300.38" r="1.27" fill="#2a6eb2"/>
<circle cx="514.87" cy="300.38" r="1.27" fill="#2a6eb2"/>
<circle cx="517.23" cy="300.38" r="1.27" fill="#2a6eb2"/>
<circle cx="519.60" cy="300.38" r="1.27" fill="#2a6eb2"/>
<circle cx="524.70" cy="300.38" r="1.27" fill="#a6c8e6"/>
<circle cx="526.75" cy="300.38" r="1.27" fill="#a6c8e6"/>
<circle cx="528.80" cy="300.38" r="1.27" fill="#a6c8e6"/>
<circle cx="546.70" cy="300.38" r="1.27" fill="#2a6eb2"/>
<circle cx="550.30" cy="300.38" r="1.27" fill="#2a6eb2"/>
<circle cx="552.30" cy="300.38" r="1.27" fill="#2a6eb2"/>
<circle cx="556.40" cy="300.38" r="1.27" fill="#a6c8e6"/>
<circle cx="499.70" cy="297.49" r="1.27" fill="#a6c8e6"/>
<circle cx="504.30" cy="297.49" r="1.27" fill="#a6c8e6"/>
<circle cx="518.60" cy="297.49" r="1.27" fill="#2a6eb2"/>
<circle cx="520.63" cy="297.49" r="1.27" fill="#2a6eb2"/>
<circle cx="522.67" cy="297.49" r="1.27" fill="#2a6eb2"/>
<circle cx="524.70" cy="297.49" r="1.27" fill="#2a6eb2"/>
<circle cx="530.40" cy="297.49" r="1.27" fill="#a6c8e6"/>
<circle cx="533.40" cy="297.49" r="1.27" fill="#a6c8e6"/>
<circle cx="535.63" cy="297.49" r="1.27" fill="#a6c8e6"/>
<circle cx="537.87" cy="297.49" r="1.27" fill="#a6c8e6"/>
<circle cx="540.10" cy="297.49" r="1.27" fill="#a6c8e6"/>
<circle cx="490.00" cy="294.61" r="1.27" fill="#a6c8e6"/>
<circle cx="500.70" cy="294.61" r="1.27" fill="#a6c8e6"/>
<circle cx="510.40" cy="294.61" r="1.27" fill="#2a6eb2"/>
<circle cx="512.30" cy="294.61" r="1.27" fill="#2a6eb2"/>
<circle cx="514.20" cy="294.61" r="1.27" fill="#2a6eb2"/>
<circle cx="516.10" cy="294.61" r="1.27" fill="#2a6eb2"/>
<circle cx="521.70" cy="294.61" r="1.27" fill="#2a6eb2"/>
<circle cx="523.20" cy="294.61" r="1.27" fill="#2a6eb2"/>
<circle cx="525.80" cy="294.61" r="1.27" fill="#a6c8e6"/>
<circle cx="527.55" cy="294.61" r="1.27" fill="#a6c8e6"/>
<circle cx="529.30" cy="294.61" r="1.27" fill="#a6c8e6"/>
<circle cx="538.00" cy="294.61" r="1.27" fill="#a6c8e6"/>
<circle cx="540.10" cy="294.61" r="1.27" fill="#a6c8e6"/>
<circle cx="550.30" cy="294.61" r="1.27" fill="#2a6eb2"/>
<circle cx="552.17" cy="294.61" r="1.27" fill="#2a6eb2"/>
<circle cx="554.03" cy="294.61" r="1.27" fill="#2a6eb2"/>
<circle cx="555.90" cy="294.61" r="1.27" fill="#2a6eb2"/>
<circle cx="559.00" cy="294.61" r="1.27" fill="#a6c8e6"/>
<circle cx="493.10" cy="291.72" r="1.27" fill="#a6c8e6"/>
<circle cx="522.70" cy="291.72" r="1.27" fill="#2a6eb2"/>
<circle cx="556.90" cy="291.72" r="1.27" fill="#2a6eb2"/>
<circle cx="509.40" cy="268.64" r="1.27" fill="#2a6eb2"/>
<circle cx="544.00" cy="268.64" r="1.27" fill="#2a6eb2"/>
<circle cx="517.10" cy="271.53" r="1.27" fill="#2a6eb2"/>
<circle cx="521.70" cy="271.53" r="1.27" fill="#2a6eb2"/>
<circle cx="519.10" cy="277.30" r="1.27" fill="#2a6eb2"/>
<circle cx="521.20" cy="277.30" r="1.27" fill="#2a6eb2"/>
<circle cx="549.80" cy="277.30" r="1.27" fill="#2a6eb2"/>
<circle cx="510.20" cy="285.95" r="1.27" fill="#2a6eb2"/>
<circle cx="542.10" cy="285.95" r="1.27" fill="#2a6eb2"/>
<circle cx="516.60" cy="288.84" r="1.27" fill="#2a6eb2"/>
<circle cx="542.10" cy="288.84" r="1.27" fill="#2a6eb2"/>
<circle cx="527.80" cy="268.64" r="1.27" fill="#a6c8e6"/>
<circle cx="536.00" cy="268.64" r="1.27" fill="#a6c8e6"/>
<circle cx="526.80" cy="274.41" r="1.27" fill="#a6c8e6"/>
<circle cx="539.60" cy="274.41" r="1.27" fill="#a6c8e6"/>
<circle cx="542.10" cy="274.41" r="1.27" fill="#2a6eb2"/>
<circle cx="545.20" cy="274.41" r="1.27" fill="#2a6eb2"/>
<circle cx="491.50" cy="277.30" r="1.27" fill="#a6c8e6"/>
<circle cx="497.20" cy="280.18" r="1.27" fill="#a6c8e6"/>
<circle cx="530.40" cy="280.18" r="1.27" fill="#a6c8e6"/>
<circle cx="532.40" cy="280.18" r="1.27" fill="#a6c8e6"/>
<circle cx="541.10" cy="280.18" r="1.27" fill="#2a6eb2"/>
<circle cx="543.10" cy="280.18" r="1.27" fill="#2a6eb2"/>
<circle cx="525.30" cy="283.06" r="1.27" fill="#a6c8e6"/>
<circle cx="525.80" cy="285.95" r="1.27" fill="#a6c8e6"/>
<circle cx="528.80" cy="288.84" r="1.27" fill="#a6c8e6"/>
<circle cx="538.50" cy="288.84" r="1.27" fill="#a6c8e6"/>
<circle cx="558.00" cy="288.84" r="1.27" fill="#a6c8e6"/>
<circle cx="491.00" cy="288.84" r="1.27" fill="#a6c8e6"/>
<circle cx="494.00" cy="288.84" r="1.27" fill="#a6c8e6"/>
<circle cx="560.00" cy="314.80" r="1.27" fill="#a6c8e6"/>
<circle cx="562.17" cy="314.80" r="1.27" fill="#a6c8e6"/>
<circle cx="564.35" cy="314.80" r="1.27" fill="#a6c8e6"/>
<circle cx="566.53" cy="314.80" r="1.27" fill="#a6c8e6"/>
<circle cx="568.70" cy="314.80" r="1.27" fill="#a6c8e6"/>
<circle cx="570.20" cy="314.80" r="1.27" fill="#a6c8e6"/>
<circle cx="577.40" cy="314.80" r="1.27" fill="#2a6eb2"/>
<circle cx="579.15" cy="314.80" r="1.27" fill="#2a6eb2"/>
<circle cx="580.90" cy="314.80" r="1.27" fill="#2a6eb2"/>
<circle cx="583.00" cy="314.80" r="1.27" fill="#a6c8e6"/>
<circle cx="585.30" cy="314.80" r="1.27" fill="#a6c8e6"/>
<circle cx="587.60" cy="314.80" r="1.27" fill="#a6c8e6"/>
<circle cx="589.60" cy="314.80" r="1.27" fill="#a6c8e6"/>
<circle cx="592.15" cy="314.80" r="1.27" fill="#a6c8e6"/>
<circle cx="594.70" cy="314.80" r="1.27" fill="#a6c8e6"/>
<circle cx="597.30" cy="314.80" r="1.27" fill="#2a6eb2"/>
<circle cx="600.90" cy="314.80" r="1.27" fill="#2a6eb2"/>
<circle cx="602.40" cy="314.80" r="1.27" fill="#2a6eb2"/>
<circle cx="607.00" cy="314.80" r="1.27" fill="#a6c8e6"/>
<circle cx="609.55" cy="314.80" r="1.27" fill="#a6c8e6"/>
<circle cx="612.10" cy="314.80" r="1.27" fill="#a6c8e6"/>
<circle cx="614.20" cy="314.80" r="1.27" fill="#2a6eb2"/>
<circle cx="616.35" cy="314.80" r="1.27" fill="#2a6eb2"/>
<circle cx="618.51" cy="314.80" r="1.27" fill="#2a6eb2"/>
<circle cx="620.66" cy="314.80" r="1.27" fill="#2a6eb2"/>
<circle cx="622.82" cy="314.80" r="1.27" fill="#2a6eb2"/>
<circle cx="624.97" cy="314.80" r="1.27" fill="#2a6eb2"/>
<circle cx="627.12" cy="314.80" r="1.27" fill="#2a6eb2"/>
<circle cx="629.28" cy="314.80" r="1.27" fill="#2a6eb2"/>
<circle cx="631.43" cy="314.80" r="1.27" fill="#2a6eb2"/>
<circle cx="633.58" cy="314.80" r="1.27" fill="#2a6eb2"/>
<circle cx="635.74" cy="314.80" r="1.27" fill="#2a6eb2"/>
<circle cx="637.89" cy="314.80" r="1.27" fill="#2a6eb2"/>
<circle cx="640.05" cy="314.80" r="1.27" fill="#2a6eb2"/>
<circle cx="642.20" cy="314.80" r="1.27" fill="#2a6eb2"/>
<circle cx="561.50" cy="311.92" r="1.27" fill="#a6c8e6"/>
<circle cx="565.10" cy="311.92" r="1.27" fill="#a6c8e6"/>
<circle cx="566.90" cy="311.92" r="1.27" fill="#a6c8e6"/>
<circle cx="568.70" cy="311.92" r="1.27" fill="#a6c8e6"/>
<circle cx="572.80" cy="311.92" r="1.27" fill="#2a6eb2"/>
<circle cx="578.90" cy="311.92" r="1.27" fill="#2a6eb2"/>
<circle cx="581.20" cy="311.92" r="1.27" fill="#2a6eb2"/>
<circle cx="583.50" cy="311.92" r="1.27" fill="#2a6eb2"/>
<circle cx="586.60" cy="311.92" r="1.27" fill="#a6c8e6"/>
<circle cx="590.70" cy="311.92" r="1.27" fill="#a6c8e6"/>
<circle cx="592.70" cy="311.92" r="1.27" fill="#a6c8e6"/>
<circle cx="594.70" cy="311.92" r="1.27" fill="#a6c8e6"/>
<circle cx="597.80" cy="311.92" r="1.27" fill="#2a6eb2"/>
<circle cx="601.40" cy="311.92" r="1.27" fill="#2a6eb2"/>
<circle cx="604.00" cy="311.92" r="1.27" fill="#2a6eb2"/>
<circle cx="607.50" cy="311.92" r="1.27" fill="#a6c8e6"/>
<circle cx="609.80" cy="311.92" r="1.27" fill="#a6c8e6"/>
<circle cx="612.10" cy="311.92" r="1.27" fill="#a6c8e6"/>
<circle cx="613.10" cy="311.92" r="1.27" fill="#2a6eb2"/>
<circle cx="615.18" cy="311.92" r="1.27" fill="#2a6eb2"/>
<circle cx="617.26" cy="311.92" r="1.27" fill="#2a6eb2"/>
<circle cx="619.34" cy="311.92" r="1.27" fill="#2a6eb2"/>
<circle cx="621.41" cy="311.92" r="1.27" fill="#2a6eb2"/>
<circle cx="623.49" cy="311.92" r="1.27" fill="#2a6eb2"/>
<circle cx="625.57" cy="311.92" r="1.27" fill="#2a6eb2"/>
<circle cx="627.65" cy="311.92" r="1.27" fill="#2a6eb2"/>
<circle cx="629.73" cy="311.92" r="1.27" fill="#2a6eb2"/>
<circle cx="631.81" cy="311.92" r="1.27" fill="#2a6eb2"/>
<circle cx="633.89" cy="311.92" r="1.27" fill="#2a6eb2"/>
<circle cx="635.96" cy="311.92" r="1.27" fill="#2a6eb2"/>
<circle cx="638.04" cy="311.92" r="1.27" fill="#2a6eb2"/>
<circle cx="640.12" cy="311.92" r="1.27" fill="#2a6eb2"/>
<circle cx="642.20" cy="311.92" r="1.27" fill="#2a6eb2"/>
<circle cx="562.00" cy="309.03" r="1.27" fill="#a6c8e6"/>
<circle cx="564.10" cy="309.03" r="1.27" fill="#a6c8e6"/>
<circle cx="567.20" cy="309.03" r="1.27" fill="#a6c8e6"/>
<circle cx="569.20" cy="309.03" r="1.27" fill="#a6c8e6"/>
<circle cx="571.20" cy="309.03" r="1.27" fill="#a6c8e6"/>
<circle cx="572.30" cy="309.03" r="1.27" fill="#2a6eb2"/>
<circle cx="574.05" cy="309.03" r="1.27" fill="#2a6eb2"/>
<circle cx="575.80" cy="309.03" r="1.27" fill="#2a6eb2"/>
<circle cx="577.90" cy="309.03" r="1.27" fill="#2a6eb2"/>
<circle cx="580.45" cy="309.03" r="1.27" fill="#2a6eb2"/>
<circle cx="583.00" cy="309.03" r="1.27" fill="#2a6eb2"/>
<circle cx="584.50" cy="309.03" r="1.27" fill="#a6c8e6"/>
<circle cx="588.10" cy="309.03" r="1.27" fill="#a6c8e6"/>
<circle cx="592.70" cy="309.03" r="1.27" fill="#a6c8e6"/>
<circle cx="594.70" cy="309.03" r="1.27" fill="#a6c8e6"/>
<circle cx="599.90" cy="309.03" r="1.27" fill="#2a6eb2"/>
<circle cx="601.95" cy="309.03" r="1.27" fill="#2a6eb2"/>
<circle cx="604.00" cy="309.03" r="1.27" fill="#2a6eb2"/>
<circle cx="605.00" cy="309.03" r="1.27" fill="#a6c8e6"/>
<circle cx="607.50" cy="309.03" r="1.27" fill="#a6c8e6"/>
<circle cx="610.00" cy="309.03" r="1.27" fill="#a6c8e6"/>
<circle cx="615.70" cy="309.03" r="1.27" fill="#2a6eb2"/>
<circle cx="618.40" cy="309.03" r="1.27" fill="#2a6eb2"/>
<circle cx="620.75" cy="309.03" r="1.27" fill="#2a6eb2"/>
<circle cx="623.10" cy="309.03" r="1.27" fill="#2a6eb2"/>
<circle cx="625.45" cy="309.03" r="1.27" fill="#2a6eb2"/>
<circle cx="627.80" cy="309.03" r="1.27" fill="#2a6eb2"/>
<circle cx="633.70" cy="309.03" r="1.27" fill="#2a6eb2"/>
<circle cx="636.25" cy="309.03" r="1.27" fill="#2a6eb2"/>
<circle cx="638.80" cy="309.03" r="1.27" fill="#2a6eb2"/>
<circle cx="561.00" cy="306.15" r="1.27" fill="#a6c8e6"/>
<circle cx="563.30" cy="306.15" r="1.27" fill="#a6c8e6"/>
<circle cx="565.60" cy="306.15" r="1.27" fill="#a6c8e6"/>
<circle cx="567.90" cy="306.15" r="1.27" fill="#a6c8e6"/>
<circle cx="570.20" cy="306.15" r="1.27" fill="#a6c8e6"/>
<circle cx="572.80" cy="306.15" r="1.27" fill="#2a6eb2"/>
<circle cx="577.40" cy="306.15" r="1.27" fill="#2a6eb2"/>
<circle cx="579.70" cy="306.15" r="1.27" fill="#2a6eb2"/>
<circle cx="582.00" cy="306.15" r="1.27" fill="#2a6eb2"/>
<circle cx="583.50" cy="306.15" r="1.27" fill="#a6c8e6"/>
<circle cx="585.54" cy="306.15" r="1.27" fill="#a6c8e6"/>
<circle cx="587.58" cy="306.15" r="1.27" fill="#a6c8e6"/>
<circle cx="589.62" cy="306.15" r="1.27" fill="#a6c8e6"/>
<circle cx="591.66" cy="306.15" r="1.27" fill="#a6c8e6"/>
<circle cx="593.70" cy="306.15" r="1.27" fill="#a6c8e6"/>
<circle cx="595.80" cy="306.15" r="1.27" fill="#2a6eb2"/>
<circle cx="600.40" cy="306.15" r="1.27" fill="#2a6eb2"/>
<circle cx="602.20" cy="306.15" r="1.27" fill="#2a6eb2"/>
<circle cx="604.00" cy="306.15" r="1.27" fill="#2a6eb2"/>
<circle cx="607.50" cy="306.15" r="1.27" fill="#a6c8e6"/>
<circle cx="609.37" cy="306.15" r="1.27" fill="#a6c8e6"/>
<circle cx="611.23" cy="306.15" r="1.27" fill="#a6c8e6"/>
<circle cx="613.10" cy="306.15" r="1.27" fill="#a6c8e6"/>
<circle cx="619.30" cy="306.15" r="1.27" fill="#2a6eb2"/>
<circle cx="621.85" cy="306.15" r="1.27" fill="#2a6eb2"/>
<circle cx="624.40" cy="306.15" r="1.27" fill="#2a6eb2"/>
<circle cx="632.90" cy="306.15" r="1.27" fill="#2a6eb2"/>
<circle cx="641.40" cy="306.15" r="1.27" fill="#2a6eb2"/>
<circle cx="564.60" cy="303.26" r="1.27" fill="#a6c8e6"/>
<circle cx="566.65" cy="303.26" r="1.27" fill="#a6c8e6"/>
<circle cx="568.70" cy="303.26" r="1.27" fill="#a6c8e6"/>
<circle cx="579.40" cy="303.26" r="1.27" fill="#2a6eb2"/>
<circle cx="584.00" cy="303.26" r="1.27" fill="#a6c8e6"/>
<circle cx="586.05" cy="303.26" r="1.27" fill="#a6c8e6"/>
<circle cx="588.10" cy="303.26" r="1.27" fill="#a6c8e6"/>
<circle cx="591.70" cy="303.26" r="1.27" fill="#a6c8e6"/>
<circle cx="593.70" cy="303.26" r="1.27" fill="#a6c8e6"/>
<circle cx="598.30" cy="303.26" r="1.27" fill="#2a6eb2"/>
<circle cx="601.40" cy="303.26" r="1.27" fill="#2a6eb2"/>
<circle cx="608.50" cy="303.26" r="1.27" fill="#a6c8e6"/>
<circle cx="611.10" cy="303.26" r="1.27" fill="#a6c8e6"/>
<circle cx="613.60" cy="303.26" r="1.27" fill="#2a6eb2"/>
<circle cx="622.80" cy="303.26" r="1.27" fill="#2a6eb2"/>
<circle cx="636.30" cy="303.26" r="1.27" fill="#2a6eb2"/>
<circle cx="561.50" cy="300.38" r="1.27" fill="#a6c8e6"/>
<circle cx="563.30" cy="300.38" r="1.27" fill="#a6c8e6"/>
<circle cx="565.10" cy="300.38" r="1.27" fill="#a6c8e6"/>
<circle cx="574.30" cy="300.38" r="1.27" fill="#2a6eb2"/>
<circle cx="579.40" cy="300.38" r="1.27" fill="#2a6eb2"/>
<circle cx="589.60" cy="300.38" r="1.27" fill="#a6c8e6"/>
<circle cx="593.20" cy="300.38" r="1.27" fill="#a6c8e6"/>
<circle cx="598.80" cy="300.38" r="1.27" fill="#2a6eb2"/>
<circle cx="601.90" cy="300.38" r="1.27" fill="#2a6eb2"/>
<circle cx="609.00" cy="300.38" r="1.27" fill="#a6c8e6"/>
<circle cx="611.05" cy="300.38" r="1.27" fill="#a6c8e6"/>
<circle cx="613.10" cy="300.38" r="1.27" fill="#a6c8e6"/>
<circle cx="615.70" cy="300.38" r="1.27" fill="#2a6eb2"/>
<circle cx="617.60" cy="300.38" r="1.27" fill="#2a6eb2"/>
<circle cx="624.40" cy="300.38" r="1.27" fill="#2a6eb2"/>
<circle cx="626.90" cy="300.38" r="1.27" fill="#2a6eb2"/>
<circle cx="629.50" cy="300.38" r="1.27" fill="#2a6eb2"/>
<circle cx="568.70" cy="297.49" r="1.27" fill="#a6c8e6"/>
<circle cx="572.30" cy="297.49" r="1.27" fill="#2a6eb2"/>
<circle cx="575.30" cy="297.49" r="1.27" fill="#2a6eb2"/>
<circle cx="578.40" cy="297.49" r="1.27" fill="#2a6eb2"/>
<circle cx="583.00" cy="297.49" r="1.27" fill="#2a6eb2"/>
<circle cx="585.00" cy="297.49" r="1.27" fill="#a6c8e6"/>
<circle cx="588.10" cy="297.49" r="1.27" fill="#a6c8e6"/>
<circle cx="593.20" cy="297.49" r="1.27" fill="#a6c8e6"/>
<circle cx="600.40" cy="297.49" r="1.27" fill="#2a6eb2"/>
<circle cx="602.45" cy="297.49" r="1.27" fill="#2a6eb2"/>
<circle cx="604.50" cy="297.49" r="1.27" fill="#2a6eb2"/>
<circle cx="609.00" cy="297.49" r="1.27" fill="#a6c8e6"/>
<circle cx="612.10" cy="297.49" r="1.27" fill="#a6c8e6"/>
<circle cx="615.00" cy="297.49" r="1.27" fill="#2a6eb2"/>
<circle cx="616.70" cy="297.49" r="1.27" fill="#2a6eb2"/>
<circle cx="618.40" cy="297.49" r="1.27" fill="#2a6eb2"/>
<circle cx="624.40" cy="297.49" r="1.27" fill="#2a6eb2"/>
<circle cx="626.00" cy="297.49" r="1.27" fill="#2a6eb2"/>
<circle cx="633.70" cy="297.49" r="1.27" fill="#2a6eb2"/>
<circle cx="635.40" cy="297.49" r="1.27" fill="#2a6eb2"/>
<circle cx="560.00" cy="294.61" r="1.27" fill="#a6c8e6"/>
<circle cx="562.30" cy="294.61" r="1.27" fill="#a6c8e6"/>
<circle cx="564.60" cy="294.61" r="1.27" fill="#a6c8e6"/>
<circle cx="578.90" cy="294.61" r="1.27" fill="#2a6eb2"/>
<circle cx="584.50" cy="294.61" r="1.27" fill="#a6c8e6"/>
<circle cx="590.70" cy="294.61" r="1.27" fill="#a6c8e6"/>
<circle cx="610.60" cy="294.61" r="1.27" fill="#a6c8e6"/>
<circle cx="627.80" cy="294.61" r="1.27" fill="#2a6eb2"/>
<circle cx="638.80" cy="294.61" r="1.27" fill="#2a6eb2"/>
<circle cx="578.40" cy="291.72" r="1.27" fill="#2a6eb2"/>
<circle cx="584.00" cy="291.72" r="1.27" fill="#a6c8e6"/>
<circle cx="586.60" cy="291.72" r="1.27" fill="#a6c8e6"/>
<circle cx="591.70" cy="291.72" r="1.27" fill="#a6c8e6"/>
<circle cx="601.40" cy="291.72" r="1.27" fill="#2a6eb2"/>
<circle cx="641.40" cy="291.72" r="1.27" fill="#2a6eb2"/>
<circle cx="626.00" cy="288.84" r="1.27" fill="#2a6eb2"/>
<circle cx="634.60" cy="288.84" r="1.27" fill="#2a6eb2"/>
<circle cx="642.20" cy="283.06" r="1.27" fill="#2a6eb2"/>
<circle cx="640.20" cy="280.18" r="1.27" fill="#2a6eb2"/>
<circle cx="571.80" cy="268.64" r="1.27" fill="#2a6eb2"/>
<circle cx="574.30" cy="268.64" r="1.27" fill="#2a6eb2"/>
<circle cx="590.30" cy="271.53" r="1.27" fill="#a6c8e6"/>
<circle cx="589.60" cy="274.41" r="1.27" fill="#a6c8e6"/>
<circle cx="591.70" cy="274.41" r="1.27" fill="#a6c8e6"/>
<circle cx="612.30" cy="274.41" r="1.27" fill="#a6c8e6"/>
<circle cx="583.70" cy="277.30" r="1.27" fill="#a6c8e6"/>
<circle cx="575.80" cy="280.18" r="1.27" fill="#2a6eb2"/>
<circle cx="580.40" cy="280.18" r="1.27" fill="#2a6eb2"/>
<circle cx="582.00" cy="280.18" r="1.27" fill="#2a6eb2"/>
<circle cx="586.60" cy="280.18" r="1.27" fill="#a6c8e6"/>
<circle cx="591.20" cy="280.18" r="1.27" fill="#a6c8e6"/>
<circle cx="593.25" cy="280.18" r="1.27" fill="#a6c8e6"/>
<circle cx="595.30" cy="280.18" r="1.27" fill="#a6c8e6"/>
<circle cx="572.30" cy="283.06" r="1.27" fill="#2a6eb2"/>
<circle cx="574.05" cy="283.06" r="1.27" fill="#2a6eb2"/>
<circle cx="575.80" cy="283.06" r="1.27" fill="#2a6eb2"/>
<circle cx="581.00" cy="283.06" r="1.27" fill="#2a6eb2"/>
<circle cx="598.30" cy="283.06" r="1.27" fill="#2a6eb2"/>
<circle cx="607.50" cy="283.06" r="1.27" fill="#a6c8e6"/>
<circle cx="609.60" cy="283.06" r="1.27" fill="#a6c8e6"/>
<circle cx="612.60" cy="283.06" r="1.27" fill="#a6c8e6"/>
<circle cx="582.50" cy="285.95" r="1.27" fill="#2a6eb2"/>
<circle cx="575.30" cy="288.84" r="1.27" fill="#2a6eb2"/>
<circle cx="579.40" cy="288.84" r="1.27" fill="#2a6eb2"/>
<circle cx="582.00" cy="288.84" r="1.27" fill="#2a6eb2"/>
<circle cx="603.40" cy="288.84" r="1.27" fill="#2a6eb2"/>
<circle cx="568.70" cy="288.84" r="1.27" fill="#a6c8e6"/>
<circle cx="589.10" cy="288.84" r="1.27" fill="#a6c8e6"/>
<circle cx="590.97" cy="288.84" r="1.27" fill="#a6c8e6"/>
<circle cx="592.83" cy="288.84" r="1.27" fill="#a6c8e6"/>
<circle cx="594.70" cy="288.84" r="1.27" fill="#a6c8e6"/>
<circle cx="610.60" cy="288.84" r="1.27" fill="#a6c8e6"/>
<text x="95.60" y="329.20" font-size="11.8" font-weight="bold" fill="#111" stroke="#111" stroke-width="0.3" text-anchor="middle" textLength="5.64" lengthAdjust="spacingAndGlyphs" >1</text>
<text x="144.70" y="329.20" font-size="11.8" font-weight="bold" fill="#111" stroke="#111" stroke-width="0.3" text-anchor="middle" textLength="5.64" lengthAdjust="spacingAndGlyphs" >2</text>
<text x="181.20" y="329.20" font-size="11.8" font-weight="bold" fill="#111" stroke="#111" stroke-width="0.3" text-anchor="middle" textLength="5.64" lengthAdjust="spacingAndGlyphs" >3</text>
<text x="219.10" y="329.20" font-size="11.8" font-weight="bold" fill="#111" stroke="#111" stroke-width="0.3" text-anchor="middle" textLength="5.64" lengthAdjust="spacingAndGlyphs" >4</text>
<text x="256.00" y="329.20" font-size="11.8" font-weight="bold" fill="#111" stroke="#111" stroke-width="0.3" text-anchor="middle" textLength="5.64" lengthAdjust="spacingAndGlyphs" >5</text>
<text x="289.60" y="329.20" font-size="11.8" font-weight="bold" fill="#111" stroke="#111" stroke-width="0.3" text-anchor="middle" textLength="5.64" lengthAdjust="spacingAndGlyphs" >6</text>
<text x="318.20" y="329.20" font-size="11.8" font-weight="bold" fill="#111" stroke="#111" stroke-width="0.3" text-anchor="middle" textLength="5.64" lengthAdjust="spacingAndGlyphs" >7</text>
<text x="348.00" y="329.20" font-size="11.8" font-weight="bold" fill="#111" stroke="#111" stroke-width="0.3" text-anchor="middle" textLength="5.64" lengthAdjust="spacingAndGlyphs" >8</text>
<text x="373.40" y="329.20" font-size="11.8" font-weight="bold" fill="#111" stroke="#111" stroke-width="0.3" text-anchor="middle" textLength="5.64" lengthAdjust="spacingAndGlyphs" >9</text>
<text x="396.80" y="329.20" font-size="11.8" font-weight="bold" fill="#111" stroke="#111" stroke-width="0.3" text-anchor="middle" textLength="11.28" lengthAdjust="spacingAndGlyphs" >10</text>
<text x="422.50" y="329.20" font-size="11.8" font-weight="bold" fill="#111" stroke="#111" stroke-width="0.3" text-anchor="middle" textLength="11.28" lengthAdjust="spacingAndGlyphs" >11</text>
<text x="447.70" y="329.20" font-size="11.8" font-weight="bold" fill="#111" stroke="#111" stroke-width="0.3" text-anchor="middle" textLength="11.28" lengthAdjust="spacingAndGlyphs" >12</text>
<text x="473.10" y="329.20" font-size="11.8" font-weight="bold" fill="#111" stroke="#111" stroke-width="0.3" text-anchor="middle" textLength="11.28" lengthAdjust="spacingAndGlyphs" >13</text>
<text x="498.20" y="329.20" font-size="11.8" font-weight="bold" fill="#111" stroke="#111" stroke-width="0.3" text-anchor="middle" textLength="11.28" lengthAdjust="spacingAndGlyphs" >14</text>
<text x="514.00" y="329.20" font-size="11.8" font-weight="bold" fill="#111" stroke="#111" stroke-width="0.3" text-anchor="middle" textLength="11.28" lengthAdjust="spacingAndGlyphs" >15</text>
<text x="536.20" y="329.20" font-size="11.8" font-weight="bold" fill="#111" stroke="#111" stroke-width="0.3" text-anchor="middle" textLength="11.28" lengthAdjust="spacingAndGlyphs" >16</text>
<text x="547.90" y="329.20" font-size="11.8" font-weight="bold" fill="#111" stroke="#111" stroke-width="0.3" text-anchor="middle" textLength="11.28" lengthAdjust="spacingAndGlyphs" >17</text>
<text x="568.30" y="329.20" font-size="11.8" font-weight="bold" fill="#111" stroke="#111" stroke-width="0.3" text-anchor="middle" textLength="11.28" lengthAdjust="spacingAndGlyphs" >18</text>
<text x="584.80" y="329.20" font-size="11.8" font-weight="bold" fill="#111" stroke="#111" stroke-width="0.3" text-anchor="middle" textLength="11.28" lengthAdjust="spacingAndGlyphs" >19</text>
<text x="605.30" y="329.20" font-size="11.8" font-weight="bold" fill="#111" stroke="#111" stroke-width="0.3" text-anchor="middle" textLength="11.28" lengthAdjust="spacingAndGlyphs" >20</text>
<text x="622.00" y="329.20" font-size="11.8" font-weight="bold" fill="#111" stroke="#111" stroke-width="0.3" text-anchor="middle" textLength="11.28" lengthAdjust="spacingAndGlyphs" >22</text>
<text x="637.60" y="329.20" font-size="11.8" font-weight="bold" fill="#111" stroke="#111" stroke-width="0.3" text-anchor="middle" textLength="6.79" lengthAdjust="spacingAndGlyphs" >X</text>
<circle cx="75.10" cy="265.90" r="1.1" fill="#e3241b"/>
<circle cx="95.90" cy="257.20" r="1.1" fill="#e3241b"/>
<circle cx="121.40" cy="242.60" r="1.1" fill="#e3241b"/>
<circle cx="138.50" cy="222.70" r="1.1" fill="#e3241b"/>
<circle cx="136.00" cy="263.10" r="1.1" fill="#e3241b"/>
<circle cx="155.00" cy="265.60" r="1.1" fill="#e3241b"/>
<circle cx="175.50" cy="251.50" r="1.1" fill="#e3241b"/>
<circle cx="176.30" cy="260.10" r="1.1" fill="#e3241b"/>
<circle cx="181.50" cy="237.00" r="1.1" fill="#e3241b"/>
<circle cx="204.10" cy="170.40" r="1.1" fill="#e3241b"/>
<circle cx="274.90" cy="207.90" r="1.1" fill="#e3241b"/>
<circle cx="279.70" cy="231.20" r="1.1" fill="#e3241b"/>
<circle cx="293.30" cy="245.50" r="1.1" fill="#e3241b"/>
<circle cx="286.00" cy="260.00" r="1.1" fill="#e3241b"/>
<circle cx="293.00" cy="260.00" r="1.1" fill="#e3241b"/>
<circle cx="310.50" cy="251.60" r="1.1" fill="#e3241b"/>
<circle cx="317.70" cy="260.30" r="1.1" fill="#e3241b"/>
<circle cx="322.70" cy="262.60" r="1.1" fill="#e3241b"/>
<circle cx="358.80" cy="170.50" r="1.1" fill="#e3241b"/>
<circle cx="358.70" cy="222.50" r="1.1" fill="#e3241b"/>
<circle cx="367.70" cy="265.80" r="1.1" fill="#e3241b"/>
<circle cx="387.20" cy="257.10" r="1.1" fill="#e3241b"/>
<circle cx="398.30" cy="254.30" r="1.1" fill="#e3241b"/>
<circle cx="399.10" cy="262.70" r="1.1" fill="#e3241b"/>
<circle cx="421.20" cy="265.70" r="1.1" fill="#e3241b"/>
<circle cx="426.20" cy="245.70" r="1.1" fill="#e3241b"/>
<circle cx="426.50" cy="170.50" r="1.1" fill="#e3241b"/>
<circle cx="426.80" cy="260.00" r="1.1" fill="#e3241b"/>
<circle cx="427.20" cy="260.00" r="1.1" fill="#e3241b"/>
<circle cx="428.60" cy="265.80" r="1.1" fill="#e3241b"/>
<circle cx="433.50" cy="260.00" r="1.1" fill="#e3241b"/>
<circle cx="438.30" cy="262.70" r="1.1" fill="#e3241b"/>
<circle cx="461.40" cy="239.90" r="1.1" fill="#e3241b"/>
<circle cx="461.80" cy="245.50" r="1.1" fill="#e3241b"/>
<circle cx="472.90" cy="248.60" r="1.1" fill="#e3241b"/>
<circle cx="505.00" cy="170.20" r="1.1" fill="#e3241b"/>
<circle cx="513.30" cy="265.80" r="1.1" fill="#e3241b"/>
<circle cx="538.80" cy="239.90" r="1.1" fill="#e3241b"/>
<circle cx="549.80" cy="239.90" r="1.1" fill="#e3241b"/>
<circle cx="549.00" cy="254.50" r="1.1" fill="#e3241b"/>
<circle cx="555.60" cy="259.60" r="1.1" fill="#e3241b"/>
<circle cx="571.40" cy="260.10" r="1.1" fill="#e3241b"/>
<circle cx="573.00" cy="254.30" r="1.1" fill="#e3241b"/>
<circle cx="575.20" cy="257.10" r="1.1" fill="#e3241b"/>
<circle cx="589.30" cy="257.10" r="1.1" fill="#e3241b"/>
<circle cx="576.30" cy="216.70" r="1.1" fill="#e3241b"/>
<circle cx="577.70" cy="216.70" r="1.1" fill="#e3241b"/>
<circle cx="608.30" cy="170.50" r="1.1" fill="#e3241b"/>
<circle cx="613.10" cy="251.40" r="1.1" fill="#e3241b"/>
<circle cx="631.00" cy="213.70" r="1.1" fill="#e3241b"/>
<circle cx="637.10" cy="257.00" r="1.1" fill="#e3241b"/>
<circle cx="642.00" cy="262.80" r="1.1" fill="#e3241b"/>
<line x1="299.40" y1="237.90" x2="293.30" y2="245.50" stroke="#1a1a1a" stroke-width="0.8" />
<line x1="304.00" y1="258.80" x2="317.70" y2="260.30" stroke="#1a1a1a" stroke-width="0.8" />
<line x1="322.70" y1="262.60" x2="330.10" y2="272.20" stroke="#1a1a1a" stroke-width="0.8" />
<line x1="383.90" y1="248.00" x2="398.30" y2="254.30" stroke="#1a1a1a" stroke-width="0.8" />
<line x1="379.30" y1="245.20" x2="375.50" y2="252.80" stroke="#1a1a1a" stroke-width="0.8" />
<line x1="387.20" y1="257.10" x2="399.10" y2="262.70" stroke="#1a1a1a" stroke-width="0.8" />
<line x1="396.80" y1="267.30" x2="421.20" y2="265.70" stroke="#1a1a1a" stroke-width="0.8" />
<line x1="540.30" y1="259.00" x2="555.60" y2="259.60" stroke="#1a1a1a" stroke-width="0.8" />
<line x1="588.60" y1="242.90" x2="573.00" y2="254.30" stroke="#1a1a1a" stroke-width="0.8" />
<line x1="590.80" y1="255.20" x2="575.20" y2="257.10" stroke="#1a1a1a" stroke-width="0.8" />
<line x1="624.70" y1="246.80" x2="613.10" y2="251.40" stroke="#1a1a1a" stroke-width="0.8" />
<circle cx="383.1" cy="252.6" r="1.8" fill="none" stroke="#1a1a1a" stroke-width="0.9"/>
<text x="88.05" y="253.60" font-size="8.5" font-weight="bold" fill="#151515" stroke="#151515" stroke-width="0.2" textLength="19.70" lengthAdjust="spacingAndGlyphs" >1p12</text>
<text x="52.75" y="272.30" font-size="8.5" font-weight="bold" fill="#151515" stroke="#151515" stroke-width="0.2" textLength="19.50" lengthAdjust="spacingAndGlyphs" >1p36</text>
<text x="114.95" y="225.30" font-size="8.5" font-weight="bold" fill="#151515" stroke="#151515" stroke-width="0.2" textLength="20.00" lengthAdjust="spacingAndGlyphs" >2p11</text>
<text x="124.85" y="241.30" font-size="8.5" font-weight="bold" fill="#151515" stroke="#151515" stroke-width="0.2" textLength="20.60" lengthAdjust="spacingAndGlyphs" >2p25</text>
<text x="113.75" y="262.40" font-size="8.5" font-weight="bold" fill="#151515" stroke="#151515" stroke-width="0.2" textLength="20.30" lengthAdjust="spacingAndGlyphs" >2p12</text>
<text x="153.25" y="250.90" font-size="8.5" font-weight="bold" fill="#151515" stroke="#151515" stroke-width="0.2" textLength="20.00" lengthAdjust="spacingAndGlyphs" >3p21</text>
<text x="152.65" y="274.20" font-size="8.5" font-weight="bold" fill="#151515" stroke="#151515" stroke-width="0.2" textLength="19.80" lengthAdjust="spacingAndGlyphs" >2q32</text>
<text x="184.75" y="236.30" font-size="8.5" font-weight="bold" fill="#151515" stroke="#151515" stroke-width="0.2" textLength="19.90" lengthAdjust="spacingAndGlyphs" >3q12</text>
<text x="180.45" y="266.30" font-size="8.5" font-weight="bold" fill="#151515" stroke="#151515" stroke-width="0.2" textLength="19.70" lengthAdjust="spacingAndGlyphs" >3q21</text>
<text x="207.15" y="171.60" font-size="8.5" font-weight="bold" fill="#151515" stroke="#151515" stroke-width="0.2" textLength="20.20" lengthAdjust="spacingAndGlyphs" >4p16</text>
<text x="278.45" y="207.40" font-size="8.5" font-weight="bold" fill="#151515" stroke="#151515" stroke-width="0.2" textLength="19.50" lengthAdjust="spacingAndGlyphs" >6p24</text>
<text x="257.45" y="230.20" font-size="8.5" font-weight="bold" fill="#151515" stroke="#151515" stroke-width="0.2" textLength="19.20" lengthAdjust="spacingAndGlyphs" >6p21</text>
<text x="271.35" y="244.70" font-size="8.5" font-weight="bold" fill="#151515" stroke="#151515" stroke-width="0.2" textLength="19.70" lengthAdjust="spacingAndGlyphs" >6q21</text>
<text x="309.05" y="244.70" font-size="8.5" font-weight="bold" fill="#151515" stroke="#151515" stroke-width="0.2" textLength="19.50" lengthAdjust="spacingAndGlyphs" >7p15</text>
<text x="288.95" y="256.80" font-size="8.5" font-weight="bold" fill="#151515" stroke="#151515" stroke-width="0.2" textLength="19.40" lengthAdjust="spacingAndGlyphs" >7q11</text>
<text x="263.15" y="264.70" font-size="8.5" font-weight="bold" fill="#151515" stroke="#151515" stroke-width="0.2" textLength="19.80" lengthAdjust="spacingAndGlyphs" >6q12</text>
<text x="294.15" y="269.00" font-size="8.5" font-weight="bold" fill="#151515" stroke="#151515" stroke-width="0.2" textLength="19.70" lengthAdjust="spacingAndGlyphs" >6q16</text>
<text x="319.95" y="278.70" font-size="8.5" font-weight="bold" fill="#151515" stroke="#151515" stroke-width="0.2" textLength="19.50" lengthAdjust="spacingAndGlyphs" >7q21</text>
<text x="334.45" y="251.50" font-size="8.5" font-weight="bold" fill="#151515" stroke="#151515" stroke-width="0.2" textLength="19.80" lengthAdjust="spacingAndGlyphs" >9q34</text>
<text x="333.55" y="266.30" font-size="8.5" font-weight="bold" fill="#151515" stroke="#151515" stroke-width="0.2" textLength="19.90" lengthAdjust="spacingAndGlyphs" >9p21</text>
<text x="362.95" y="171.60" font-size="8.5" font-weight="bold" fill="#151515" stroke="#151515" stroke-width="0.2" textLength="20.50" lengthAdjust="spacingAndGlyphs" >8q24</text>
<text x="362.25" y="221.60" font-size="8.5" font-weight="bold" fill="#151515" stroke="#151515" stroke-width="0.2" textLength="20.30" lengthAdjust="spacingAndGlyphs" >8q24</text>
<text x="399.65" y="177.70" font-size="8.5" font-weight="bold" fill="#151515" stroke="#151515" stroke-width="0.2" textLength="24.50" lengthAdjust="spacingAndGlyphs" >11q13</text>
<text x="477.65" y="177.70" font-size="8.5" font-weight="bold" fill="#151515" stroke="#151515" stroke-width="0.2" textLength="24.80" lengthAdjust="spacingAndGlyphs" >14q32</text>
<text x="611.85" y="171.90" font-size="8.5" font-weight="bold" fill="#151515" stroke="#151515" stroke-width="0.2" textLength="24.30" lengthAdjust="spacingAndGlyphs" >22q11</text>
<text x="370.75" y="246.90" font-size="8.5" font-weight="bold" fill="#151515" stroke="#151515" stroke-width="0.2" textLength="24.30" lengthAdjust="spacingAndGlyphs" >10q11</text>
<text x="402.25" y="242.10" font-size="8.5" font-weight="bold" fill="#151515" stroke="#151515" stroke-width="0.2" textLength="24.20" lengthAdjust="spacingAndGlyphs" >11q13</text>
<text x="402.65" y="256.50" font-size="8.5" font-weight="bold" fill="#151515" stroke="#151515" stroke-width="0.2" textLength="24.10" lengthAdjust="spacingAndGlyphs" >11q13</text>
<text x="360.55" y="258.80" font-size="8.5" font-weight="bold" fill="#151515" stroke="#151515" stroke-width="0.2" textLength="27.40" lengthAdjust="spacingAndGlyphs" >10q21</text>
<text x="371.75" y="271.00" font-size="8.5" font-weight="bold" fill="#151515" stroke="#151515" stroke-width="0.2" textLength="24.60" lengthAdjust="spacingAndGlyphs" >11q12</text>
<text x="403.15" y="275.20" font-size="8.5" font-weight="bold" fill="#151515" stroke="#151515" stroke-width="0.2" textLength="23.60" lengthAdjust="spacingAndGlyphs" >11q14</text>
<text x="434.95" y="244.40" font-size="8.5" font-weight="bold" fill="#151515" stroke="#151515" stroke-width="0.2" textLength="24.50" lengthAdjust="spacingAndGlyphs" >12q24</text>
<text x="465.35" y="238.60" font-size="8.5" font-weight="bold" fill="#151515" stroke="#151515" stroke-width="0.2" textLength="24.60" lengthAdjust="spacingAndGlyphs" >12q24</text>
<text x="476.55" y="255.00" font-size="8.5" font-weight="bold" fill="#151515" stroke="#151515" stroke-width="0.2" textLength="24.90" lengthAdjust="spacingAndGlyphs" >13q14</text>
<text x="433.15" y="256.10" font-size="8.5" font-weight="bold" fill="#151515" stroke="#151515" stroke-width="0.2" textLength="24.10" lengthAdjust="spacingAndGlyphs" >11q22</text>
<text x="448.95" y="267.80" font-size="8.5" font-weight="bold" fill="#151515" stroke="#151515" stroke-width="0.2" textLength="24.50" lengthAdjust="spacingAndGlyphs" >11q25</text>
<text x="483.15" y="267.20" font-size="8.5" font-weight="bold" fill="#151515" stroke="#151515" stroke-width="0.2" textLength="24.10" lengthAdjust="spacingAndGlyphs" >15q15</text>
<text x="512.05" y="241.30" font-size="8.5" font-weight="bold" fill="#151515" stroke="#151515" stroke-width="0.2" textLength="24.40" lengthAdjust="spacingAndGlyphs" >16q23</text>
<text x="515.05" y="262.20" font-size="8.5" font-weight="bold" fill="#151515" stroke="#151515" stroke-width="0.2" textLength="24.90" lengthAdjust="spacingAndGlyphs" >17q25</text>
<text x="549.55" y="215.40" font-size="8.5" font-weight="bold" fill="#151515" stroke="#151515" stroke-width="0.2" textLength="24.80" lengthAdjust="spacingAndGlyphs" >19p12</text>
<text x="544.95" y="236.70" font-size="8.5" font-weight="bold" fill="#151515" stroke="#151515" stroke-width="0.2" textLength="24.10" lengthAdjust="spacingAndGlyphs" >17q21</text>
<text x="576.15" y="241.70" font-size="8.5" font-weight="bold" fill="#151515" stroke="#151515" stroke-width="0.2" textLength="24.40" lengthAdjust="spacingAndGlyphs" >19p13</text>
<text x="545.75" y="250.90" font-size="8.5" font-weight="bold" fill="#151515" stroke="#151515" stroke-width="0.2" textLength="24.30" lengthAdjust="spacingAndGlyphs" >17q21</text>
<text x="545.75" y="267.60" font-size="8.5" font-weight="bold" fill="#151515" stroke="#151515" stroke-width="0.2" textLength="24.80" lengthAdjust="spacingAndGlyphs" >18q23</text>
<text x="586.35" y="254.40" font-size="8.5" font-weight="bold" fill="#151515" stroke="#151515" stroke-width="0.2" textLength="24.00" lengthAdjust="spacingAndGlyphs" >19p13</text>
<text x="592.75" y="266.10" font-size="8.5" font-weight="bold" fill="#151515" stroke="#151515" stroke-width="0.2" textLength="24.10" lengthAdjust="spacingAndGlyphs" >20q11</text>
<text x="612.25" y="223.00" font-size="8.5" font-weight="bold" fill="#151515" stroke="#151515" stroke-width="0.2" textLength="20.60" lengthAdjust="spacingAndGlyphs" >Xq21</text>
<text x="616.85" y="245.90" font-size="8.5" font-weight="bold" fill="#151515" stroke="#151515" stroke-width="0.2" textLength="24.60" lengthAdjust="spacingAndGlyphs" >22q13</text>
<text x="641.45" y="258.10" font-size="8.5" font-weight="bold" fill="#151515" stroke="#151515" stroke-width="0.2" textLength="20.50" lengthAdjust="spacingAndGlyphs" >Xq25</text>
<text x="645.65" y="270.30" font-size="8.5" font-weight="bold" fill="#151515" stroke="#151515" stroke-width="0.2" textLength="20.60" lengthAdjust="spacingAndGlyphs" >Xq28</text>
<text x="61.20" y="261.60" font-size="8.2" font-weight="bold" fill="#26aca6" stroke="#26aca6" stroke-width="0.2" font-style="italic" textLength="31.60" lengthAdjust="spacingAndGlyphs" >FAM46C</text>
<text x="130.20" y="215.70" font-size="8.2" font-weight="bold" fill="#26aca6" stroke="#26aca6" stroke-width="0.2" font-style="italic" textLength="14.40" lengthAdjust="spacingAndGlyphs" >IGK</text>
<text x="175.40" y="171.30" font-size="8.2" font-weight="bold" fill="#26aca6" stroke="#26aca6" stroke-width="0.2" font-style="italic" textLength="26.10" lengthAdjust="spacingAndGlyphs" >FGFR3</text>
<text x="238.20" y="209.40" font-size="8.2" font-weight="bold" fill="#26aca6" stroke="#26aca6" stroke-width="0.2" font-style="italic" textLength="31.80" lengthAdjust="spacingAndGlyphs" >TXNDC5</text>
<text x="287.10" y="237.40" font-size="8.2" font-weight="bold" fill="#26aca6" stroke="#26aca6" stroke-width="0.2" textLength="27.00" lengthAdjust="spacingAndGlyphs" >FOXO3</text>
<text x="336.60" y="171.60" font-size="8.2" font-weight="bold" fill="#26aca6" stroke="#26aca6" stroke-width="0.2" font-style="italic" textLength="17.90" lengthAdjust="spacingAndGlyphs" >MYC</text>
<text x="430.50" y="170.70" font-size="8.2" font-weight="bold" fill="#26aca6" stroke="#26aca6" stroke-width="0.2" font-style="italic" textLength="27.40" lengthAdjust="spacingAndGlyphs" >CCND1</text>
<text x="509.30" y="170.10" font-size="8.2" font-weight="bold" fill="#26aca6" stroke="#26aca6" stroke-width="0.2" font-style="italic" textLength="14.40" lengthAdjust="spacingAndGlyphs" >IGH</text>
<text x="595.60" y="165.60" font-size="8.2" font-weight="bold" fill="#26aca6" stroke="#26aca6" stroke-width="0.2" font-style="italic" textLength="12.90" lengthAdjust="spacingAndGlyphs" >IGL</text>
<text x="526.40" y="233.70" font-size="8.2" font-weight="bold" fill="#26aca6" stroke="#26aca6" stroke-width="0.2" textLength="16.80" lengthAdjust="spacingAndGlyphs" >MAF</text>
</svg>
</body></html>
